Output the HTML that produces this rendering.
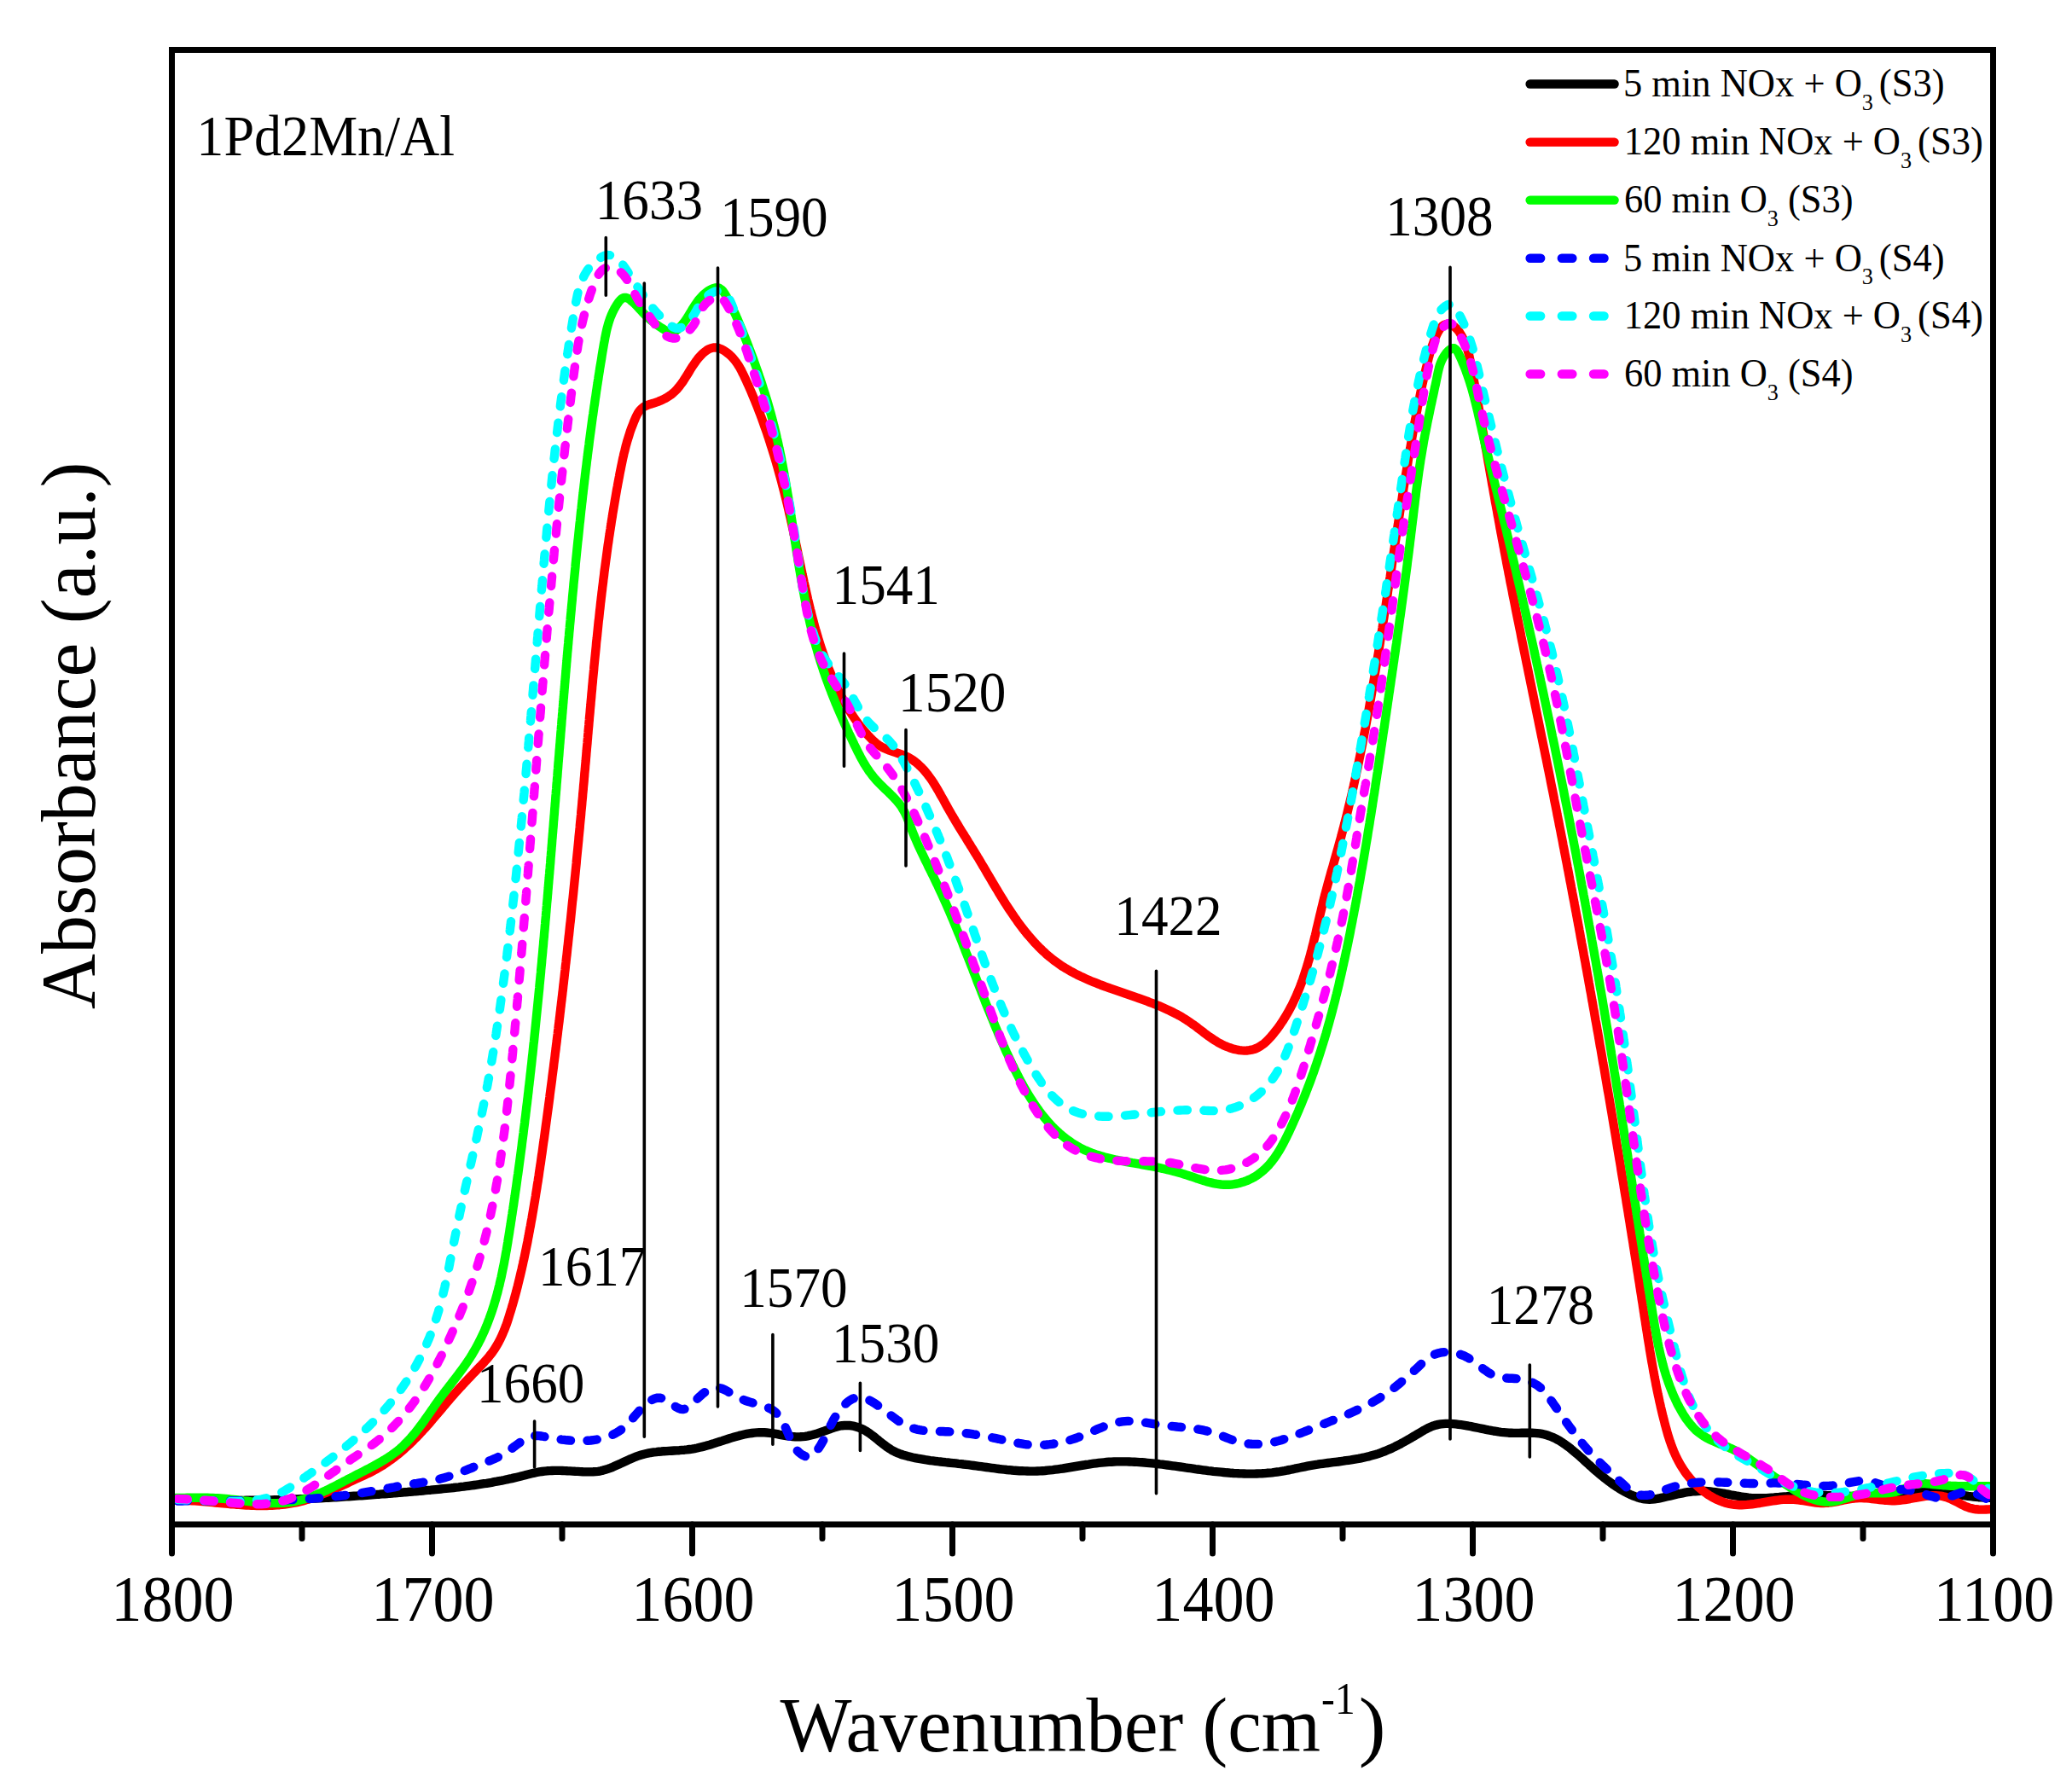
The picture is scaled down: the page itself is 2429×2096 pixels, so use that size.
<!DOCTYPE html>
<html><head><meta charset="utf-8"><title>FTIR 1Pd2Mn/Al</title>
<style>html,body{margin:0;padding:0;background:#fff}svg{display:block}text{font-family:"Liberation Serif",serif;fill:#000;white-space:pre}</style></head><body>
<svg width="2429" height="2096" viewBox="0 0 2429 2096">
<rect width="2429" height="2096" fill="#fff"/>
<defs><clipPath id="pc"><rect x="201.5" y="58.5" width="2135.0" height="1728.5"/></clipPath></defs>
<g clip-path="url(#pc)" fill="none" stroke-width="10.4" stroke-linecap="round" stroke-linejoin="round">
<path d="M177.5 1755.1L180.5 1755.3L183.5 1755.5L186.5 1755.8L189.5 1756.0L192.5 1756.2L195.5 1756.4L198.5 1756.5L201.5 1756.7L204.5 1756.9L207.6 1757.1L210.6 1757.2L213.6 1757.4L216.6 1757.5L219.6 1757.6L222.6 1757.8L225.6 1757.9L228.6 1758.0L231.6 1758.1L234.6 1758.2L237.6 1758.3L240.6 1758.4L243.6 1758.4L246.6 1758.5L249.6 1758.6L252.6 1758.6L255.6 1758.7L258.6 1758.7L261.6 1758.8L264.7 1758.8L267.7 1758.8L270.7 1758.9L273.7 1758.9L276.7 1758.9L279.7 1758.9L282.7 1758.9L285.7 1758.9L288.7 1758.8L291.7 1758.8L294.7 1758.8L297.7 1758.8L300.7 1758.7L303.7 1758.7L306.7 1758.6L309.7 1758.6L312.7 1758.5L315.7 1758.5L318.7 1758.4L321.8 1758.3L324.8 1758.2L327.8 1758.1L330.8 1758.1L333.8 1758.0L336.8 1757.9L339.8 1757.8L342.8 1757.7L345.8 1757.5L348.8 1757.4L351.8 1757.3L354.8 1757.2L357.8 1757.0L360.8 1756.9L363.8 1756.8L366.8 1756.6L369.8 1756.5L372.8 1756.3L375.8 1756.2L378.8 1756.0L381.8 1755.8L384.8 1755.7L387.8 1755.5L390.8 1755.3L393.8 1755.2L396.8 1755.0L399.9 1754.8L402.9 1754.6L405.9 1754.4L408.9 1754.2L411.9 1754.0L414.9 1753.8L417.9 1753.6L420.9 1753.4L423.9 1753.2L426.9 1753.0L429.9 1752.8L432.9 1752.6L435.9 1752.3L438.9 1752.1L441.9 1751.9L444.9 1751.7L447.9 1751.4L450.9 1751.2L453.9 1751.0L456.9 1750.7L459.9 1750.5L462.9 1750.2L465.9 1750.0L468.9 1749.7L471.9 1749.5L474.9 1749.2L477.8 1749.0L480.8 1748.7L483.8 1748.5L486.8 1748.2L489.8 1748.0L492.8 1747.7L495.8 1747.5L498.8 1747.2L501.8 1746.9L504.8 1746.7L507.8 1746.4L510.8 1746.1L513.8 1745.8L516.8 1745.5L519.8 1745.2L522.8 1744.9L525.8 1744.6L528.7 1744.3L531.7 1744.0L534.7 1743.6L537.7 1743.3L540.7 1742.9L543.7 1742.6L546.7 1742.2L549.6 1741.8L552.6 1741.4L555.6 1741.0L558.6 1740.6L561.5 1740.2L564.5 1739.7L567.5 1739.2L570.4 1738.8L573.4 1738.3L576.4 1737.8L579.3 1737.2L582.3 1736.7L585.2 1736.1L588.2 1735.6L591.2 1735.0L594.1 1734.3L597.1 1733.7L600.0 1733.1L602.9 1732.4L605.9 1731.7L608.8 1731.0L611.8 1730.2L614.7 1729.5L617.6 1728.7L620.6 1728.0L623.5 1727.3L626.4 1726.6L629.4 1726.0L632.3 1725.4L635.3 1725.0L638.2 1724.6L641.2 1724.3L644.2 1724.1L647.2 1724.0L650.2 1723.9L653.2 1723.9L656.2 1723.9L659.2 1724.0L662.2 1724.1L665.2 1724.3L668.2 1724.4L671.3 1724.6L674.3 1724.8L677.3 1724.9L680.3 1725.1L683.3 1725.3L686.3 1725.4L689.3 1725.4L692.3 1725.4L695.3 1725.3L698.3 1725.1L701.2 1724.8L704.1 1724.3L707.0 1723.6L709.8 1722.8L712.7 1721.9L715.5 1720.9L718.3 1719.8L721.0 1718.6L723.8 1717.3L726.6 1716.1L729.4 1714.8L732.1 1713.5L734.9 1712.2L737.7 1710.9L740.5 1709.7L743.3 1708.5L746.1 1707.4L749.0 1706.4L751.8 1705.5L754.7 1704.7L757.6 1704.0L760.5 1703.4L763.5 1702.9L766.4 1702.4L769.4 1702.1L772.3 1701.7L775.3 1701.5L778.3 1701.2L781.3 1701.1L784.3 1700.9L787.3 1700.7L790.3 1700.5L793.3 1700.4L796.3 1700.2L799.3 1699.9L802.3 1699.7L805.3 1699.4L808.3 1699.0L811.3 1698.6L814.2 1698.1L817.2 1697.5L820.1 1696.8L823.1 1696.1L826.0 1695.4L828.9 1694.5L831.9 1693.7L834.8 1692.8L837.7 1691.9L840.6 1690.9L843.5 1690.0L846.4 1689.1L849.3 1688.1L852.2 1687.2L855.1 1686.3L858.0 1685.4L860.9 1684.5L863.8 1683.7L866.7 1682.9L869.6 1682.2L872.5 1681.5L875.4 1680.9L878.4 1680.4L881.3 1680.0L884.2 1679.6L887.2 1679.4L890.2 1679.2L893.1 1679.2L896.1 1679.3L899.1 1679.5L902.1 1679.8L905.1 1680.2L908.1 1680.7L911.2 1681.2L914.2 1681.8L917.2 1682.3L920.2 1682.8L923.2 1683.3L926.2 1683.7L929.2 1684.1L932.2 1684.3L935.1 1684.4L938.1 1684.3L941.0 1684.1L943.9 1683.8L946.8 1683.3L949.6 1682.7L952.5 1682.0L955.4 1681.2L958.2 1680.4L961.1 1679.4L963.9 1678.4L966.8 1677.4L969.7 1676.3L972.6 1675.3L975.4 1674.2L978.3 1673.3L981.3 1672.4L984.2 1671.7L987.1 1671.2L990.0 1671.0L992.9 1670.9L995.9 1671.0L998.7 1671.4L1001.6 1671.9L1004.4 1672.7L1007.1 1673.6L1009.8 1674.7L1012.5 1676.0L1015.1 1677.5L1017.6 1679.1L1020.1 1680.8L1022.5 1682.6L1025.0 1684.5L1027.4 1686.5L1029.8 1688.4L1032.2 1690.4L1034.7 1692.3L1037.1 1694.2L1039.6 1696.1L1042.1 1697.8L1044.7 1699.4L1047.3 1700.9L1050.0 1702.2L1052.7 1703.4L1055.5 1704.5L1058.3 1705.5L1061.2 1706.3L1064.1 1707.1L1067.0 1707.8L1069.9 1708.5L1072.8 1709.1L1075.7 1709.7L1078.7 1710.2L1081.6 1710.7L1084.6 1711.2L1087.5 1711.6L1090.5 1712.1L1093.5 1712.4L1096.5 1712.8L1099.5 1713.2L1102.4 1713.5L1105.4 1713.8L1108.4 1714.2L1111.4 1714.5L1114.4 1714.8L1117.4 1715.1L1120.5 1715.4L1123.5 1715.8L1126.5 1716.1L1129.5 1716.5L1132.5 1716.8L1135.5 1717.2L1138.4 1717.6L1141.4 1718.0L1144.4 1718.4L1147.4 1718.8L1150.4 1719.2L1153.4 1719.6L1156.4 1720.0L1159.4 1720.4L1162.4 1720.8L1165.4 1721.2L1168.3 1721.6L1171.3 1722.0L1174.3 1722.3L1177.3 1722.6L1180.3 1723.0L1183.3 1723.2L1186.2 1723.5L1189.2 1723.8L1192.2 1724.0L1195.2 1724.2L1198.2 1724.3L1201.2 1724.4L1204.2 1724.5L1207.1 1724.6L1210.1 1724.6L1213.1 1724.6L1216.1 1724.5L1219.1 1724.4L1222.1 1724.2L1225.1 1724.0L1228.1 1723.7L1231.1 1723.4L1234.1 1723.1L1237.1 1722.7L1240.1 1722.3L1243.1 1721.9L1246.1 1721.5L1249.1 1721.0L1252.1 1720.5L1255.1 1720.0L1258.1 1719.5L1261.1 1719.0L1264.1 1718.5L1267.1 1718.0L1270.1 1717.5L1273.1 1717.0L1276.1 1716.6L1279.1 1716.1L1282.1 1715.7L1285.1 1715.3L1288.1 1714.9L1291.1 1714.6L1294.1 1714.3L1297.0 1714.0L1300.0 1713.8L1303.0 1713.7L1306.0 1713.5L1309.0 1713.4L1312.0 1713.4L1315.0 1713.4L1318.0 1713.4L1321.0 1713.4L1323.9 1713.5L1326.9 1713.6L1329.9 1713.7L1332.9 1713.9L1335.9 1714.1L1338.9 1714.3L1341.8 1714.5L1344.8 1714.8L1347.8 1715.1L1350.8 1715.4L1353.8 1715.7L1356.7 1716.0L1359.7 1716.4L1362.7 1716.7L1365.7 1717.1L1368.7 1717.5L1371.6 1717.9L1374.6 1718.3L1377.6 1718.7L1380.6 1719.1L1383.6 1719.5L1386.5 1719.9L1389.5 1720.4L1392.5 1720.8L1395.5 1721.2L1398.5 1721.6L1401.5 1722.1L1404.4 1722.5L1407.4 1722.9L1410.4 1723.3L1413.4 1723.7L1416.4 1724.1L1419.4 1724.4L1422.4 1724.8L1425.4 1725.1L1428.4 1725.4L1431.4 1725.7L1434.4 1726.0L1437.4 1726.3L1440.4 1726.5L1443.4 1726.8L1446.4 1727.0L1449.4 1727.1L1452.4 1727.3L1455.4 1727.4L1458.4 1727.5L1461.4 1727.6L1464.4 1727.6L1467.4 1727.6L1470.4 1727.6L1473.4 1727.5L1476.4 1727.4L1479.4 1727.3L1482.4 1727.1L1485.3 1726.8L1488.3 1726.6L1491.3 1726.3L1494.3 1725.9L1497.2 1725.5L1500.2 1725.1L1503.2 1724.6L1506.1 1724.1L1509.0 1723.5L1512.0 1723.0L1514.9 1722.4L1517.9 1721.7L1520.8 1721.1L1523.8 1720.5L1526.7 1719.9L1529.7 1719.3L1532.7 1718.7L1535.6 1718.1L1538.6 1717.6L1541.6 1717.1L1544.6 1716.7L1547.6 1716.2L1550.6 1715.8L1553.6 1715.4L1556.6 1715.0L1559.6 1714.6L1562.7 1714.2L1565.7 1713.8L1568.7 1713.5L1571.7 1713.1L1574.7 1712.7L1577.7 1712.2L1580.7 1711.8L1583.7 1711.4L1586.6 1710.9L1589.6 1710.4L1592.6 1709.9L1595.5 1709.3L1598.4 1708.7L1601.4 1708.0L1604.2 1707.4L1607.1 1706.6L1610.0 1705.8L1612.8 1705.0L1615.7 1704.1L1618.5 1703.1L1621.2 1702.0L1624.0 1701.0L1626.7 1699.8L1629.5 1698.6L1632.2 1697.4L1634.9 1696.1L1637.6 1694.7L1640.3 1693.4L1642.9 1691.9L1645.6 1690.5L1648.3 1689.0L1650.9 1687.5L1653.6 1686.0L1656.2 1684.4L1658.9 1682.9L1661.5 1681.3L1664.2 1679.7L1666.8 1678.1L1669.5 1676.5L1672.2 1675.1L1674.9 1673.7L1677.6 1672.5L1680.4 1671.4L1683.2 1670.6L1686.1 1669.9L1689.0 1669.4L1691.9 1669.1L1694.8 1668.9L1697.8 1668.9L1700.7 1669.0L1703.7 1669.1L1706.7 1669.4L1709.7 1669.8L1712.7 1670.2L1715.6 1670.6L1718.6 1671.1L1721.5 1671.7L1724.5 1672.2L1727.4 1672.8L1730.3 1673.4L1733.3 1674.0L1736.2 1674.6L1739.1 1675.2L1742.1 1675.8L1745.0 1676.4L1747.9 1676.9L1750.9 1677.5L1753.8 1677.9L1756.7 1678.4L1759.7 1678.8L1762.7 1679.1L1765.7 1679.4L1768.7 1679.7L1771.7 1679.8L1774.7 1679.9L1777.7 1679.9L1780.7 1679.9L1783.8 1679.8L1786.8 1679.8L1789.9 1679.7L1792.9 1679.7L1795.9 1679.8L1798.8 1679.9L1801.8 1680.1L1804.7 1680.4L1807.6 1680.9L1810.4 1681.5L1813.2 1682.3L1816.0 1683.2L1818.7 1684.3L1821.4 1685.4L1824.0 1686.7L1826.6 1688.1L1829.2 1689.6L1831.7 1691.2L1834.2 1692.9L1836.7 1694.7L1839.2 1696.5L1841.6 1698.4L1844.0 1700.4L1846.4 1702.4L1848.8 1704.4L1851.1 1706.5L1853.5 1708.6L1855.8 1710.7L1858.1 1712.8L1860.4 1714.9L1862.7 1717.0L1865.0 1719.0L1867.3 1721.1L1869.5 1723.1L1871.8 1725.1L1874.1 1727.0L1876.4 1728.9L1878.7 1730.8L1881.0 1732.7L1883.3 1734.5L1885.7 1736.3L1888.1 1738.0L1890.5 1739.8L1892.9 1741.4L1895.4 1743.1L1897.9 1744.7L1900.4 1746.2L1903.0 1747.7L1905.6 1749.2L1908.3 1750.6L1911.0 1751.9L1913.7 1753.1L1916.5 1754.2L1919.3 1755.2L1922.1 1756.1L1925.0 1756.8L1927.9 1757.3L1930.8 1757.6L1933.7 1757.7L1936.7 1757.6L1939.7 1757.3L1942.7 1756.9L1945.6 1756.3L1948.6 1755.7L1951.6 1755.0L1954.6 1754.3L1957.6 1753.6L1960.6 1752.9L1963.5 1752.2L1966.5 1751.5L1969.5 1750.9L1972.5 1750.3L1975.4 1749.7L1978.4 1749.2L1981.4 1748.8L1984.3 1748.4L1987.3 1748.2L1990.3 1748.0L1993.2 1747.9L1996.2 1747.9L1999.2 1748.0L2002.1 1748.2L2005.1 1748.5L2008.1 1748.8L2011.0 1749.2L2014.0 1749.6L2017.0 1750.1L2020.0 1750.6L2022.9 1751.2L2025.9 1751.7L2028.9 1752.3L2031.9 1752.8L2034.9 1753.4L2037.8 1753.9L2040.8 1754.4L2043.8 1754.8L2046.8 1755.2L2049.8 1755.6L2052.8 1755.9L2055.8 1756.1L2058.8 1756.2L2061.8 1756.3L2064.8 1756.2L2067.8 1756.2L2070.7 1756.1L2073.7 1755.9L2076.7 1755.7L2079.7 1755.5L2082.7 1755.2L2085.7 1755.0L2088.7 1754.7L2091.8 1754.4L2094.8 1754.2L2097.8 1753.9L2100.8 1753.7L2103.8 1753.5L2106.8 1753.3L2109.8 1753.2L2112.8 1753.0L2115.8 1753.0L2118.8 1752.9L2121.8 1752.9L2124.8 1752.9L2127.8 1752.9L2130.8 1752.9L2133.8 1752.9L2136.8 1753.0L2139.8 1753.0L2142.8 1753.1L2145.8 1753.2L2148.8 1753.3L2151.9 1753.4L2154.9 1753.5L2157.9 1753.6L2160.9 1753.7L2163.9 1753.7L2166.9 1753.8L2169.9 1753.9L2172.9 1754.0L2175.9 1754.0L2178.9 1754.1L2181.9 1754.1L2184.9 1754.1L2188.0 1754.1L2191.0 1754.0L2194.0 1753.9L2197.0 1753.9L2200.0 1753.8L2203.0 1753.6L2206.0 1753.5L2209.0 1753.3L2212.0 1753.1L2215.0 1752.9L2218.0 1752.7L2221.0 1752.4L2224.0 1752.2L2227.0 1751.9L2230.0 1751.5L2233.0 1751.2L2236.0 1750.9L2239.0 1750.6L2242.0 1750.3L2244.9 1750.0L2247.9 1749.7L2250.9 1749.5L2253.9 1749.3L2256.8 1749.1L2259.8 1749.0L2262.8 1748.9L2265.8 1749.0L2268.7 1749.1L2271.7 1749.2L2274.7 1749.4L2277.6 1749.7L2280.6 1750.0L2283.6 1750.4L2286.6 1750.7L2289.5 1751.2L2292.5 1751.6L2295.5 1752.0L2298.5 1752.5L2301.4 1752.9L2304.4 1753.3L2307.4 1753.8L2310.4 1754.2L2313.4 1754.5L2316.4 1754.9L2319.4 1755.2L2322.4 1755.4L2325.4 1755.6L2328.4 1755.8L2331.4 1755.9L2334.4 1755.9L2337.4 1755.8L2340.4 1755.7L2343.4 1755.5L2346.5 1755.2L2349.5 1755.0L2352.5 1754.8L2355.5 1754.7L2358.5 1754.6L2361.5 1754.7" stroke="#000000"/>
<path d="M177.7 1759.7L180.6 1759.3L183.6 1759.1L186.5 1758.8L189.4 1758.7L192.4 1758.5L195.3 1758.4L198.3 1758.4L201.3 1758.3L204.2 1758.3L207.2 1758.4L210.2 1758.4L213.2 1758.5L216.2 1758.7L219.2 1758.8L222.2 1759.0L225.2 1759.2L228.2 1759.4L231.3 1759.6L234.3 1759.8L237.3 1760.1L240.3 1760.3L243.4 1760.6L246.4 1760.9L249.4 1761.2L252.5 1761.5L255.5 1761.8L258.5 1762.0L261.6 1762.3L264.6 1762.6L267.6 1762.9L270.7 1763.2L273.7 1763.4L276.7 1763.7L279.7 1763.9L282.8 1764.1L285.8 1764.3L288.8 1764.5L291.8 1764.6L294.8 1764.8L297.9 1764.9L300.9 1765.0L303.9 1765.0L306.9 1765.0L309.9 1765.0L312.8 1765.0L315.8 1764.9L318.8 1764.8L321.8 1764.6L324.7 1764.4L327.7 1764.2L330.6 1763.9L333.5 1763.6L336.5 1763.2L339.4 1762.7L342.3 1762.2L345.2 1761.7L348.1 1761.1L351.0 1760.4L353.9 1759.7L356.7 1758.9L359.6 1758.1L362.4 1757.2L365.3 1756.3L368.1 1755.3L370.9 1754.3L373.7 1753.2L376.5 1752.1L379.3 1751.0L382.1 1749.9L384.9 1748.7L387.7 1747.5L390.4 1746.3L393.2 1745.0L395.9 1743.8L398.7 1742.5L401.4 1741.2L404.2 1740.0L406.9 1738.7L409.7 1737.4L412.4 1736.1L415.1 1734.8L417.8 1733.6L420.6 1732.3L423.3 1731.1L426.0 1729.8L428.7 1728.5L431.4 1727.3L434.0 1726.0L436.7 1724.6L439.3 1723.2L441.9 1721.8L444.5 1720.3L447.0 1718.8L449.6 1717.2L452.1 1715.5L454.5 1713.9L457.0 1712.1L459.4 1710.4L461.8 1708.6L464.2 1706.7L466.6 1704.8L468.9 1702.9L471.2 1701.0L473.5 1699.0L475.7 1697.0L478.0 1694.9L480.2 1692.9L482.4 1690.8L484.5 1688.7L486.6 1686.5L488.8 1684.4L490.9 1682.2L492.9 1680.0L495.0 1677.8L497.0 1675.6L499.0 1673.4L501.0 1671.1L503.0 1668.9L504.9 1666.6L506.9 1664.3L508.8 1662.0L510.8 1659.8L512.7 1657.5L514.7 1655.2L516.6 1652.9L518.5 1650.6L520.4 1648.3L522.4 1646.0L524.3 1643.7L526.2 1641.5L528.2 1639.2L530.1 1636.9L532.1 1634.7L534.1 1632.4L536.1 1630.2L538.1 1628.0L540.1 1625.8L542.2 1623.6L544.2 1621.4L546.3 1619.2L548.3 1617.0L550.4 1614.8L552.5 1612.6L554.5 1610.5L556.6 1608.3L558.7 1606.1L560.8 1603.9L562.9 1601.8L565.0 1599.6L567.0 1597.4L569.0 1595.1L571.0 1592.9L573.0 1590.6L574.8 1588.3L576.7 1585.9L578.4 1583.5L580.1 1581.0L581.6 1578.5L583.1 1576.0L584.6 1573.4L586.0 1570.7L587.3 1568.0L588.5 1565.3L589.7 1562.6L590.9 1559.8L592.0 1557.0L593.1 1554.2L594.1 1551.4L595.1 1548.5L596.0 1545.6L596.9 1542.7L597.8 1539.8L598.7 1536.9L599.6 1534.0L600.4 1531.1L601.3 1528.2L602.1 1525.3L602.9 1522.4L603.7 1519.5L604.5 1516.6L605.3 1513.7L606.0 1510.8L606.8 1507.8L607.5 1504.9L608.2 1502.0L608.9 1499.1L609.6 1496.2L610.3 1493.2L611.0 1490.3L611.7 1487.4L612.3 1484.5L613.0 1481.6L613.6 1478.6L614.3 1475.7L614.9 1472.8L615.5 1469.8L616.1 1466.9L616.7 1464.0L617.3 1461.0L617.9 1458.1L618.5 1455.2L619.0 1452.2L619.6 1449.3L620.1 1446.3L620.7 1443.4L621.2 1440.4L621.8 1437.5L622.3 1434.6L622.8 1431.6L623.4 1428.7L623.9 1425.7L624.4 1422.7L624.9 1419.8L625.4 1416.8L625.9 1413.9L626.4 1410.9L626.9 1408.0L627.4 1405.0L627.9 1402.0L628.3 1399.1L628.8 1396.1L629.3 1393.2L629.7 1390.2L630.2 1387.2L630.7 1384.3L631.1 1381.3L631.6 1378.3L632.0 1375.3L632.4 1372.4L632.9 1369.4L633.3 1366.4L633.8 1363.5L634.2 1360.5L634.6 1357.5L635.0 1354.5L635.5 1351.6L635.9 1348.6L636.3 1345.6L636.7 1342.6L637.1 1339.7L637.6 1336.7L638.0 1333.7L638.4 1330.7L638.8 1327.8L639.2 1324.8L639.6 1321.8L640.0 1318.8L640.4 1315.9L640.8 1312.9L641.2 1309.9L641.6 1306.9L642.0 1303.9L642.4 1301.0L642.8 1298.0L643.2 1295.0L643.6 1292.0L644.0 1289.1L644.4 1286.1L644.7 1283.1L645.1 1280.1L645.5 1277.1L645.9 1274.2L646.3 1271.2L646.7 1268.2L647.1 1265.2L647.4 1262.2L647.8 1259.3L648.2 1256.3L648.6 1253.3L649.0 1250.3L649.3 1247.4L649.7 1244.4L650.1 1241.4L650.5 1238.4L650.8 1235.4L651.2 1232.5L651.6 1229.5L651.9 1226.5L652.3 1223.5L652.7 1220.5L653.0 1217.6L653.4 1214.6L653.8 1211.6L654.1 1208.6L654.5 1205.6L654.8 1202.7L655.2 1199.7L655.6 1196.7L655.9 1193.7L656.3 1190.7L656.6 1187.8L657.0 1184.8L657.3 1181.8L657.7 1178.8L658.0 1175.8L658.4 1172.9L658.7 1169.9L659.1 1166.9L659.4 1163.9L659.8 1160.9L660.1 1157.9L660.4 1155.0L660.8 1152.0L661.1 1149.0L661.5 1146.0L661.8 1143.0L662.1 1140.1L662.5 1137.1L662.8 1134.1L663.1 1131.1L663.5 1128.1L663.8 1125.1L664.1 1122.2L664.5 1119.2L664.8 1116.2L665.1 1113.2L665.4 1110.2L665.8 1107.2L666.1 1104.3L666.4 1101.3L666.7 1098.3L667.1 1095.3L667.4 1092.3L667.7 1089.3L668.0 1086.4L668.3 1083.4L668.7 1080.4L669.0 1077.4L669.3 1074.4L669.6 1071.4L669.9 1068.5L670.2 1065.5L670.5 1062.5L670.8 1059.5L671.1 1056.5L671.5 1053.5L671.8 1050.5L672.1 1047.6L672.4 1044.6L672.7 1041.6L673.0 1038.6L673.3 1035.6L673.6 1032.6L673.9 1029.6L674.2 1026.7L674.5 1023.7L674.8 1020.7L675.1 1017.7L675.4 1014.7L675.7 1011.7L675.9 1008.7L676.2 1005.7L676.5 1002.8L676.8 999.8L677.1 996.8L677.4 993.8L677.7 990.8L678.0 987.8L678.3 984.8L678.5 981.8L678.8 978.9L679.1 975.9L679.4 972.9L679.7 969.9L679.9 966.9L680.2 963.9L680.5 960.9L680.8 957.9L681.1 954.9L681.3 951.9L681.6 949.0L681.9 946.0L682.2 943.0L682.4 940.0L682.7 937.0L683.0 934.0L683.2 931.0L683.5 928.0L683.8 925.0L684.0 922.0L684.3 919.1L684.6 916.1L684.8 913.1L685.1 910.1L685.3 907.1L685.6 904.1L685.9 901.1L686.1 898.1L686.4 895.1L686.7 892.1L686.9 889.1L687.2 886.1L687.4 883.1L687.7 880.1L687.9 877.2L688.2 874.2L688.5 871.2L688.7 868.2L689.0 865.2L689.2 862.2L689.5 859.2L689.7 856.2L690.0 853.2L690.3 850.2L690.5 847.2L690.8 844.2L691.0 841.2L691.3 838.2L691.6 835.3L691.8 832.3L692.1 829.3L692.4 826.3L692.6 823.3L692.9 820.3L693.2 817.3L693.4 814.3L693.7 811.3L694.0 808.3L694.2 805.3L694.5 802.3L694.8 799.4L695.0 796.4L695.3 793.4L695.6 790.4L695.9 787.4L696.2 784.4L696.4 781.4L696.7 778.4L697.0 775.4L697.3 772.4L697.6 769.5L697.9 766.5L698.2 763.5L698.5 760.5L698.8 757.5L699.0 754.5L699.3 751.5L699.7 748.5L700.0 745.6L700.3 742.6L700.6 739.6L700.9 736.6L701.2 733.6L701.5 730.6L701.8 727.6L702.2 724.7L702.5 721.7L702.8 718.7L703.1 715.7L703.5 712.7L703.8 709.7L704.1 706.8L704.5 703.8L704.8 700.8L705.2 697.8L705.5 694.8L705.9 691.9L706.2 688.9L706.6 685.9L707.0 682.9L707.3 679.9L707.7 677.0L708.1 674.0L708.4 671.0L708.8 668.0L709.2 665.1L709.6 662.1L710.0 659.1L710.4 656.1L710.8 653.2L711.2 650.2L711.6 647.2L712.0 644.3L712.4 641.3L712.8 638.3L713.3 635.4L713.7 632.4L714.1 629.4L714.6 626.4L715.0 623.5L715.5 620.5L715.9 617.6L716.4 614.6L716.8 611.6L717.3 608.7L717.8 605.7L718.2 602.7L718.7 599.8L719.2 596.8L719.7 593.9L720.2 590.9L720.7 587.9L721.2 585.0L721.7 582.0L722.2 579.1L722.7 576.1L723.2 573.2L723.8 570.2L724.3 567.3L724.9 564.3L725.4 561.4L726.0 558.4L726.5 555.5L727.1 552.5L727.7 549.6L728.3 546.6L728.9 543.7L729.5 540.8L730.1 537.8L730.8 534.9L731.4 532.0L732.2 529.0L732.9 526.1L733.6 523.2L734.4 520.3L735.2 517.4L736.1 514.5L737.0 511.6L737.9 508.7L738.8 505.8L739.8 503.0L740.9 500.1L742.0 497.3L743.1 494.4L744.3 491.6L745.5 488.8L746.9 486.0L748.4 483.4L750.1 481.1L752.1 479.0L754.3 477.2L756.9 475.8L759.7 474.7L762.6 473.7L765.6 472.8L768.5 471.8L771.4 470.8L774.2 469.7L776.9 468.5L779.6 467.1L782.1 465.7L784.6 464.1L787.0 462.4L789.3 460.5L791.5 458.5L793.6 456.3L795.6 453.9L797.5 451.5L799.3 449.1L801.1 446.6L802.7 444.0L804.3 441.5L805.9 438.9L807.5 436.4L809.0 433.8L810.6 431.3L812.2 428.8L813.9 426.3L815.6 423.9L817.4 421.5L819.3 419.1L821.4 416.9L823.5 414.7L825.9 412.6L828.3 410.8L830.8 409.3L833.5 408.2L836.3 407.5L839.1 407.4L842.0 407.9L844.9 409.0L847.8 410.4L850.5 412.1L853.0 414.0L855.4 415.9L857.6 418.0L859.6 420.2L861.5 422.5L863.3 424.9L865.0 427.4L866.6 429.9L868.1 432.5L869.5 435.2L870.8 437.9L872.2 440.6L873.4 443.3L874.7 446.0L875.9 448.8L877.2 451.5L878.4 454.3L879.6 457.0L880.8 459.8L882.0 462.6L883.1 465.3L884.3 468.1L885.4 470.9L886.5 473.7L887.6 476.4L888.7 479.2L889.8 482.0L890.9 484.8L891.9 487.6L893.0 490.4L894.0 493.2L895.0 496.1L896.0 498.9L897.0 501.7L898.0 504.5L899.0 507.4L899.9 510.2L900.9 513.0L901.8 515.9L902.7 518.7L903.6 521.6L904.5 524.4L905.4 527.3L906.3 530.1L907.2 533.0L908.1 535.9L908.9 538.7L909.8 541.6L910.6 544.5L911.4 547.4L912.2 550.2L913.0 553.1L913.8 556.0L914.6 558.9L915.4 561.8L916.2 564.7L916.9 567.6L917.7 570.5L918.4 573.4L919.2 576.3L919.9 579.2L920.6 582.1L921.4 585.0L922.1 588.0L922.8 590.9L923.5 593.8L924.2 596.7L924.9 599.7L925.5 602.6L926.2 605.5L926.9 608.4L927.5 611.4L928.2 614.3L928.8 617.3L929.5 620.2L930.1 623.1L930.7 626.1L931.4 629.0L932.0 632.0L932.6 634.9L933.2 637.9L933.9 640.8L934.5 643.8L935.1 646.7L935.7 649.7L936.3 652.6L936.9 655.6L937.5 658.5L938.2 661.5L938.8 664.4L939.4 667.4L940.0 670.3L940.6 673.3L941.3 676.2L941.9 679.1L942.5 682.1L943.2 685.0L943.8 688.0L944.5 690.9L945.1 693.8L945.8 696.8L946.5 699.7L947.1 702.6L947.8 705.5L948.5 708.5L949.2 711.4L949.9 714.3L950.7 717.2L951.4 720.1L952.1 723.0L952.9 725.9L953.7 728.8L954.4 731.7L955.2 734.6L956.0 737.5L956.9 740.4L957.7 743.2L958.5 746.1L959.4 749.0L960.3 751.8L961.2 754.7L962.1 757.5L963.0 760.3L964.0 763.2L964.9 766.0L965.9 768.8L966.9 771.6L968.0 774.4L969.0 777.2L970.1 780.0L971.1 782.8L972.2 785.6L973.4 788.4L974.5 791.1L975.7 793.9L976.9 796.6L978.1 799.4L979.4 802.1L980.6 804.8L981.9 807.5L983.2 810.2L984.6 812.9L986.0 815.6L987.4 818.3L988.8 820.9L990.2 823.6L991.7 826.2L993.3 828.8L994.8 831.4L996.4 833.9L998.0 836.5L999.7 839.0L1001.3 841.5L1003.1 844.0L1004.8 846.4L1006.6 848.8L1008.4 851.2L1010.3 853.6L1012.2 855.9L1014.2 858.2L1016.2 860.5L1018.2 862.7L1020.3 864.9L1022.4 867.0L1024.6 869.1L1026.9 871.0L1029.2 872.8L1031.7 874.5L1034.2 876.0L1036.9 877.3L1039.7 878.5L1042.5 879.6L1045.4 880.6L1048.3 881.6L1051.2 882.5L1054.1 883.5L1056.9 884.4L1059.7 885.5L1062.5 886.7L1065.1 888.0L1067.6 889.5L1070.1 891.0L1072.4 892.7L1074.7 894.5L1076.9 896.4L1079.0 898.4L1081.1 900.5L1083.1 902.6L1085.0 904.9L1086.9 907.2L1088.7 909.6L1090.5 912.0L1092.3 914.5L1094.0 917.1L1095.6 919.7L1097.2 922.3L1098.8 925.0L1100.4 927.7L1101.9 930.4L1103.4 933.1L1105.0 935.8L1106.5 938.5L1107.9 941.2L1109.4 943.9L1110.9 946.6L1112.4 949.3L1113.9 951.9L1115.4 954.5L1116.9 957.1L1118.5 959.7L1120.0 962.3L1121.5 964.8L1123.0 967.3L1124.6 969.9L1126.1 972.4L1127.6 974.9L1129.2 977.3L1130.7 979.8L1132.3 982.3L1133.8 984.8L1135.3 987.3L1136.9 989.7L1138.4 992.2L1140.0 994.7L1141.5 997.2L1143.0 999.7L1144.6 1002.3L1146.1 1004.8L1147.7 1007.3L1149.2 1009.9L1150.7 1012.5L1152.2 1015.0L1153.8 1017.6L1155.3 1020.2L1156.8 1022.8L1158.4 1025.5L1159.9 1028.1L1161.5 1030.7L1163.0 1033.3L1164.6 1036.0L1166.1 1038.6L1167.7 1041.2L1169.3 1043.8L1170.8 1046.5L1172.4 1049.1L1174.0 1051.7L1175.7 1054.3L1177.3 1056.9L1178.9 1059.5L1180.6 1062.1L1182.2 1064.6L1183.9 1067.2L1185.6 1069.7L1187.3 1072.2L1189.0 1074.7L1190.8 1077.2L1192.5 1079.7L1194.3 1082.2L1196.1 1084.6L1197.9 1087.0L1199.8 1089.4L1201.6 1091.8L1203.5 1094.1L1205.4 1096.4L1207.4 1098.7L1209.3 1100.9L1211.3 1103.2L1213.3 1105.4L1215.3 1107.5L1217.4 1109.7L1219.5 1111.7L1221.6 1113.8L1223.8 1115.8L1225.9 1117.8L1228.1 1119.8L1230.4 1121.7L1232.7 1123.5L1235.0 1125.3L1237.3 1127.1L1239.7 1128.8L1242.1 1130.5L1244.5 1132.2L1247.0 1133.7L1249.5 1135.3L1252.1 1136.8L1254.6 1138.3L1257.2 1139.7L1259.9 1141.1L1262.5 1142.5L1265.2 1143.8L1267.9 1145.1L1270.6 1146.3L1273.4 1147.6L1276.1 1148.8L1278.9 1150.0L1281.7 1151.1L1284.5 1152.2L1287.4 1153.4L1290.2 1154.5L1293.0 1155.5L1295.9 1156.6L1298.8 1157.6L1301.6 1158.7L1304.5 1159.7L1307.4 1160.7L1310.3 1161.7L1313.2 1162.7L1316.1 1163.7L1318.9 1164.7L1321.8 1165.7L1324.7 1166.7L1327.6 1167.7L1330.5 1168.7L1333.3 1169.6L1336.2 1170.7L1339.0 1171.7L1341.8 1172.7L1344.7 1173.7L1347.5 1174.8L1350.3 1175.8L1353.0 1176.9L1355.8 1178.0L1358.6 1179.1L1361.3 1180.3L1364.0 1181.5L1366.7 1182.7L1369.4 1183.9L1372.1 1185.2L1374.7 1186.5L1377.3 1187.8L1379.9 1189.2L1382.5 1190.6L1385.1 1192.1L1387.6 1193.6L1390.1 1195.2L1392.6 1196.8L1395.1 1198.5L1397.5 1200.2L1400.0 1201.9L1402.4 1203.7L1404.8 1205.6L1407.2 1207.4L1409.6 1209.2L1412.0 1211.1L1414.4 1212.9L1416.9 1214.7L1419.4 1216.4L1421.9 1218.1L1424.5 1219.8L1427.1 1221.4L1429.7 1222.9L1432.5 1224.4L1435.2 1225.7L1438.1 1226.9L1441.0 1228.0L1443.9 1229.0L1446.9 1229.9L1449.8 1230.5L1452.8 1231.1L1455.8 1231.4L1458.7 1231.6L1461.6 1231.5L1464.5 1231.2L1467.3 1230.7L1470.0 1230.0L1472.7 1229.0L1475.2 1227.8L1477.7 1226.3L1480.1 1224.6L1482.5 1222.8L1484.7 1220.7L1486.9 1218.6L1489.0 1216.3L1491.0 1214.0L1493.0 1211.6L1495.0 1209.1L1496.9 1206.7L1498.7 1204.2L1500.5 1201.7L1502.2 1199.2L1503.9 1196.7L1505.5 1194.1L1507.1 1191.5L1508.6 1188.9L1510.1 1186.3L1511.6 1183.7L1513.0 1181.0L1514.4 1178.4L1515.7 1175.7L1517.0 1173.0L1518.3 1170.3L1519.5 1167.6L1520.7 1164.9L1521.8 1162.1L1523.0 1159.3L1524.1 1156.6L1525.1 1153.8L1526.2 1151.0L1527.2 1148.2L1528.1 1145.4L1529.1 1142.5L1530.0 1139.7L1530.9 1136.9L1531.8 1134.0L1532.7 1131.1L1533.5 1128.3L1534.4 1125.4L1535.2 1122.5L1536.0 1119.6L1536.7 1116.7L1537.5 1113.8L1538.2 1110.9L1539.0 1108.0L1539.7 1105.1L1540.4 1102.1L1541.1 1099.2L1541.9 1096.3L1542.6 1093.4L1543.2 1090.4L1543.9 1087.5L1544.6 1084.6L1545.3 1081.6L1546.0 1078.7L1546.7 1075.8L1547.4 1072.8L1548.1 1069.9L1548.8 1067.0L1549.5 1064.0L1550.2 1061.1L1550.9 1058.2L1551.6 1055.3L1552.4 1052.4L1553.1 1049.5L1553.9 1046.6L1554.7 1043.7L1555.4 1040.8L1556.2 1037.9L1557.0 1035.0L1557.8 1032.1L1558.6 1029.2L1559.4 1026.3L1560.2 1023.4L1561.0 1020.5L1561.9 1017.7L1562.7 1014.8L1563.5 1011.9L1564.3 1009.0L1565.1 1006.2L1565.9 1003.3L1566.8 1000.4L1567.6 997.5L1568.4 994.6L1569.2 991.8L1570.0 988.9L1570.8 986.0L1571.6 983.1L1572.4 980.2L1573.1 977.3L1573.9 974.4L1574.7 971.5L1575.4 968.6L1576.2 965.7L1576.9 962.8L1577.7 959.9L1578.4 957.0L1579.1 954.1L1579.8 951.2L1580.5 948.3L1581.2 945.3L1581.9 942.4L1582.6 939.5L1583.3 936.6L1584.0 933.7L1584.7 930.7L1585.4 927.8L1586.0 924.9L1586.7 921.9L1587.3 919.0L1588.0 916.1L1588.6 913.1L1589.3 910.2L1589.9 907.3L1590.5 904.3L1591.2 901.4L1591.8 898.4L1592.4 895.5L1593.0 892.6L1593.6 889.6L1594.2 886.7L1594.8 883.7L1595.4 880.8L1596.0 877.8L1596.6 874.9L1597.2 871.9L1597.7 869.0L1598.3 866.0L1598.9 863.1L1599.4 860.1L1600.0 857.2L1600.6 854.2L1601.1 851.2L1601.7 848.3L1602.2 845.3L1602.8 842.4L1603.3 839.4L1603.8 836.5L1604.4 833.5L1604.9 830.5L1605.4 827.6L1605.9 824.6L1606.5 821.7L1607.0 818.7L1607.5 815.8L1608.0 812.8L1608.5 809.8L1609.0 806.9L1609.5 803.9L1610.0 801.0L1610.5 798.0L1611.0 795.0L1611.5 792.1L1612.0 789.1L1612.5 786.2L1613.0 783.2L1613.5 780.2L1614.0 777.3L1614.5 774.3L1614.9 771.4L1615.4 768.4L1615.9 765.4L1616.4 762.5L1616.8 759.5L1617.3 756.6L1617.8 753.6L1618.2 750.6L1618.7 747.7L1619.2 744.7L1619.6 741.8L1620.1 738.8L1620.6 735.8L1621.0 732.9L1621.5 729.9L1621.9 726.9L1622.4 724.0L1622.8 721.0L1623.3 718.0L1623.8 715.1L1624.2 712.1L1624.7 709.2L1625.1 706.2L1625.6 703.2L1626.0 700.3L1626.5 697.3L1626.9 694.3L1627.3 691.4L1627.8 688.4L1628.2 685.4L1628.7 682.5L1629.1 679.5L1629.6 676.5L1630.0 673.6L1630.5 670.6L1630.9 667.6L1631.4 664.7L1631.8 661.7L1632.2 658.7L1632.7 655.8L1633.1 652.8L1633.6 649.8L1634.0 646.9L1634.5 643.9L1634.9 640.9L1635.4 638.0L1635.8 635.0L1636.3 632.0L1636.7 629.1L1637.2 626.1L1637.6 623.1L1638.1 620.2L1638.5 617.2L1639.0 614.2L1639.4 611.3L1639.9 608.3L1640.3 605.3L1640.8 602.4L1641.2 599.4L1641.7 596.4L1642.2 593.5L1642.6 590.5L1643.1 587.5L1643.6 584.6L1644.0 581.6L1644.5 578.6L1645.0 575.6L1645.4 572.7L1645.9 569.7L1646.4 566.7L1646.9 563.8L1647.3 560.8L1647.8 557.8L1648.3 554.9L1648.8 551.9L1649.3 548.9L1649.8 545.9L1650.3 543.0L1650.7 540.0L1651.2 537.0L1651.7 534.1L1652.2 531.1L1652.7 528.1L1653.3 525.1L1653.8 522.2L1654.3 519.2L1654.8 516.2L1655.3 513.3L1655.8 510.3L1656.3 507.3L1656.9 504.4L1657.4 501.4L1657.9 498.4L1658.5 495.5L1659.0 492.5L1659.6 489.5L1660.1 486.6L1660.7 483.6L1661.3 480.7L1661.8 477.7L1662.4 474.8L1663.0 471.9L1663.6 468.9L1664.2 466.0L1664.8 463.1L1665.4 460.1L1666.0 457.2L1666.6 454.3L1667.2 451.4L1667.9 448.5L1668.5 445.6L1669.2 442.7L1669.8 439.8L1670.5 437.0L1671.2 434.1L1671.9 431.2L1672.6 428.4L1673.3 425.5L1674.0 422.7L1674.7 419.9L1675.5 417.0L1676.2 414.2L1677.1 411.3L1678.0 408.4L1678.9 405.5L1680.0 402.6L1681.1 399.5L1682.4 396.5L1683.8 393.3L1685.3 390.2L1687.0 387.2L1688.8 384.6L1690.8 382.4L1693.0 380.9L1695.3 380.0L1697.8 379.9L1700.2 380.4L1702.5 381.4L1704.7 382.8L1706.8 384.6L1708.8 386.7L1710.7 389.2L1712.4 391.8L1714.0 394.6L1715.5 397.6L1716.9 400.7L1718.2 403.7L1719.3 406.8L1720.3 409.8L1721.2 412.8L1722.0 415.8L1722.7 418.7L1723.3 421.7L1723.9 424.6L1724.5 427.5L1725.0 430.4L1725.6 433.3L1726.1 436.2L1726.6 439.1L1727.1 442.0L1727.7 444.9L1728.2 447.8L1728.7 450.7L1729.2 453.7L1729.8 456.6L1730.3 459.5L1730.8 462.4L1731.3 465.4L1731.8 468.3L1732.4 471.2L1732.9 474.1L1733.4 477.1L1733.9 480.0L1734.4 482.9L1734.9 485.9L1735.5 488.8L1736.0 491.8L1736.5 494.7L1737.0 497.6L1737.5 500.6L1738.0 503.5L1738.5 506.5L1739.1 509.4L1739.6 512.4L1740.1 515.3L1740.6 518.3L1741.1 521.2L1741.6 524.2L1742.2 527.1L1742.7 530.1L1743.2 533.0L1743.7 536.0L1744.2 538.9L1744.7 541.9L1745.3 544.9L1745.8 547.8L1746.3 550.8L1746.8 553.7L1747.3 556.7L1747.9 559.6L1748.4 562.6L1748.9 565.6L1749.4 568.5L1750.0 571.5L1750.5 574.5L1751.0 577.4L1751.6 580.4L1752.1 583.3L1752.6 586.3L1753.1 589.3L1753.7 592.2L1754.2 595.2L1754.8 598.1L1755.3 601.1L1755.8 604.1L1756.4 607.0L1756.9 610.0L1757.5 613.0L1758.0 615.9L1758.5 618.9L1759.1 621.8L1759.6 624.8L1760.2 627.7L1760.7 630.7L1761.3 633.7L1761.9 636.6L1762.4 639.6L1763.0 642.5L1763.5 645.5L1764.1 648.4L1764.7 651.4L1765.2 654.3L1765.8 657.3L1766.3 660.3L1766.9 663.2L1767.5 666.2L1768.1 669.1L1768.6 672.1L1769.2 675.0L1769.8 678.0L1770.3 680.9L1770.9 683.9L1771.5 686.8L1772.1 689.8L1772.7 692.7L1773.2 695.7L1773.8 698.6L1774.4 701.6L1775.0 704.5L1775.6 707.4L1776.2 710.4L1776.7 713.3L1777.3 716.3L1777.9 719.2L1778.5 722.2L1779.1 725.1L1779.7 728.1L1780.3 731.0L1780.9 734.0L1781.5 736.9L1782.1 739.8L1782.7 742.8L1783.2 745.7L1783.8 748.7L1784.4 751.6L1785.0 754.6L1785.6 757.5L1786.2 760.5L1786.8 763.4L1787.4 766.3L1788.0 769.3L1788.6 772.2L1789.2 775.2L1789.8 778.1L1790.4 781.0L1791.0 784.0L1791.6 786.9L1792.2 789.9L1792.8 792.8L1793.4 795.8L1794.0 798.7L1794.6 801.6L1795.2 804.6L1795.8 807.5L1796.4 810.5L1797.0 813.4L1797.6 816.3L1798.2 819.3L1798.8 822.2L1799.4 825.2L1800.0 828.1L1800.6 831.0L1801.2 834.0L1801.8 836.9L1802.4 839.9L1803.0 842.8L1803.6 845.7L1804.2 848.7L1804.8 851.6L1805.4 854.6L1806.0 857.5L1806.6 860.4L1807.2 863.4L1807.8 866.3L1808.4 869.3L1809.0 872.2L1809.6 875.1L1810.2 878.1L1810.8 881.0L1811.4 884.0L1812.0 886.9L1812.6 889.8L1813.2 892.8L1813.8 895.7L1814.4 898.7L1815.0 901.6L1815.6 904.6L1816.2 907.5L1816.8 910.4L1817.4 913.4L1817.9 916.3L1818.5 919.3L1819.1 922.2L1819.7 925.1L1820.3 928.1L1820.9 931.0L1821.5 934.0L1822.0 936.9L1822.6 939.9L1823.2 942.8L1823.8 945.8L1824.4 948.7L1825.0 951.6L1825.5 954.6L1826.1 957.5L1826.7 960.5L1827.3 963.4L1827.8 966.4L1828.4 969.3L1829.0 972.3L1829.6 975.2L1830.1 978.1L1830.7 981.1L1831.3 984.0L1831.9 987.0L1832.4 989.9L1833.0 992.9L1833.6 995.8L1834.1 998.8L1834.7 1001.7L1835.3 1004.7L1835.8 1007.6L1836.4 1010.6L1837.0 1013.5L1837.5 1016.4L1838.1 1019.4L1838.7 1022.3L1839.2 1025.3L1839.8 1028.2L1840.3 1031.2L1840.9 1034.1L1841.5 1037.1L1842.0 1040.0L1842.6 1043.0L1843.1 1045.9L1843.7 1048.9L1844.2 1051.8L1844.8 1054.8L1845.4 1057.7L1845.9 1060.7L1846.5 1063.6L1847.0 1066.6L1847.6 1069.5L1848.1 1072.5L1848.7 1075.4L1849.2 1078.4L1849.8 1081.3L1850.3 1084.3L1850.9 1087.2L1851.4 1090.2L1852.0 1093.1L1852.5 1096.1L1853.0 1099.0L1853.6 1102.0L1854.1 1104.9L1854.7 1107.9L1855.2 1110.8L1855.8 1113.8L1856.3 1116.7L1856.8 1119.7L1857.4 1122.7L1857.9 1125.6L1858.5 1128.6L1859.0 1131.5L1859.5 1134.5L1860.1 1137.4L1860.6 1140.4L1861.1 1143.3L1861.7 1146.3L1862.2 1149.2L1862.7 1152.2L1863.3 1155.1L1863.8 1158.1L1864.3 1161.0L1864.9 1164.0L1865.4 1167.0L1865.9 1169.9L1866.4 1172.9L1867.0 1175.8L1867.5 1178.8L1868.0 1181.7L1868.6 1184.7L1869.1 1187.6L1869.6 1190.6L1870.1 1193.6L1870.6 1196.5L1871.2 1199.5L1871.7 1202.4L1872.2 1205.4L1872.7 1208.3L1873.3 1211.3L1873.8 1214.2L1874.3 1217.2L1874.8 1220.2L1875.3 1223.1L1875.8 1226.1L1876.4 1229.0L1876.9 1232.0L1877.4 1234.9L1877.9 1237.9L1878.4 1240.9L1878.9 1243.8L1879.4 1246.8L1880.0 1249.7L1880.5 1252.7L1881.0 1255.7L1881.5 1258.6L1882.0 1261.6L1882.5 1264.5L1883.0 1267.5L1883.5 1270.4L1884.0 1273.4L1884.5 1276.4L1885.0 1279.3L1885.6 1282.3L1886.1 1285.2L1886.6 1288.2L1887.1 1291.2L1887.6 1294.1L1888.1 1297.1L1888.6 1300.0L1889.1 1303.0L1889.6 1306.0L1890.1 1308.9L1890.6 1311.9L1891.1 1314.9L1891.6 1317.8L1892.1 1320.8L1892.6 1323.7L1893.1 1326.7L1893.6 1329.7L1894.1 1332.6L1894.6 1335.6L1895.0 1338.5L1895.5 1341.5L1896.0 1344.5L1896.5 1347.4L1897.0 1350.4L1897.5 1353.4L1898.0 1356.3L1898.5 1359.3L1899.0 1362.2L1899.5 1365.2L1900.0 1368.2L1900.4 1371.1L1900.9 1374.1L1901.4 1377.1L1901.9 1380.0L1902.4 1383.0L1902.9 1386.0L1903.4 1388.9L1903.8 1391.9L1904.3 1394.8L1904.8 1397.8L1905.3 1400.8L1905.8 1403.7L1906.3 1406.7L1906.7 1409.7L1907.2 1412.6L1907.7 1415.6L1908.2 1418.6L1908.7 1421.5L1909.1 1424.5L1909.6 1427.5L1910.1 1430.4L1910.6 1433.4L1911.0 1436.4L1911.5 1439.3L1912.0 1442.3L1912.5 1445.3L1912.9 1448.2L1913.4 1451.2L1913.9 1454.2L1914.4 1457.1L1914.8 1460.1L1915.3 1463.1L1915.8 1466.0L1916.2 1469.0L1916.7 1472.0L1917.2 1474.9L1917.7 1477.9L1918.1 1480.9L1918.6 1483.8L1919.1 1486.8L1919.5 1489.8L1920.0 1492.7L1920.5 1495.7L1920.9 1498.7L1921.4 1501.6L1921.9 1504.6L1922.3 1507.6L1922.8 1510.5L1923.2 1513.5L1923.7 1516.5L1924.2 1519.4L1924.6 1522.4L1925.1 1525.4L1925.6 1528.4L1926.0 1531.3L1926.5 1534.3L1926.9 1537.3L1927.4 1540.2L1927.8 1543.2L1928.3 1546.2L1928.8 1549.1L1929.2 1552.1L1929.7 1555.1L1930.1 1558.0L1930.6 1561.0L1931.1 1564.0L1931.5 1566.9L1932.0 1569.9L1932.5 1572.9L1933.0 1575.8L1933.5 1578.8L1933.9 1581.8L1934.4 1584.7L1934.9 1587.7L1935.4 1590.6L1935.9 1593.6L1936.4 1596.6L1937.0 1599.5L1937.5 1602.5L1938.0 1605.4L1938.5 1608.4L1939.1 1611.3L1939.6 1614.3L1940.2 1617.2L1940.8 1620.1L1941.3 1623.1L1941.9 1626.0L1942.5 1629.0L1943.1 1631.9L1943.7 1634.8L1944.4 1637.7L1945.0 1640.7L1945.6 1643.6L1946.3 1646.5L1946.9 1649.4L1947.6 1652.3L1948.3 1655.3L1949.0 1658.2L1949.7 1661.1L1950.5 1664.0L1951.2 1666.9L1951.9 1669.8L1952.7 1672.6L1953.5 1675.5L1954.3 1678.4L1955.1 1681.3L1956.0 1684.1L1956.9 1687.0L1957.8 1689.8L1958.8 1692.6L1959.8 1695.4L1960.9 1698.2L1962.0 1701.0L1963.2 1703.8L1964.4 1706.5L1965.7 1709.2L1967.1 1711.9L1968.5 1714.5L1970.0 1717.2L1971.6 1719.8L1973.2 1722.3L1974.9 1724.9L1976.7 1727.4L1978.6 1729.8L1980.5 1732.2L1982.6 1734.6L1984.6 1736.8L1986.7 1739.1L1988.9 1741.2L1991.2 1743.3L1993.5 1745.3L1995.8 1747.3L1998.2 1749.1L2000.7 1750.9L2003.2 1752.6L2005.7 1754.2L2008.3 1755.6L2010.9 1757.0L2013.6 1758.3L2016.3 1759.4L2019.1 1760.5L2021.8 1761.4L2024.6 1762.2L2027.5 1762.9L2030.3 1763.4L2033.2 1763.8L2036.1 1764.0L2039.1 1764.2L2042.0 1764.2L2045.0 1764.1L2047.9 1763.9L2050.9 1763.6L2054.0 1763.3L2057.0 1762.9L2060.0 1762.4L2063.0 1762.0L2066.1 1761.4L2069.1 1760.9L2072.2 1760.4L2075.2 1759.9L2078.3 1759.4L2081.3 1759.0L2084.4 1758.6L2087.4 1758.2L2090.4 1757.9L2093.5 1757.7L2096.5 1757.6L2099.4 1757.7L2102.4 1757.8L2105.4 1758.0L2108.3 1758.4L2111.3 1758.8L2114.2 1759.2L2117.1 1759.7L2120.1 1760.2L2123.0 1760.7L2125.9 1761.1L2128.8 1761.5L2131.7 1761.8L2134.7 1762.0L2137.6 1762.0L2140.6 1761.9L2143.6 1761.7L2146.5 1761.4L2149.5 1760.9L2152.5 1760.3L2155.5 1759.8L2158.6 1759.1L2161.6 1758.5L2164.6 1757.9L2167.6 1757.4L2170.6 1756.9L2173.6 1756.5L2176.6 1756.2L2179.5 1756.1L2182.5 1756.1L2185.5 1756.2L2188.4 1756.4L2191.4 1756.7L2194.3 1757.0L2197.3 1757.3L2200.2 1757.7L2203.2 1758.0L2206.1 1758.4L2209.1 1758.7L2212.0 1758.9L2215.0 1759.1L2218.0 1759.2L2221.0 1759.2L2224.0 1759.0L2227.0 1758.8L2230.1 1758.4L2233.1 1758.0L2236.1 1757.5L2239.2 1757.0L2242.2 1756.4L2245.3 1755.9L2248.3 1755.3L2251.3 1754.8L2254.3 1754.3L2257.3 1753.9L2260.3 1753.6L2263.3 1753.3L2266.3 1753.2L2269.2 1753.2L2272.1 1753.4L2275.0 1753.7L2277.9 1754.2L2280.7 1754.9L2283.5 1755.8L2286.3 1756.9L2289.0 1758.2L2291.8 1759.6L2294.5 1761.0L2297.2 1762.4L2299.9 1763.8L2302.7 1765.2L2305.4 1766.4L2308.2 1767.4L2311.0 1768.2L2313.8 1768.8L2316.7 1769.3L2319.6 1769.5L2322.5 1769.6L2325.5 1769.6L2328.4 1769.5L2331.4 1769.4L2334.4 1769.1L2337.4 1768.9L2340.4 1768.6L2343.4 1768.3L2346.5 1768.1L2349.5 1767.9L2352.5 1767.8L2355.5 1767.8L2358.5 1768.0L2361.5 1768.2" stroke="#ff0000"/>
<path d="M177.5 1755.9L180.5 1756.0L183.5 1756.0L186.5 1756.1L189.5 1756.1L192.6 1756.1L195.6 1756.1L198.6 1756.1L201.6 1756.1L204.6 1756.0L207.6 1756.0L210.5 1756.0L213.5 1755.9L216.5 1755.9L219.5 1755.8L222.5 1755.8L225.5 1755.8L228.5 1755.7L231.5 1755.7L234.5 1755.7L237.4 1755.8L240.4 1755.8L243.4 1755.8L246.4 1755.9L249.4 1756.0L252.4 1756.2L255.4 1756.3L258.4 1756.5L261.4 1756.7L264.4 1757.0L267.5 1757.3L270.5 1757.6L273.5 1757.9L276.5 1758.2L279.5 1758.6L282.6 1758.9L285.6 1759.3L288.6 1759.6L291.6 1760.0L294.6 1760.3L297.7 1760.6L300.7 1760.9L303.7 1761.2L306.7 1761.5L309.7 1761.7L312.7 1761.9L315.7 1762.0L318.7 1762.1L321.7 1762.1L324.7 1762.1L327.6 1762.0L330.6 1761.9L333.6 1761.7L336.5 1761.4L339.5 1761.0L342.4 1760.6L345.3 1760.1L348.2 1759.5L351.1 1758.8L354.0 1758.0L356.9 1757.2L359.8 1756.3L362.7 1755.3L365.5 1754.3L368.3 1753.2L371.1 1752.1L373.9 1750.9L376.7 1749.7L379.5 1748.4L382.2 1747.2L384.9 1745.9L387.6 1744.5L390.3 1743.2L393.0 1741.9L395.6 1740.5L398.2 1739.2L400.8 1737.8L403.4 1736.4L406.0 1735.1L408.6 1733.7L411.3 1732.4L413.9 1731.0L416.5 1729.6L419.2 1728.2L421.9 1726.9L424.6 1725.5L427.3 1724.1L430.0 1722.7L432.8 1721.3L435.5 1719.8L438.2 1718.4L440.9 1716.9L443.6 1715.4L446.3 1713.9L448.9 1712.3L451.6 1710.7L454.1 1709.1L456.7 1707.4L459.2 1705.7L461.6 1703.9L464.0 1702.1L466.4 1700.3L468.7 1698.4L470.9 1696.4L473.0 1694.4L475.1 1692.3L477.2 1690.2L479.2 1688.1L481.2 1685.9L483.1 1683.7L485.0 1681.5L486.9 1679.2L488.7 1676.9L490.6 1674.5L492.3 1672.2L494.1 1669.8L495.9 1667.4L497.6 1665.0L499.3 1662.5L501.1 1660.1L502.8 1657.6L504.5 1655.2L506.2 1652.7L508.0 1650.2L509.7 1647.7L511.4 1645.3L513.2 1642.8L515.0 1640.3L516.8 1637.9L518.6 1635.5L520.5 1633.0L522.3 1630.6L524.2 1628.2L526.1 1625.7L528.0 1623.3L529.8 1620.9L531.7 1618.4L533.6 1616.0L535.4 1613.6L537.3 1611.1L539.1 1608.7L540.9 1606.2L542.7 1603.8L544.5 1601.3L546.2 1598.8L547.9 1596.3L549.6 1593.8L551.3 1591.3L552.9 1588.8L554.4 1586.2L555.9 1583.6L557.4 1581.0L558.9 1578.4L560.3 1575.8L561.6 1573.2L563.0 1570.5L564.3 1567.9L565.5 1565.2L566.8 1562.5L568.0 1559.8L569.1 1557.1L570.3 1554.4L571.4 1551.6L572.4 1548.9L573.5 1546.1L574.5 1543.3L575.5 1540.5L576.5 1537.7L577.4 1534.9L578.3 1532.1L579.2 1529.3L580.0 1526.4L580.9 1523.6L581.7 1520.7L582.5 1517.9L583.3 1515.0L584.0 1512.1L584.7 1509.2L585.5 1506.3L586.1 1503.4L586.8 1500.5L587.5 1497.6L588.1 1494.7L588.7 1491.8L589.3 1488.8L589.9 1485.9L590.5 1482.9L591.1 1480.0L591.6 1477.0L592.2 1474.1L592.7 1471.1L593.2 1468.2L593.8 1465.2L594.3 1462.2L594.8 1459.2L595.3 1456.3L595.7 1453.3L596.2 1450.3L596.7 1447.3L597.2 1444.4L597.6 1441.4L598.1 1438.4L598.6 1435.4L599.0 1432.4L599.5 1429.5L599.9 1426.5L600.4 1423.5L600.8 1420.5L601.3 1417.5L601.7 1414.6L602.2 1411.6L602.6 1408.6L603.0 1405.6L603.5 1402.6L603.9 1399.6L604.3 1396.7L604.8 1393.7L605.2 1390.7L605.6 1387.7L606.0 1384.7L606.4 1381.8L606.8 1378.8L607.3 1375.8L607.7 1372.8L608.1 1369.8L608.5 1366.8L608.9 1363.9L609.3 1360.9L609.7 1357.9L610.1 1354.9L610.5 1351.9L610.9 1348.9L611.3 1346.0L611.7 1343.0L612.0 1340.0L612.4 1337.0L612.8 1334.0L613.2 1331.0L613.6 1328.1L613.9 1325.1L614.3 1322.1L614.7 1319.1L615.1 1316.1L615.4 1313.1L615.8 1310.2L616.2 1307.2L616.5 1304.2L616.9 1301.2L617.2 1298.2L617.6 1295.2L618.0 1292.3L618.3 1289.3L618.7 1286.3L619.0 1283.3L619.4 1280.3L619.7 1277.3L620.0 1274.3L620.4 1271.4L620.7 1268.4L621.1 1265.4L621.4 1262.4L621.7 1259.4L622.1 1256.4L622.4 1253.4L622.7 1250.5L623.1 1247.5L623.4 1244.5L623.7 1241.5L624.0 1238.5L624.4 1235.5L624.7 1232.5L625.0 1229.6L625.3 1226.6L625.6 1223.6L626.0 1220.6L626.3 1217.6L626.6 1214.6L626.9 1211.6L627.2 1208.7L627.5 1205.7L627.8 1202.7L628.1 1199.7L628.4 1196.7L628.7 1193.7L629.0 1190.7L629.3 1187.7L629.6 1184.8L629.9 1181.8L630.2 1178.8L630.5 1175.8L630.8 1172.8L631.1 1169.8L631.4 1166.8L631.7 1163.8L632.0 1160.9L632.3 1157.9L632.5 1154.9L632.8 1151.9L633.1 1148.9L633.4 1145.9L633.7 1142.9L634.0 1139.9L634.2 1137.0L634.5 1134.0L634.8 1131.0L635.1 1128.0L635.3 1125.0L635.6 1122.0L635.9 1119.0L636.2 1116.0L636.4 1113.0L636.7 1110.1L637.0 1107.1L637.2 1104.1L637.5 1101.1L637.8 1098.1L638.0 1095.1L638.3 1092.1L638.6 1089.1L638.8 1086.1L639.1 1083.2L639.3 1080.2L639.6 1077.2L639.9 1074.2L640.1 1071.2L640.4 1068.2L640.6 1065.2L640.9 1062.2L641.1 1059.2L641.4 1056.2L641.7 1053.3L641.9 1050.3L642.2 1047.3L642.4 1044.3L642.7 1041.3L642.9 1038.3L643.2 1035.3L643.4 1032.3L643.7 1029.3L643.9 1026.4L644.2 1023.4L644.4 1020.4L644.7 1017.4L644.9 1014.4L645.2 1011.4L645.4 1008.4L645.6 1005.4L645.9 1002.4L646.1 999.4L646.4 996.4L646.6 993.5L646.9 990.5L647.1 987.5L647.3 984.5L647.6 981.5L647.8 978.5L648.1 975.5L648.3 972.5L648.6 969.5L648.8 966.5L649.0 963.6L649.3 960.6L649.5 957.6L649.8 954.6L650.0 951.6L650.2 948.6L650.5 945.6L650.7 942.6L651.0 939.6L651.2 936.6L651.4 933.6L651.7 930.7L651.9 927.7L652.2 924.7L652.4 921.7L652.6 918.7L652.9 915.7L653.1 912.7L653.4 909.7L653.6 906.7L653.8 903.7L654.1 900.7L654.3 897.7L654.5 894.8L654.8 891.8L655.0 888.8L655.3 885.8L655.5 882.8L655.7 879.8L656.0 876.8L656.2 873.8L656.5 870.8L656.7 867.8L657.0 864.8L657.2 861.9L657.4 858.9L657.7 855.9L657.9 852.9L658.2 849.9L658.4 846.9L658.6 843.9L658.9 840.9L659.1 837.9L659.4 834.9L659.6 831.9L659.9 828.9L660.1 826.0L660.4 823.0L660.6 820.0L660.9 817.0L661.1 814.0L661.4 811.0L661.6 808.0L661.9 805.0L662.1 802.0L662.4 799.0L662.6 796.0L662.9 793.0L663.1 790.1L663.4 787.1L663.6 784.1L663.9 781.1L664.1 778.1L664.4 775.1L664.6 772.1L664.9 769.1L665.1 766.1L665.4 763.1L665.7 760.1L665.9 757.1L666.2 754.2L666.4 751.2L666.7 748.2L667.0 745.2L667.2 742.2L667.5 739.2L667.8 736.2L668.0 733.2L668.3 730.2L668.6 727.2L668.8 724.2L669.1 721.2L669.4 718.3L669.7 715.3L669.9 712.3L670.2 709.3L670.5 706.3L670.8 703.3L671.0 700.3L671.3 697.3L671.6 694.3L671.9 691.3L672.2 688.3L672.4 685.3L672.7 682.4L673.0 679.4L673.3 676.4L673.6 673.4L673.9 670.4L674.2 667.4L674.5 664.4L674.7 661.4L675.0 658.4L675.3 655.4L675.6 652.4L675.9 649.5L676.2 646.5L676.5 643.5L676.8 640.5L677.1 637.5L677.4 634.5L677.8 631.5L678.1 628.5L678.4 625.5L678.7 622.5L679.0 619.6L679.3 616.6L679.6 613.6L680.0 610.6L680.3 607.6L680.6 604.6L680.9 601.6L681.2 598.6L681.6 595.6L681.9 592.7L682.2 589.7L682.6 586.7L682.9 583.7L683.2 580.7L683.6 577.7L683.9 574.7L684.3 571.8L684.6 568.8L685.0 565.8L685.3 562.8L685.7 559.8L686.0 556.8L686.4 553.8L686.7 550.9L687.1 547.9L687.5 544.9L687.8 541.9L688.2 538.9L688.6 536.0L688.9 533.0L689.3 530.0L689.7 527.0L690.1 524.0L690.5 521.1L690.8 518.1L691.2 515.1L691.6 512.1L692.0 509.1L692.4 506.2L692.8 503.2L693.2 500.2L693.6 497.2L694.0 494.3L694.4 491.3L694.8 488.3L695.3 485.3L695.7 482.4L696.1 479.4L696.5 476.4L697.0 473.5L697.4 470.5L697.8 467.5L698.3 464.6L698.7 461.6L699.1 458.6L699.6 455.7L700.0 452.7L700.5 449.7L700.9 446.8L701.4 443.8L701.8 440.8L702.3 437.9L702.8 434.9L703.2 431.9L703.7 429.0L704.2 426.0L704.7 423.1L705.2 420.1L705.6 417.2L706.1 414.2L706.6 411.2L707.1 408.3L707.6 405.3L708.1 402.4L708.7 399.4L709.2 396.5L709.8 393.5L710.4 390.6L711.0 387.7L711.7 384.8L712.5 381.9L713.3 379.0L714.2 376.1L715.2 373.2L716.3 370.4L717.5 367.6L718.8 364.8L720.2 362.0L721.8 359.3L723.5 356.6L725.3 353.9L727.3 351.6L729.4 349.8L731.7 348.9L734.2 349.0L736.7 350.1L739.2 351.9L741.7 354.0L744.1 356.2L746.3 358.5L748.4 360.7L750.5 363.0L752.6 365.2L754.6 367.4L756.7 369.5L758.8 371.5L760.9 373.5L763.2 375.4L765.5 377.3L767.9 379.2L770.4 381.0L772.9 382.7L775.6 384.5L778.3 386.2L781.0 387.7L783.8 388.8L786.6 389.3L789.2 389.0L791.8 388.0L794.2 386.3L796.5 384.2L798.7 381.8L800.7 379.4L802.5 377.0L804.3 374.5L805.9 372.0L807.5 369.4L809.1 366.9L810.6 364.3L812.1 361.8L813.7 359.3L815.3 356.8L817.0 354.3L818.8 351.9L820.8 349.5L822.9 347.3L825.2 345.0L827.7 342.9L830.3 341.0L833.0 339.4L835.7 338.2L838.3 337.5L840.9 337.3L843.3 337.9L845.5 339.3L847.5 341.3L849.3 343.8L851.0 346.5L852.6 349.4L854.1 352.2L855.6 355.0L857.0 357.8L858.4 360.6L859.7 363.4L861.0 366.2L862.3 368.9L863.5 371.7L864.7 374.4L865.9 377.2L867.0 379.9L868.2 382.7L869.3 385.4L870.4 388.2L871.5 390.9L872.6 393.7L873.7 396.5L874.8 399.2L875.9 402.0L877.0 404.8L878.0 407.6L879.1 410.4L880.2 413.2L881.2 416.0L882.3 418.8L883.3 421.6L884.3 424.4L885.3 427.2L886.3 430.1L887.3 432.9L888.3 435.7L889.3 438.6L890.2 441.4L891.2 444.2L892.2 447.1L893.1 449.9L894.0 452.8L894.9 455.7L895.8 458.5L896.7 461.4L897.6 464.3L898.5 467.1L899.4 470.0L900.2 472.9L901.1 475.8L901.9 478.7L902.7 481.6L903.5 484.5L904.3 487.4L905.1 490.3L905.8 493.2L906.6 496.1L907.3 499.0L908.1 501.9L908.8 504.8L909.5 507.7L910.2 510.7L910.8 513.6L911.5 516.5L912.2 519.4L912.8 522.4L913.4 525.3L914.1 528.3L914.7 531.2L915.3 534.1L915.9 537.1L916.4 540.0L917.0 543.0L917.6 545.9L918.1 548.9L918.7 551.8L919.2 554.8L919.7 557.7L920.3 560.7L920.8 563.7L921.3 566.6L921.8 569.6L922.3 572.5L922.8 575.5L923.3 578.5L923.8 581.4L924.3 584.4L924.7 587.4L925.2 590.3L925.7 593.3L926.2 596.3L926.6 599.3L927.1 602.2L927.5 605.2L928.0 608.2L928.5 611.1L928.9 614.1L929.4 617.1L929.8 620.1L930.3 623.0L930.7 626.0L931.2 629.0L931.6 631.9L932.1 634.9L932.6 637.9L933.0 640.9L933.5 643.8L933.9 646.8L934.4 649.8L934.9 652.7L935.4 655.7L935.8 658.7L936.3 661.6L936.8 664.6L937.3 667.5L937.8 670.5L938.3 673.5L938.8 676.4L939.3 679.4L939.8 682.3L940.4 685.3L940.9 688.2L941.5 691.2L942.0 694.1L942.6 697.1L943.1 700.0L943.7 703.0L944.3 705.9L944.9 708.8L945.5 711.8L946.1 714.7L946.7 717.6L947.4 720.6L948.0 723.5L948.7 726.4L949.3 729.3L950.0 732.2L950.7 735.1L951.4 738.1L952.1 741.0L952.9 743.9L953.6 746.8L954.4 749.7L955.1 752.6L955.9 755.4L956.7 758.3L957.6 761.2L958.4 764.1L959.2 767.0L960.1 769.8L961.0 772.7L961.9 775.6L962.8 778.4L963.7 781.3L964.7 784.1L965.6 787.0L966.6 789.8L967.6 792.7L968.6 795.5L969.6 798.3L970.7 801.2L971.7 804.0L972.8 806.8L973.9 809.6L974.9 812.4L976.0 815.2L977.2 818.0L978.3 820.8L979.4 823.6L980.6 826.4L981.7 829.2L982.9 831.9L984.1 834.7L985.3 837.5L986.5 840.2L987.7 843.0L988.9 845.7L990.1 848.5L991.4 851.2L992.6 853.9L993.9 856.7L995.1 859.4L996.4 862.1L997.7 864.8L999.0 867.5L1000.3 870.2L1001.5 872.9L1002.9 875.6L1004.2 878.3L1005.5 881.0L1006.9 883.6L1008.2 886.3L1009.6 888.9L1011.1 891.5L1012.5 894.1L1014.1 896.6L1015.6 899.1L1017.3 901.6L1018.9 904.1L1020.7 906.5L1022.5 908.9L1024.4 911.2L1026.3 913.5L1028.3 915.7L1030.4 917.9L1032.6 920.1L1034.8 922.3L1037.0 924.4L1039.2 926.5L1041.4 928.6L1043.6 930.8L1045.8 932.9L1047.9 935.1L1050.0 937.3L1052.0 939.6L1053.9 941.9L1055.6 944.2L1057.3 946.7L1058.8 949.2L1060.3 951.7L1061.6 954.4L1062.8 957.1L1063.9 959.8L1065.0 962.6L1066.1 965.4L1067.1 968.2L1068.2 971.0L1069.3 973.8L1070.4 976.6L1071.5 979.4L1072.7 982.2L1073.9 984.9L1075.1 987.7L1076.3 990.5L1077.6 993.2L1078.9 996.0L1080.2 998.8L1081.5 1001.5L1082.8 1004.2L1084.1 1007.0L1085.4 1009.7L1086.8 1012.4L1088.1 1015.2L1089.4 1017.9L1090.8 1020.6L1092.1 1023.4L1093.5 1026.1L1094.8 1028.8L1096.1 1031.6L1097.4 1034.3L1098.8 1037.0L1100.0 1039.7L1101.3 1042.5L1102.6 1045.2L1103.9 1047.9L1105.1 1050.7L1106.3 1053.4L1107.6 1056.2L1108.8 1058.9L1110.0 1061.6L1111.2 1064.4L1112.4 1067.1L1113.6 1069.9L1114.7 1072.6L1115.9 1075.4L1117.1 1078.1L1118.2 1080.9L1119.3 1083.6L1120.5 1086.4L1121.6 1089.1L1122.7 1091.9L1123.9 1094.7L1125.0 1097.4L1126.1 1100.2L1127.2 1102.9L1128.3 1105.7L1129.4 1108.5L1130.5 1111.2L1131.5 1114.0L1132.6 1116.8L1133.7 1119.5L1134.8 1122.3L1135.9 1125.1L1136.9 1127.8L1138.0 1130.6L1139.1 1133.4L1140.2 1136.1L1141.2 1138.9L1142.3 1141.7L1143.4 1144.4L1144.5 1147.2L1145.5 1150.0L1146.6 1152.8L1147.7 1155.5L1148.8 1158.3L1149.9 1161.1L1150.9 1163.9L1152.0 1166.6L1153.1 1169.4L1154.2 1172.2L1155.3 1175.0L1156.4 1177.8L1157.5 1180.5L1158.6 1183.3L1159.8 1186.1L1160.9 1188.9L1162.0 1191.7L1163.2 1194.4L1164.3 1197.2L1165.5 1200.0L1166.6 1202.8L1167.8 1205.6L1169.0 1208.3L1170.1 1211.1L1171.3 1213.9L1172.5 1216.7L1173.7 1219.5L1175.0 1222.2L1176.2 1225.0L1177.4 1227.8L1178.7 1230.6L1179.9 1233.4L1181.2 1236.1L1182.5 1238.9L1183.8 1241.7L1185.1 1244.5L1186.4 1247.3L1187.8 1250.0L1189.1 1252.8L1190.5 1255.5L1191.9 1258.3L1193.3 1261.0L1194.7 1263.8L1196.1 1266.5L1197.6 1269.2L1199.0 1271.9L1200.5 1274.6L1202.1 1277.2L1203.6 1279.9L1205.1 1282.5L1206.7 1285.1L1208.3 1287.6L1210.0 1290.2L1211.6 1292.7L1213.3 1295.2L1215.0 1297.7L1216.8 1300.1L1218.5 1302.5L1220.3 1304.9L1222.1 1307.3L1224.0 1309.6L1225.9 1311.9L1227.8 1314.1L1229.7 1316.3L1231.7 1318.5L1233.7 1320.6L1235.8 1322.7L1237.9 1324.7L1240.0 1326.7L1242.1 1328.6L1244.3 1330.5L1246.5 1332.4L1248.8 1334.2L1251.1 1335.9L1253.5 1337.6L1255.8 1339.3L1258.3 1340.9L1260.7 1342.4L1263.2 1343.8L1265.8 1345.3L1268.4 1346.6L1271.0 1347.9L1273.7 1349.1L1276.5 1350.3L1279.2 1351.4L1282.1 1352.4L1284.9 1353.4L1287.8 1354.3L1290.7 1355.2L1293.7 1356.1L1296.6 1356.9L1299.6 1357.6L1302.6 1358.3L1305.7 1359.0L1308.7 1359.7L1311.8 1360.3L1314.8 1360.9L1317.9 1361.5L1321.0 1362.1L1324.1 1362.6L1327.1 1363.2L1330.2 1363.7L1333.2 1364.2L1336.3 1364.7L1339.3 1365.3L1342.3 1365.8L1345.3 1366.3L1348.2 1366.9L1351.2 1367.4L1354.1 1368.0L1357.0 1368.6L1359.9 1369.2L1362.7 1369.8L1365.6 1370.5L1368.4 1371.1L1371.2 1371.8L1374.0 1372.5L1376.8 1373.3L1379.6 1374.0L1382.4 1374.8L1385.3 1375.6L1388.1 1376.5L1390.9 1377.4L1393.7 1378.3L1396.6 1379.2L1399.4 1380.2L1402.3 1381.2L1405.2 1382.1L1408.1 1383.1L1411.0 1384.0L1413.9 1384.9L1416.8 1385.7L1419.7 1386.4L1422.7 1387.1L1425.6 1387.7L1428.6 1388.1L1431.6 1388.5L1434.6 1388.7L1437.6 1388.8L1440.6 1388.8L1443.6 1388.6L1446.7 1388.2L1449.7 1387.6L1452.7 1387.0L1455.7 1386.1L1458.6 1385.2L1461.5 1384.1L1464.3 1382.9L1467.0 1381.6L1469.7 1380.2L1472.3 1378.6L1474.7 1377.0L1477.1 1375.2L1479.4 1373.4L1481.6 1371.5L1483.7 1369.5L1485.8 1367.4L1487.8 1365.3L1489.7 1363.0L1491.5 1360.7L1493.3 1358.4L1495.0 1356.0L1496.7 1353.5L1498.3 1351.0L1499.9 1348.4L1501.4 1345.8L1502.9 1343.2L1504.3 1340.5L1505.7 1337.8L1507.1 1335.1L1508.5 1332.4L1509.8 1329.6L1511.1 1326.9L1512.4 1324.1L1513.7 1321.3L1514.9 1318.6L1516.2 1315.8L1517.4 1313.0L1518.6 1310.3L1519.9 1307.5L1521.1 1304.7L1522.3 1302.0L1523.4 1299.2L1524.6 1296.4L1525.8 1293.6L1526.9 1290.8L1528.0 1288.1L1529.2 1285.3L1530.3 1282.5L1531.4 1279.7L1532.5 1276.9L1533.5 1274.1L1534.6 1271.3L1535.7 1268.5L1536.7 1265.7L1537.7 1262.9L1538.7 1260.1L1539.8 1257.3L1540.8 1254.4L1541.7 1251.6L1542.7 1248.8L1543.7 1246.0L1544.6 1243.1L1545.6 1240.3L1546.5 1237.4L1547.4 1234.6L1548.3 1231.7L1549.2 1228.9L1550.1 1226.0L1551.0 1223.2L1551.9 1220.3L1552.8 1217.4L1553.6 1214.6L1554.5 1211.7L1555.3 1208.8L1556.1 1205.9L1556.9 1203.0L1557.7 1200.2L1558.5 1197.3L1559.3 1194.4L1560.1 1191.5L1560.9 1188.6L1561.7 1185.7L1562.4 1182.8L1563.2 1179.9L1563.9 1177.0L1564.7 1174.1L1565.4 1171.2L1566.1 1168.2L1566.9 1165.3L1567.6 1162.4L1568.3 1159.5L1569.0 1156.6L1569.7 1153.7L1570.3 1150.7L1571.0 1147.8L1571.7 1144.9L1572.4 1141.9L1573.0 1139.0L1573.7 1136.1L1574.3 1133.1L1575.0 1130.2L1575.6 1127.3L1576.3 1124.3L1576.9 1121.4L1577.5 1118.5L1578.1 1115.5L1578.8 1112.6L1579.4 1109.6L1580.0 1106.7L1580.6 1103.7L1581.2 1100.8L1581.8 1097.9L1582.4 1094.9L1583.0 1092.0L1583.5 1089.0L1584.1 1086.1L1584.7 1083.1L1585.3 1080.2L1585.8 1077.2L1586.4 1074.3L1587.0 1071.3L1587.5 1068.4L1588.1 1065.4L1588.7 1062.5L1589.2 1059.5L1589.8 1056.6L1590.3 1053.6L1590.9 1050.7L1591.4 1047.7L1591.9 1044.7L1592.5 1041.8L1593.0 1038.8L1593.5 1035.9L1594.1 1032.9L1594.6 1030.0L1595.1 1027.0L1595.6 1024.1L1596.1 1021.1L1596.7 1018.1L1597.2 1015.2L1597.7 1012.2L1598.2 1009.3L1598.7 1006.3L1599.2 1003.3L1599.7 1000.4L1600.2 997.4L1600.7 994.5L1601.2 991.5L1601.7 988.5L1602.2 985.6L1602.7 982.6L1603.2 979.7L1603.6 976.7L1604.1 973.7L1604.6 970.8L1605.1 967.8L1605.6 964.8L1606.0 961.9L1606.5 958.9L1607.0 956.0L1607.5 953.0L1607.9 950.0L1608.4 947.1L1608.9 944.1L1609.3 941.1L1609.8 938.2L1610.2 935.2L1610.7 932.2L1611.2 929.3L1611.6 926.3L1612.1 923.3L1612.5 920.4L1613.0 917.4L1613.4 914.4L1613.9 911.5L1614.3 908.5L1614.8 905.5L1615.2 902.6L1615.7 899.6L1616.1 896.6L1616.6 893.7L1617.0 890.7L1617.5 887.7L1617.9 884.8L1618.4 881.8L1618.8 878.8L1619.2 875.9L1619.7 872.9L1620.1 869.9L1620.6 866.9L1621.0 864.0L1621.4 861.0L1621.9 858.0L1622.3 855.1L1622.8 852.1L1623.2 849.1L1623.6 846.2L1624.1 843.2L1624.5 840.2L1625.0 837.2L1625.4 834.3L1625.8 831.3L1626.3 828.3L1626.7 825.4L1627.1 822.4L1627.6 819.4L1628.0 816.4L1628.4 813.5L1628.9 810.5L1629.3 807.5L1629.7 804.6L1630.2 801.6L1630.6 798.6L1631.0 795.6L1631.5 792.7L1631.9 789.7L1632.3 786.7L1632.8 783.8L1633.2 780.8L1633.6 777.8L1634.1 774.8L1634.5 771.9L1634.9 768.9L1635.4 765.9L1635.8 763.0L1636.2 760.0L1636.6 757.0L1637.1 754.0L1637.5 751.1L1637.9 748.1L1638.3 745.1L1638.7 742.1L1639.2 739.2L1639.6 736.2L1640.0 733.2L1640.4 730.2L1640.8 727.3L1641.2 724.3L1641.7 721.3L1642.1 718.4L1642.5 715.4L1642.9 712.4L1643.3 709.4L1643.7 706.5L1644.1 703.5L1644.5 700.5L1644.9 697.5L1645.3 694.6L1645.7 691.6L1646.1 688.6L1646.5 685.6L1646.9 682.6L1647.3 679.7L1647.7 676.7L1648.1 673.7L1648.5 670.7L1648.9 667.8L1649.3 664.8L1649.7 661.8L1650.0 658.8L1650.4 655.9L1650.8 652.9L1651.2 649.9L1651.6 646.9L1651.9 643.9L1652.3 641.0L1652.7 638.0L1653.0 635.0L1653.4 632.0L1653.8 629.0L1654.1 626.1L1654.5 623.1L1654.9 620.1L1655.2 617.1L1655.6 614.1L1655.9 611.2L1656.3 608.2L1656.7 605.2L1657.0 602.2L1657.4 599.2L1657.7 596.3L1658.1 593.3L1658.5 590.3L1658.8 587.3L1659.2 584.4L1659.6 581.4L1659.9 578.4L1660.3 575.4L1660.7 572.4L1661.1 569.5L1661.5 566.5L1661.9 563.5L1662.3 560.5L1662.7 557.6L1663.1 554.6L1663.5 551.6L1664.0 548.7L1664.4 545.7L1664.9 542.7L1665.3 539.7L1665.8 536.8L1666.3 533.8L1666.8 530.8L1667.3 527.9L1667.8 524.9L1668.3 522.0L1668.8 519.0L1669.3 516.0L1669.9 513.1L1670.4 510.1L1671.0 507.2L1671.6 504.2L1672.2 501.3L1672.8 498.3L1673.3 495.4L1673.9 492.4L1674.6 489.5L1675.2 486.5L1675.8 483.6L1676.4 480.6L1677.0 477.7L1677.6 474.8L1678.3 471.8L1678.9 468.9L1679.5 466.0L1680.2 463.0L1680.8 460.1L1681.4 457.2L1682.0 454.3L1682.7 451.4L1683.3 448.4L1683.9 445.5L1684.5 442.6L1685.1 439.7L1685.7 436.8L1686.4 433.9L1687.1 431.0L1687.9 428.1L1689.0 425.2L1690.2 422.3L1691.7 419.4L1693.5 416.5L1695.6 413.7L1698.0 411.2L1700.4 409.3L1702.7 408.2L1704.8 408.3L1706.6 409.5L1708.2 411.4L1709.7 414.0L1711.0 416.8L1712.4 419.7L1713.6 422.5L1714.8 425.4L1716.0 428.3L1717.2 431.2L1718.3 434.1L1719.3 437.0L1720.3 439.9L1721.3 442.7L1722.3 445.6L1723.2 448.5L1724.1 451.4L1725.0 454.3L1725.8 457.2L1726.6 460.1L1727.4 463.0L1728.2 465.9L1728.9 468.9L1729.7 471.8L1730.4 474.7L1731.1 477.6L1731.8 480.5L1732.5 483.4L1733.1 486.3L1733.8 489.2L1734.5 492.1L1735.1 495.1L1735.8 498.0L1736.5 500.9L1737.1 503.8L1737.8 506.7L1738.5 509.6L1739.1 512.5L1739.8 515.5L1740.5 518.4L1741.2 521.3L1741.9 524.2L1742.6 527.1L1743.3 530.0L1744.0 532.9L1744.7 535.8L1745.4 538.8L1746.1 541.7L1746.8 544.6L1747.5 547.5L1748.3 550.4L1749.0 553.3L1749.7 556.2L1750.4 559.1L1751.1 562.1L1751.9 565.0L1752.6 567.9L1753.3 570.8L1754.0 573.7L1754.8 576.6L1755.5 579.5L1756.2 582.5L1756.9 585.4L1757.6 588.3L1758.4 591.2L1759.1 594.1L1759.8 597.0L1760.5 599.9L1761.2 602.9L1761.9 605.8L1762.6 608.7L1763.3 611.6L1764.1 614.5L1764.8 617.5L1765.5 620.4L1766.2 623.3L1766.9 626.2L1767.6 629.1L1768.3 632.0L1769.0 635.0L1769.7 637.9L1770.4 640.8L1771.1 643.7L1771.8 646.7L1772.5 649.6L1773.1 652.5L1773.8 655.4L1774.5 658.3L1775.2 661.3L1775.9 664.2L1776.6 667.1L1777.3 670.0L1778.0 673.0L1778.6 675.9L1779.3 678.8L1780.0 681.7L1780.7 684.7L1781.4 687.6L1782.0 690.5L1782.7 693.4L1783.4 696.4L1784.1 699.3L1784.7 702.2L1785.4 705.1L1786.1 708.1L1786.8 711.0L1787.4 713.9L1788.1 716.8L1788.8 719.8L1789.4 722.7L1790.1 725.6L1790.8 728.6L1791.4 731.5L1792.1 734.4L1792.7 737.4L1793.4 740.3L1794.0 743.2L1794.7 746.1L1795.4 749.1L1796.0 752.0L1796.7 754.9L1797.3 757.9L1798.0 760.8L1798.6 763.7L1799.3 766.7L1799.9 769.6L1800.6 772.5L1801.2 775.5L1801.8 778.4L1802.5 781.3L1803.1 784.3L1803.8 787.2L1804.4 790.1L1805.1 793.1L1805.7 796.0L1806.3 798.9L1807.0 801.9L1807.6 804.8L1808.2 807.7L1808.9 810.7L1809.5 813.6L1810.1 816.6L1810.7 819.5L1811.4 822.4L1812.0 825.4L1812.6 828.3L1813.3 831.2L1813.9 834.2L1814.5 837.1L1815.1 840.1L1815.7 843.0L1816.4 845.9L1817.0 848.9L1817.6 851.8L1818.2 854.8L1818.8 857.7L1819.4 860.6L1820.0 863.6L1820.7 866.5L1821.3 869.5L1821.9 872.4L1822.5 875.3L1823.1 878.3L1823.7 881.2L1824.3 884.2L1824.9 887.1L1825.5 890.0L1826.1 893.0L1826.7 895.9L1827.3 898.9L1827.9 901.8L1828.5 904.8L1829.1 907.7L1829.7 910.7L1830.3 913.6L1830.9 916.5L1831.5 919.5L1832.1 922.4L1832.7 925.4L1833.3 928.3L1833.8 931.3L1834.4 934.2L1835.0 937.2L1835.6 940.1L1836.2 943.0L1836.8 946.0L1837.4 948.9L1837.9 951.9L1838.5 954.8L1839.1 957.8L1839.7 960.7L1840.3 963.7L1840.8 966.6L1841.4 969.6L1842.0 972.5L1842.5 975.5L1843.1 978.4L1843.7 981.4L1844.3 984.3L1844.8 987.3L1845.4 990.2L1846.0 993.2L1846.5 996.1L1847.1 999.1L1847.7 1002.0L1848.2 1005.0L1848.8 1007.9L1849.3 1010.9L1849.9 1013.8L1850.5 1016.8L1851.0 1019.7L1851.6 1022.7L1852.1 1025.6L1852.7 1028.6L1853.2 1031.5L1853.8 1034.5L1854.3 1037.4L1854.9 1040.4L1855.5 1043.3L1856.0 1046.3L1856.5 1049.2L1857.1 1052.2L1857.6 1055.1L1858.2 1058.1L1858.7 1061.0L1859.3 1064.0L1859.8 1066.9L1860.4 1069.9L1860.9 1072.9L1861.4 1075.8L1862.0 1078.8L1862.5 1081.7L1863.0 1084.7L1863.6 1087.6L1864.1 1090.6L1864.7 1093.5L1865.2 1096.5L1865.7 1099.4L1866.2 1102.4L1866.8 1105.4L1867.3 1108.3L1867.8 1111.3L1868.4 1114.2L1868.9 1117.2L1869.4 1120.1L1869.9 1123.1L1870.5 1126.0L1871.0 1129.0L1871.5 1132.0L1872.0 1134.9L1872.5 1137.9L1873.1 1140.8L1873.6 1143.8L1874.1 1146.7L1874.6 1149.7L1875.1 1152.7L1875.6 1155.6L1876.1 1158.6L1876.7 1161.5L1877.2 1164.5L1877.7 1167.5L1878.2 1170.4L1878.7 1173.4L1879.2 1176.3L1879.7 1179.3L1880.2 1182.2L1880.7 1185.2L1881.2 1188.2L1881.7 1191.1L1882.2 1194.1L1882.7 1197.0L1883.2 1200.0L1883.7 1203.0L1884.2 1205.9L1884.7 1208.9L1885.2 1211.8L1885.7 1214.8L1886.2 1217.8L1886.7 1220.7L1887.2 1223.7L1887.7 1226.6L1888.2 1229.6L1888.7 1232.6L1889.1 1235.5L1889.6 1238.5L1890.1 1241.4L1890.6 1244.4L1891.1 1247.4L1891.6 1250.3L1892.1 1253.3L1892.5 1256.3L1893.0 1259.2L1893.5 1262.2L1894.0 1265.1L1894.5 1268.1L1894.9 1271.1L1895.4 1274.0L1895.9 1277.0L1896.4 1279.9L1896.8 1282.9L1897.3 1285.9L1897.8 1288.8L1898.3 1291.8L1898.7 1294.8L1899.2 1297.7L1899.7 1300.7L1900.2 1303.6L1900.6 1306.6L1901.1 1309.6L1901.6 1312.5L1902.0 1315.5L1902.5 1318.5L1903.0 1321.4L1903.4 1324.4L1903.9 1327.4L1904.4 1330.3L1904.8 1333.3L1905.3 1336.2L1905.8 1339.2L1906.2 1342.2L1906.7 1345.1L1907.1 1348.1L1907.6 1351.1L1908.1 1354.0L1908.5 1357.0L1909.0 1360.0L1909.5 1362.9L1909.9 1365.9L1910.4 1368.9L1910.9 1371.8L1911.3 1374.8L1911.8 1377.8L1912.2 1380.7L1912.7 1383.7L1913.2 1386.7L1913.6 1389.6L1914.1 1392.6L1914.5 1395.6L1915.0 1398.5L1915.5 1401.5L1915.9 1404.5L1916.4 1407.4L1916.9 1410.4L1917.3 1413.4L1917.8 1416.3L1918.2 1419.3L1918.7 1422.3L1919.2 1425.2L1919.6 1428.2L1920.1 1431.2L1920.6 1434.1L1921.0 1437.1L1921.5 1440.1L1922.0 1443.1L1922.4 1446.0L1922.9 1449.0L1923.4 1452.0L1923.8 1454.9L1924.3 1457.9L1924.8 1460.9L1925.2 1463.8L1925.7 1466.8L1926.2 1469.8L1926.6 1472.8L1927.1 1475.7L1927.6 1478.7L1928.0 1481.7L1928.5 1484.6L1929.0 1487.6L1929.5 1490.6L1929.9 1493.6L1930.4 1496.5L1930.9 1499.5L1931.4 1502.5L1931.8 1505.4L1932.3 1508.4L1932.8 1511.4L1933.3 1514.4L1933.8 1517.3L1934.2 1520.3L1934.7 1523.3L1935.2 1526.3L1935.7 1529.2L1936.2 1532.2L1936.7 1535.2L1937.1 1538.2L1937.6 1541.1L1938.1 1544.1L1938.6 1547.1L1939.1 1550.1L1939.6 1553.0L1940.1 1556.0L1940.7 1559.0L1941.2 1561.9L1941.7 1564.9L1942.3 1567.8L1942.9 1570.8L1943.4 1573.7L1944.0 1576.7L1944.6 1579.6L1945.3 1582.6L1945.9 1585.5L1946.6 1588.4L1947.3 1591.3L1948.0 1594.2L1948.8 1597.1L1949.5 1600.0L1950.3 1602.9L1951.1 1605.8L1952.0 1608.6L1952.8 1611.5L1953.7 1614.3L1954.7 1617.1L1955.7 1620.0L1956.7 1622.8L1957.7 1625.6L1958.8 1628.3L1959.9 1631.1L1961.0 1633.9L1962.2 1636.6L1963.5 1639.4L1964.7 1642.1L1966.0 1644.8L1967.4 1647.5L1968.8 1650.1L1970.3 1652.8L1971.8 1655.4L1973.3 1658.0L1975.0 1660.6L1976.6 1663.1L1978.4 1665.5L1980.2 1667.9L1982.1 1670.2L1984.1 1672.5L1986.1 1674.6L1988.2 1676.7L1990.4 1678.6L1992.8 1680.4L1995.2 1682.2L1997.7 1683.8L2000.2 1685.3L2002.9 1686.7L2005.6 1688.0L2008.4 1689.3L2011.2 1690.5L2014.0 1691.7L2016.8 1692.8L2019.7 1694.0L2022.5 1695.2L2025.4 1696.3L2028.2 1697.6L2031.0 1698.8L2033.7 1700.2L2036.4 1701.6L2039.0 1703.0L2041.6 1704.6L2044.1 1706.1L2046.6 1707.8L2049.1 1709.4L2051.6 1711.1L2054.0 1712.8L2056.5 1714.5L2058.9 1716.3L2061.3 1718.0L2063.8 1719.7L2066.2 1721.4L2068.6 1723.1L2071.1 1724.8L2073.5 1726.6L2076.0 1728.3L2078.4 1730.0L2080.9 1731.7L2083.4 1733.4L2085.9 1735.1L2088.4 1736.8L2090.9 1738.5L2093.4 1740.1L2095.9 1741.8L2098.5 1743.4L2101.1 1745.1L2103.7 1746.7L2106.3 1748.3L2109.0 1749.8L2111.6 1751.3L2114.3 1752.7L2117.0 1754.0L2119.7 1755.2L2122.5 1756.4L2125.2 1757.4L2128.0 1758.3L2130.8 1759.1L2133.6 1759.7L2136.4 1760.2L2139.3 1760.5L2142.2 1760.6L2145.0 1760.6L2147.9 1760.3L2150.9 1759.8L2153.8 1759.2L2156.7 1758.5L2159.7 1757.6L2162.7 1756.7L2165.7 1755.8L2168.6 1754.8L2171.6 1753.9L2174.6 1753.0L2177.6 1752.2L2180.6 1751.6L2183.6 1751.0L2186.6 1750.6L2189.6 1750.4L2192.5 1750.3L2195.5 1750.2L2198.5 1750.2L2201.4 1750.3L2204.4 1750.3L2207.3 1750.3L2210.3 1750.2L2213.2 1750.1L2216.1 1749.8L2219.0 1749.4L2221.9 1748.9L2224.8 1748.1L2227.7 1747.1L2230.5 1745.9L2233.4 1744.7L2236.3 1743.3L2239.1 1742.0L2242.0 1740.9L2244.9 1740.0L2247.9 1739.4L2250.8 1739.1L2253.8 1739.0L2256.8 1739.1L2259.8 1739.4L2262.8 1739.7L2265.8 1740.0L2268.8 1740.3L2271.8 1740.6L2274.7 1740.9L2277.7 1741.2L2280.6 1741.4L2283.6 1741.6L2286.6 1741.8L2289.5 1741.9L2292.5 1742.0L2295.5 1742.1L2298.5 1742.2L2301.5 1742.2L2304.5 1742.3L2307.5 1742.3L2310.5 1742.3L2313.5 1742.3L2316.5 1742.3L2319.5 1742.3L2322.5 1742.3L2325.5 1742.3L2328.5 1742.3L2331.5 1742.3L2334.5 1742.3L2337.5 1742.3L2340.5 1742.4L2343.5 1742.4L2346.5 1742.5L2349.5 1742.6L2352.5 1742.7L2355.5 1742.8L2358.5 1743.0L2361.5 1743.2" stroke="#00ff00"/>
<path d="M177.5 1760.3L180.5 1760.2L183.5 1760.1L186.5 1760.0L189.5 1759.9L192.5 1759.8L195.5 1759.8L198.5 1759.7L201.5 1759.6L204.5 1759.6L207.5 1759.5L210.5 1759.5L213.5 1759.5L216.5 1759.4L219.5 1759.4L222.6 1759.4L225.6 1759.4L228.6 1759.4L231.6 1759.3L234.6 1759.3L237.6 1759.3L240.6 1759.3L243.6 1759.3L246.6 1759.3L249.6 1759.3L252.6 1759.3L255.7 1759.3L258.7 1759.3L261.7 1759.3L264.7 1759.3L267.7 1759.3L270.7 1759.3L273.7 1759.3L276.7 1759.3L279.7 1759.3L282.8 1759.2L285.8 1759.2L288.8 1759.2L291.8 1759.2L294.8 1759.2L297.8 1759.1L300.8 1759.1L303.8 1759.1L306.8 1759.0L309.8 1759.0L312.9 1758.9L315.9 1758.9L318.9 1758.8L321.9 1758.7L324.9 1758.6L327.9 1758.6L330.9 1758.5L333.9 1758.4L336.9 1758.3L339.9 1758.1L342.9 1758.0L345.9 1757.9L348.9 1757.7L351.9 1757.6L354.9 1757.4L357.9 1757.2L360.9 1757.1L363.9 1756.9L366.9 1756.7L369.9 1756.4L372.9 1756.2L375.9 1756.0L378.9 1755.7L381.9 1755.4L384.9 1755.2L387.9 1754.9L390.8 1754.6L393.8 1754.2L396.8 1753.9L399.8 1753.5L402.8 1753.2L405.8 1752.8L408.7 1752.4L411.7 1752.0L414.7 1751.6L417.7 1751.1L420.6 1750.7L423.6 1750.2L426.6 1749.7L429.5 1749.2L432.5 1748.7L435.5 1748.2L438.4 1747.6L441.4 1747.1L444.4 1746.5L447.3 1746.0L450.3 1745.4L453.3 1744.9L456.2 1744.4L459.2 1743.8L462.2 1743.3L465.1 1742.7L468.1 1742.2L471.0 1741.7L474.0 1741.2L477.0 1740.6L479.9 1740.2L482.9 1739.7L485.9 1739.2L488.8 1738.8L491.8 1738.3L494.7 1737.9L497.7 1737.4L500.7 1736.9L503.6 1736.4L506.5 1735.8L509.5 1735.2L512.4 1734.6L515.3 1733.9L518.2 1733.1L521.0 1732.3L523.9 1731.4L526.8 1730.5L529.6 1729.6L532.5 1728.6L535.3 1727.6L538.1 1726.5L540.9 1725.5L543.8 1724.4L546.6 1723.3L549.4 1722.2L552.2 1721.1L555.0 1719.9L557.8 1718.8L560.6 1717.7L563.4 1716.6L566.2 1715.5L569.0 1714.4L571.8 1713.3L574.6 1712.2L577.4 1711.0L580.1 1709.9L582.8 1708.6L585.5 1707.3L588.1 1705.9L590.7 1704.4L593.2 1702.8L595.7 1701.1L598.2 1699.4L600.6 1697.6L603.0 1695.7L605.5 1693.9L607.9 1692.1L610.4 1690.3L613.0 1688.6L615.7 1687.0L618.4 1685.6L621.1 1684.5L623.8 1683.6L626.6 1683.1L629.3 1683.0L632.1 1683.1L634.8 1683.5L637.6 1684.0L640.5 1684.5L643.4 1685.1L646.3 1685.7L649.3 1686.2L652.3 1686.7L655.3 1687.1L658.4 1687.6L661.5 1687.9L664.6 1688.3L667.7 1688.5L670.8 1688.8L674.0 1688.9L677.1 1689.0L680.2 1689.1L683.4 1689.0L686.5 1688.9L689.6 1688.7L692.6 1688.5L695.7 1688.1L698.7 1687.7L701.7 1687.1L704.6 1686.5L707.5 1685.7L710.4 1684.9L713.2 1683.9L715.9 1682.9L718.6 1681.7L721.2 1680.4L723.7 1678.9L726.2 1677.3L728.6 1675.6L730.9 1673.8L733.1 1671.8L735.2 1669.8L737.3 1667.6L739.4 1665.4L741.4 1663.1L743.4 1660.7L745.4 1658.4L747.4 1656.1L749.4 1653.8L751.5 1651.6L753.6 1649.4L755.8 1647.4L758.0 1645.4L760.3 1643.6L762.8 1641.9L765.3 1640.5L768.0 1639.3L770.7 1638.7L773.4 1638.6L776.2 1639.2L779.0 1640.3L781.8 1641.9L784.6 1643.8L787.3 1645.8L790.1 1647.7L792.8 1649.5L795.5 1650.9L798.1 1651.8L800.6 1652.1L803.2 1651.6L805.6 1650.5L808.0 1648.8L810.4 1646.8L812.8 1644.5L815.2 1642.0L817.6 1639.6L820.0 1637.3L822.5 1635.1L824.9 1633.1L827.4 1631.2L829.9 1629.6L832.4 1628.3L835.0 1627.4L837.5 1626.7L840.1 1626.5L842.7 1626.8L845.3 1627.5L848.0 1628.5L850.7 1629.8L853.4 1631.3L856.1 1632.9L858.9 1634.6L861.7 1636.3L864.6 1637.8L867.5 1639.3L870.4 1640.5L873.4 1641.7L876.4 1642.7L879.3 1643.6L882.3 1644.5L885.3 1645.3L888.2 1646.1L891.1 1646.9L893.9 1647.8L896.7 1648.7L899.3 1649.8L901.9 1650.9L904.4 1652.2L906.7 1653.7L909.0 1655.4L911.0 1657.4L913.0 1659.5L914.8 1661.9L916.4 1664.5L917.9 1667.3L919.4 1670.2L920.7 1673.1L922.0 1676.1L923.3 1679.1L924.5 1682.1L925.7 1685.0L927.0 1687.9L928.3 1690.7L929.7 1693.4L931.2 1695.9L932.8 1698.3L934.6 1700.5L936.6 1702.5L938.8 1704.3L941.2 1705.8L943.9 1707.1L946.7 1707.7L949.3 1707.6L951.9 1706.5L954.2 1704.7L956.4 1702.3L958.4 1699.6L960.3 1696.8L962.1 1694.0L963.7 1691.2L965.2 1688.5L966.6 1685.8L968.0 1683.1L969.3 1680.5L970.5 1677.9L971.7 1675.4L972.9 1672.8L974.1 1670.3L975.4 1667.8L976.7 1665.2L978.2 1662.6L979.8 1660.0L981.5 1657.3L983.4 1654.6L985.4 1652.0L987.6 1649.4L989.8 1647.0L992.2 1644.8L994.6 1642.8L997.1 1641.1L999.7 1639.7L1002.3 1638.7L1005.0 1638.1L1007.7 1638.0L1010.5 1638.3L1013.2 1638.9L1015.9 1639.9L1018.7 1641.2L1021.4 1642.6L1024.0 1644.2L1026.6 1645.9L1029.2 1647.6L1031.7 1649.4L1034.2 1651.3L1036.6 1653.1L1039.1 1655.0L1041.5 1656.9L1043.9 1658.8L1046.3 1660.6L1048.7 1662.4L1051.1 1664.2L1053.6 1665.9L1056.0 1667.5L1058.6 1669.0L1061.1 1670.4L1063.7 1671.7L1066.4 1672.9L1069.1 1674.0L1071.9 1674.8L1074.7 1675.6L1077.7 1676.2L1080.6 1676.7L1083.6 1677.0L1086.7 1677.3L1089.8 1677.5L1092.9 1677.7L1096.0 1677.8L1099.1 1677.9L1102.3 1678.0L1105.4 1678.0L1108.5 1678.2L1111.5 1678.3L1114.6 1678.5L1117.6 1678.7L1120.6 1678.9L1123.6 1679.2L1126.6 1679.5L1129.6 1679.8L1132.6 1680.2L1135.5 1680.5L1138.4 1680.9L1141.4 1681.4L1144.3 1681.8L1147.2 1682.3L1150.1 1682.8L1153.1 1683.3L1156.0 1683.8L1158.9 1684.4L1161.8 1685.0L1164.8 1685.6L1167.7 1686.2L1170.6 1686.8L1173.6 1687.5L1176.6 1688.1L1179.5 1688.8L1182.5 1689.5L1185.5 1690.1L1188.5 1690.7L1191.5 1691.3L1194.5 1691.9L1197.5 1692.4L1200.5 1692.9L1203.5 1693.3L1206.5 1693.6L1209.5 1693.8L1212.5 1694.0L1215.5 1694.0L1218.5 1694.0L1221.5 1693.9L1224.5 1693.8L1227.5 1693.5L1230.4 1693.2L1233.4 1692.8L1236.3 1692.4L1239.3 1691.9L1242.2 1691.3L1245.1 1690.6L1248.0 1689.9L1250.9 1689.2L1253.8 1688.3L1256.7 1687.4L1259.5 1686.5L1262.4 1685.5L1265.2 1684.4L1268.0 1683.3L1270.8 1682.2L1273.6 1681.0L1276.4 1679.8L1279.2 1678.6L1282.0 1677.4L1284.7 1676.1L1287.5 1674.9L1290.3 1673.8L1293.0 1672.7L1295.8 1671.6L1298.6 1670.6L1301.4 1669.6L1304.3 1668.8L1307.1 1668.0L1310.0 1667.4L1312.9 1666.8L1315.8 1666.4L1318.7 1666.1L1321.7 1665.9L1324.7 1665.9L1327.7 1666.0L1330.7 1666.2L1333.8 1666.4L1336.8 1666.8L1339.9 1667.2L1343.0 1667.6L1346.0 1668.1L1349.1 1668.6L1352.2 1669.1L1355.2 1669.6L1358.3 1670.1L1361.3 1670.5L1364.3 1670.9L1367.3 1671.3L1370.3 1671.6L1373.3 1671.9L1376.3 1672.2L1379.2 1672.5L1382.2 1672.8L1385.1 1673.0L1388.0 1673.3L1391.0 1673.6L1393.9 1674.0L1396.8 1674.3L1399.7 1674.7L1402.6 1675.1L1405.5 1675.6L1408.4 1676.1L1411.3 1676.7L1414.2 1677.4L1417.2 1678.1L1420.1 1678.9L1423.0 1679.8L1426.0 1680.8L1428.9 1681.8L1431.9 1683.0L1434.8 1684.1L1437.8 1685.3L1440.8 1686.5L1443.7 1687.6L1446.7 1688.6L1449.7 1689.6L1452.6 1690.5L1455.6 1691.2L1458.5 1691.8L1461.4 1692.2L1464.3 1692.6L1467.3 1692.8L1470.2 1692.9L1473.1 1692.9L1476.0 1692.8L1478.9 1692.6L1481.8 1692.4L1484.7 1692.0L1487.5 1691.5L1490.4 1691.0L1493.3 1690.4L1496.1 1689.7L1499.0 1689.0L1501.9 1688.2L1504.7 1687.3L1507.6 1686.4L1510.4 1685.4L1513.3 1684.4L1516.1 1683.4L1519.0 1682.3L1521.8 1681.2L1524.6 1680.1L1527.5 1679.0L1530.3 1677.9L1533.2 1676.7L1536.0 1675.6L1538.8 1674.4L1541.7 1673.3L1544.5 1672.1L1547.3 1671.0L1550.2 1669.9L1553.0 1668.8L1555.8 1667.7L1558.6 1666.5L1561.4 1665.4L1564.3 1664.3L1567.1 1663.2L1569.9 1662.0L1572.6 1660.9L1575.4 1659.8L1578.2 1658.6L1580.9 1657.4L1583.7 1656.2L1586.4 1655.0L1589.1 1653.8L1591.8 1652.5L1594.5 1651.2L1597.2 1650.0L1599.9 1648.6L1602.5 1647.3L1605.1 1645.9L1607.7 1644.5L1610.3 1643.0L1612.9 1641.5L1615.4 1640.0L1617.9 1638.4L1620.4 1636.8L1622.9 1635.2L1625.3 1633.5L1627.8 1631.8L1630.2 1630.0L1632.6 1628.2L1635.0 1626.4L1637.3 1624.5L1639.7 1622.6L1642.0 1620.7L1644.3 1618.7L1646.6 1616.8L1648.9 1614.8L1651.2 1612.7L1653.5 1610.7L1655.7 1608.6L1658.0 1606.6L1660.3 1604.5L1662.5 1602.4L1664.8 1600.2L1667.1 1598.1L1669.3 1596.1L1671.7 1594.1L1674.1 1592.2L1676.5 1590.5L1679.1 1589.0L1681.7 1587.8L1684.4 1586.8L1687.3 1586.0L1690.1 1585.4L1693.0 1585.1L1696.0 1585.0L1699.0 1585.0L1701.9 1585.3L1704.9 1585.8L1707.9 1586.4L1710.8 1587.3L1713.7 1588.3L1716.5 1589.4L1719.2 1590.8L1721.9 1592.3L1724.4 1593.9L1727.0 1595.6L1729.4 1597.4L1731.9 1599.3L1734.3 1601.2L1736.7 1603.0L1739.1 1604.9L1741.5 1606.6L1743.9 1608.3L1746.4 1609.9L1749.0 1611.3L1751.6 1612.5L1754.3 1613.6L1757.1 1614.4L1760.0 1615.0L1763.0 1615.3L1766.1 1615.5L1769.2 1615.7L1772.4 1615.8L1775.5 1616.0L1778.6 1616.2L1781.8 1616.6L1784.8 1617.2L1787.8 1617.8L1790.8 1618.7L1793.6 1619.7L1796.4 1620.8L1799.1 1622.1L1801.6 1623.6L1804.0 1625.3L1806.3 1627.1L1808.5 1629.1L1810.5 1631.3L1812.4 1633.6L1814.3 1636.0L1816.1 1638.5L1817.8 1641.0L1819.6 1643.4L1821.3 1645.9L1823.0 1648.4L1824.8 1650.9L1826.5 1653.4L1828.2 1655.9L1830.0 1658.3L1831.7 1660.8L1833.4 1663.3L1835.1 1665.7L1836.9 1668.2L1838.6 1670.6L1840.4 1673.0L1842.2 1675.4L1843.9 1677.8L1845.7 1680.2L1847.5 1682.6L1849.4 1685.0L1851.2 1687.3L1853.1 1689.7L1854.9 1692.0L1856.8 1694.3L1858.8 1696.6L1860.7 1698.8L1862.7 1701.1L1864.7 1703.3L1866.8 1705.5L1868.8 1707.7L1870.9 1709.9L1873.0 1712.0L1875.2 1714.1L1877.3 1716.3L1879.5 1718.4L1881.7 1720.4L1883.9 1722.5L1886.1 1724.6L1888.3 1726.7L1890.6 1728.7L1892.8 1730.8L1895.0 1732.8L1897.3 1734.8L1899.5 1736.9L1901.7 1738.9L1904.0 1740.9L1906.2 1743.0L1908.4 1745.0L1910.7 1746.9L1913.0 1748.7L1915.5 1750.2L1918.2 1751.4L1921.1 1752.3L1924.1 1752.8L1927.3 1752.9L1930.4 1752.8L1933.5 1752.4L1936.6 1751.8L1939.5 1751.1L1942.4 1750.2L1945.2 1749.2L1948.0 1748.1L1950.8 1747.0L1953.5 1745.9L1956.3 1744.9L1959.1 1743.9L1962.0 1743.0L1964.9 1742.1L1967.8 1741.4L1970.7 1740.7L1973.7 1740.1L1976.7 1739.6L1979.6 1739.1L1982.6 1738.7L1985.6 1738.3L1988.6 1738.0L1991.7 1737.8L1994.7 1737.6L1997.7 1737.5L2000.7 1737.4L2003.7 1737.3L2006.7 1737.3L2009.7 1737.3L2012.7 1737.4L2015.7 1737.5L2018.7 1737.6L2021.7 1737.7L2024.7 1737.8L2027.7 1738.0L2030.7 1738.1L2033.7 1738.3L2036.8 1738.4L2039.8 1738.6L2042.8 1738.7L2045.8 1738.8L2048.8 1738.9L2051.8 1739.0L2054.8 1739.0L2057.8 1739.0L2060.8 1738.9L2063.8 1738.8L2066.8 1738.7L2069.8 1738.6L2072.8 1738.5L2075.8 1738.5L2078.8 1738.4L2081.8 1738.4L2084.8 1738.5L2087.8 1738.6L2090.8 1738.7L2093.8 1738.9L2096.8 1739.1L2099.8 1739.4L2102.8 1739.6L2105.8 1739.9L2108.8 1740.2L2111.7 1740.5L2114.7 1740.8L2117.7 1741.0L2120.7 1741.3L2123.7 1741.5L2126.7 1741.7L2129.7 1741.9L2132.7 1742.0L2135.7 1742.0L2138.7 1742.0L2141.7 1741.9L2144.7 1741.8L2147.7 1741.6L2150.7 1741.2L2153.8 1740.8L2156.8 1740.3L2159.8 1739.7L2162.8 1739.1L2165.8 1738.5L2168.8 1737.9L2171.8 1737.3L2174.8 1736.8L2177.8 1736.4L2180.7 1736.1L2183.7 1736.0L2186.6 1736.0L2189.6 1736.3L2192.5 1736.8L2195.4 1737.5L2198.3 1738.3L2201.2 1739.2L2204.1 1740.2L2207.0 1741.2L2209.9 1742.1L2212.8 1743.1L2215.7 1743.9L2218.6 1744.5L2221.6 1745.1L2224.5 1745.5L2227.5 1745.9L2230.5 1746.2L2233.4 1746.5L2236.4 1746.9L2239.4 1747.2L2242.4 1747.7L2245.4 1748.3L2248.4 1748.9L2251.3 1749.8L2254.3 1750.7L2257.3 1751.7L2260.2 1752.8L2263.1 1753.7L2266.1 1754.6L2269.0 1755.4L2271.9 1755.9L2274.8 1756.2L2277.7 1756.2L2280.6 1755.9L2283.4 1755.3L2286.3 1754.4L2289.2 1753.3L2292.0 1752.2L2294.9 1751.1L2297.8 1750.1L2300.7 1749.4L2303.7 1748.9L2306.6 1748.8L2309.6 1749.1L2312.5 1749.6L2315.5 1750.5L2318.3 1751.6L2321.2 1752.9L2324.0 1754.3L2326.7 1755.8L2329.3 1757.3L2332.0 1758.7L2334.7 1759.9L2337.5 1760.8L2340.4 1761.2L2343.3 1761.3L2346.4 1761.2L2349.4 1761.0L2352.5 1760.7L2355.6 1760.6L2358.6 1760.6L2361.5 1760.9" stroke="#0000ff" stroke-dasharray="11.4 19.5"/>
<path d="M177.5 1758.1L180.5 1758.0L183.5 1758.0L186.5 1757.9L189.5 1757.9L192.5 1757.8L195.5 1757.8L198.5 1757.8L201.5 1757.9L204.5 1757.9L207.5 1757.9L210.5 1758.0L213.5 1758.1L216.5 1758.2L219.5 1758.2L222.5 1758.3L225.4 1758.4L228.4 1758.5L231.4 1758.7L234.4 1758.8L237.4 1758.9L240.4 1759.0L243.4 1759.1L246.4 1759.2L249.5 1759.3L252.5 1759.4L255.5 1759.6L258.5 1759.7L261.5 1759.7L264.6 1759.8L267.6 1759.9L270.6 1760.0L273.7 1760.0L276.7 1760.0L279.7 1760.0L282.7 1759.9L285.7 1759.8L288.7 1759.6L291.7 1759.4L294.7 1759.2L297.6 1758.9L300.6 1758.5L303.5 1758.0L306.4 1757.5L309.3 1756.9L312.1 1756.2L315.0 1755.5L317.7 1754.6L320.5 1753.7L323.3 1752.6L326.0 1751.4L328.6 1750.2L331.3 1748.8L333.9 1747.4L336.5 1745.8L339.0 1744.3L341.6 1742.6L344.1 1741.0L346.6 1739.3L349.1 1737.5L351.6 1735.8L354.1 1734.1L356.6 1732.4L359.1 1730.6L361.6 1728.9L364.1 1727.1L366.6 1725.4L369.1 1723.6L371.5 1721.8L374.0 1720.0L376.4 1718.3L378.9 1716.5L381.3 1714.7L383.7 1712.8L386.2 1711.0L388.6 1709.2L391.0 1707.4L393.3 1705.5L395.7 1703.6L398.1 1701.8L400.4 1699.9L402.8 1698.0L405.1 1696.1L407.4 1694.2L409.7 1692.3L412.0 1690.3L414.3 1688.4L416.6 1686.4L418.8 1684.4L421.0 1682.4L423.3 1680.4L425.5 1678.4L427.7 1676.4L429.8 1674.3L432.0 1672.3L434.1 1670.2L436.2 1668.1L438.3 1666.0L440.4 1663.9L442.5 1661.7L444.5 1659.6L446.6 1657.4L448.6 1655.2L450.6 1653.0L452.5 1650.7L454.5 1648.5L456.4 1646.2L458.3 1643.9L460.2 1641.6L462.1 1639.3L463.9 1636.9L465.7 1634.5L467.5 1632.1L469.3 1629.7L471.0 1627.3L472.8 1624.8L474.4 1622.3L476.1 1619.8L477.8 1617.3L479.4 1614.8L481.0 1612.2L482.5 1609.6L484.1 1607.0L485.6 1604.4L487.1 1601.8L488.6 1599.1L490.0 1596.5L491.4 1593.8L492.8 1591.1L494.2 1588.4L495.5 1585.7L496.8 1582.9L498.1 1580.2L499.3 1577.4L500.5 1574.7L501.7 1571.9L502.9 1569.1L504.0 1566.3L505.1 1563.5L506.2 1560.7L507.2 1557.9L508.3 1555.0L509.2 1552.2L510.2 1549.4L511.1 1546.5L512.0 1543.7L512.9 1540.8L513.8 1538.0L514.6 1535.1L515.4 1532.2L516.2 1529.3L517.0 1526.5L517.7 1523.6L518.5 1520.7L519.2 1517.8L519.9 1514.9L520.6 1512.0L521.3 1509.1L521.9 1506.2L522.6 1503.2L523.2 1500.3L523.8 1497.4L524.4 1494.5L525.1 1491.6L525.7 1488.6L526.3 1485.7L526.9 1482.8L527.4 1479.8L528.0 1476.9L528.6 1473.9L529.2 1471.0L529.8 1468.1L530.4 1465.1L530.9 1462.2L531.5 1459.2L532.1 1456.3L532.7 1453.3L533.3 1450.4L533.9 1447.4L534.5 1444.5L535.1 1441.5L535.7 1438.6L536.3 1435.6L536.9 1432.7L537.5 1429.7L538.1 1426.8L538.7 1423.9L539.3 1420.9L540.0 1418.0L540.6 1415.0L541.2 1412.1L541.9 1409.2L542.5 1406.2L543.2 1403.3L543.8 1400.4L544.5 1397.4L545.1 1394.5L545.8 1391.5L546.4 1388.6L547.1 1385.7L547.8 1382.7L548.4 1379.8L549.1 1376.9L549.7 1373.9L550.4 1371.0L551.1 1368.1L551.7 1365.2L552.4 1362.2L553.1 1359.3L553.7 1356.4L554.4 1353.4L555.0 1350.5L555.7 1347.6L556.4 1344.6L557.0 1341.7L557.7 1338.8L558.3 1335.8L559.0 1332.9L559.6 1330.0L560.2 1327.0L560.9 1324.1L561.5 1321.2L562.1 1318.2L562.8 1315.3L563.4 1312.3L564.0 1309.4L564.6 1306.5L565.2 1303.5L565.8 1300.6L566.4 1297.7L567.0 1294.7L567.6 1291.8L568.2 1288.8L568.8 1285.9L569.4 1282.9L569.9 1280.0L570.5 1277.0L571.0 1274.1L571.6 1271.2L572.1 1268.2L572.7 1265.3L573.2 1262.3L573.7 1259.4L574.3 1256.4L574.8 1253.5L575.3 1250.5L575.8 1247.5L576.3 1244.6L576.8 1241.6L577.3 1238.7L577.8 1235.7L578.3 1232.8L578.8 1229.8L579.2 1226.8L579.7 1223.9L580.2 1220.9L580.7 1218.0L581.1 1215.0L581.6 1212.0L582.0 1209.1L582.5 1206.1L582.9 1203.2L583.4 1200.2L583.8 1197.2L584.2 1194.3L584.7 1191.3L585.1 1188.3L585.5 1185.4L586.0 1182.4L586.4 1179.4L586.8 1176.4L587.2 1173.5L587.6 1170.5L588.0 1167.5L588.4 1164.6L588.8 1161.6L589.2 1158.6L589.6 1155.6L590.0 1152.7L590.4 1149.7L590.8 1146.7L591.2 1143.8L591.6 1140.8L592.0 1137.8L592.4 1134.8L592.8 1131.9L593.1 1128.9L593.5 1125.9L593.9 1122.9L594.3 1119.9L594.6 1117.0L595.0 1114.0L595.4 1111.0L595.7 1108.0L596.1 1105.0L596.4 1102.1L596.8 1099.1L597.2 1096.1L597.5 1093.1L597.9 1090.1L598.2 1087.2L598.6 1084.2L598.9 1081.2L599.3 1078.2L599.6 1075.2L599.9 1072.2L600.3 1069.3L600.6 1066.3L601.0 1063.3L601.3 1060.3L601.6 1057.3L602.0 1054.3L602.3 1051.4L602.6 1048.4L602.9 1045.4L603.3 1042.4L603.6 1039.4L603.9 1036.4L604.2 1033.4L604.5 1030.4L604.9 1027.5L605.2 1024.5L605.5 1021.5L605.8 1018.5L606.1 1015.5L606.4 1012.5L606.7 1009.5L607.0 1006.5L607.3 1003.5L607.6 1000.6L607.9 997.6L608.2 994.6L608.5 991.6L608.8 988.6L609.1 985.6L609.4 982.6L609.7 979.6L610.0 976.6L610.3 973.6L610.6 970.6L610.9 967.7L611.2 964.7L611.5 961.7L611.8 958.7L612.0 955.7L612.3 952.7L612.6 949.7L612.9 946.7L613.2 943.7L613.4 940.7L613.7 937.7L614.0 934.7L614.3 931.7L614.6 928.7L614.8 925.8L615.1 922.8L615.4 919.8L615.6 916.8L615.9 913.8L616.2 910.8L616.5 907.8L616.7 904.8L617.0 901.8L617.3 898.8L617.5 895.8L617.8 892.8L618.1 889.8L618.3 886.8L618.6 883.8L618.8 880.8L619.1 877.9L619.4 874.9L619.6 871.9L619.9 868.9L620.1 865.9L620.4 862.9L620.7 859.9L620.9 856.9L621.2 853.9L621.4 850.9L621.7 847.9L622.0 844.9L622.2 841.9L622.5 838.9L622.7 835.9L623.0 832.9L623.2 830.0L623.5 827.0L623.7 824.0L624.0 821.0L624.2 818.0L624.5 815.0L624.7 812.0L625.0 809.0L625.2 806.0L625.5 803.0L625.8 800.0L626.0 797.0L626.3 794.0L626.5 791.1L626.8 788.1L627.0 785.1L627.3 782.1L627.5 779.1L627.8 776.1L628.0 773.1L628.3 770.1L628.5 767.1L628.8 764.1L629.0 761.1L629.3 758.2L629.5 755.2L629.8 752.2L630.0 749.2L630.3 746.2L630.5 743.2L630.8 740.2L631.0 737.2L631.3 734.2L631.5 731.3L631.8 728.3L632.0 725.3L632.3 722.3L632.5 719.3L632.8 716.3L633.0 713.3L633.3 710.3L633.6 707.4L633.8 704.4L634.1 701.4L634.3 698.4L634.6 695.4L634.8 692.4L635.1 689.5L635.4 686.5L635.6 683.5L635.9 680.5L636.1 677.5L636.4 674.5L636.7 671.6L636.9 668.6L637.2 665.6L637.4 662.6L637.7 659.6L638.0 656.7L638.2 653.7L638.5 650.7L638.8 647.7L639.0 644.7L639.3 641.8L639.6 638.8L639.8 635.8L640.1 632.8L640.4 629.8L640.7 626.9L640.9 623.9L641.2 620.9L641.5 617.9L641.8 614.9L642.1 612.0L642.3 609.0L642.6 606.0L642.9 603.0L643.2 600.0L643.5 597.1L643.8 594.1L644.1 591.1L644.4 588.1L644.7 585.1L645.0 582.2L645.3 579.2L645.6 576.2L645.9 573.2L646.2 570.2L646.5 567.3L646.8 564.3L647.1 561.3L647.4 558.3L647.7 555.4L648.0 552.4L648.3 549.4L648.7 546.4L649.0 543.4L649.3 540.4L649.6 537.5L650.0 534.5L650.3 531.5L650.6 528.5L651.0 525.5L651.3 522.6L651.6 519.6L652.0 516.6L652.3 513.6L652.7 510.6L653.0 507.6L653.4 504.7L653.7 501.7L654.1 498.7L654.4 495.7L654.8 492.7L655.2 489.7L655.5 486.7L655.9 483.8L656.3 480.8L656.7 477.8L657.0 474.8L657.4 471.8L657.8 468.8L658.2 465.8L658.6 462.8L659.0 459.9L659.4 456.9L659.8 453.9L660.2 450.9L660.6 447.9L661.0 444.9L661.4 441.9L661.8 438.9L662.2 435.9L662.7 432.9L663.1 429.9L663.5 426.9L663.9 423.9L664.4 420.9L664.8 417.9L665.3 414.9L665.7 411.9L666.2 408.9L666.6 405.9L667.1 402.9L667.5 399.9L668.0 396.9L668.5 393.9L668.9 390.9L669.4 387.9L669.9 384.9L670.4 381.9L670.9 378.9L671.4 375.9L671.9 372.9L672.4 369.9L672.9 366.9L673.4 363.9L673.9 360.9L674.4 357.9L675.0 354.9L675.6 351.9L676.2 348.9L676.8 346.0L677.5 343.1L678.3 340.2L679.1 337.4L680.0 334.6L681.0 331.9L682.0 329.2L683.2 326.5L684.4 324.0L685.7 321.4L687.2 319.0L688.7 316.6L690.4 314.3L692.2 312.1L694.2 310.0L696.3 308.0L698.5 306.0L700.9 304.2L703.4 302.4L706.1 300.8L709.0 299.6L711.9 299.0L714.8 299.1L717.7 299.9L720.4 301.2L723.0 303.0L725.4 305.0L727.5 307.1L729.5 309.5L731.3 312.0L733.1 314.5L734.8 317.1L736.5 319.7L738.2 322.3L739.9 324.9L741.6 327.4L743.2 330.0L744.9 332.6L746.6 335.1L748.2 337.6L749.9 340.1L751.6 342.7L753.3 345.1L755.0 347.6L756.7 350.0L758.5 352.4L760.3 354.8L762.1 357.2L763.9 359.5L765.8 361.8L767.8 364.1L769.7 366.3L771.8 368.5L773.8 370.6L776.0 372.8L778.1 374.8L780.4 376.8L782.7 378.8L785.1 380.7L787.5 382.5L790.1 383.9L792.7 384.8L795.4 384.8L798.1 384.1L800.8 382.9L803.3 381.2L805.7 379.2L807.9 377.0L809.8 374.6L811.5 372.1L813.2 369.5L814.7 366.9L816.2 364.2L817.7 361.5L819.2 358.8L820.9 356.2L822.6 353.7L824.5 351.2L826.7 348.9L829.1 346.8L831.8 344.9L834.7 343.2L837.6 341.9L840.4 341.2L843.1 341.0L845.6 341.4L847.8 342.4L849.8 343.9L851.6 345.8L853.3 348.0L854.8 350.6L856.3 353.3L857.6 356.3L858.8 359.3L860.0 362.4L861.2 365.4L862.3 368.4L863.4 371.4L864.5 374.3L865.6 377.2L866.6 380.0L867.7 382.8L868.7 385.6L869.7 388.4L870.7 391.1L871.7 393.9L872.7 396.7L873.7 399.5L874.7 402.3L875.6 405.1L876.6 407.9L877.6 410.7L878.6 413.5L879.5 416.3L880.5 419.1L881.4 421.9L882.4 424.7L883.3 427.6L884.3 430.4L885.2 433.2L886.1 436.1L887.1 438.9L888.0 441.7L888.9 444.6L889.8 447.5L890.7 450.3L891.6 453.2L892.5 456.0L893.3 458.9L894.2 461.8L895.1 464.6L895.9 467.5L896.8 470.4L897.7 473.3L898.5 476.2L899.3 479.1L900.2 482.0L901.0 484.8L901.8 487.7L902.6 490.6L903.4 493.5L904.2 496.4L905.0 499.3L905.8 502.3L906.6 505.2L907.3 508.1L908.1 511.0L908.8 513.9L909.6 516.8L910.3 519.7L911.1 522.7L911.8 525.6L912.5 528.5L913.2 531.4L913.9 534.4L914.6 537.3L915.3 540.2L915.9 543.2L916.6 546.1L917.3 549.0L917.9 552.0L918.5 554.9L919.2 557.8L919.8 560.8L920.4 563.7L921.0 566.6L921.6 569.6L922.2 572.5L922.8 575.5L923.4 578.4L923.9 581.3L924.5 584.3L925.0 587.2L925.6 590.2L926.1 593.1L926.6 596.1L927.2 599.0L927.7 602.0L928.2 604.9L928.7 607.9L929.2 610.8L929.7 613.8L930.1 616.7L930.6 619.7L931.1 622.7L931.6 625.6L932.0 628.6L932.5 631.6L932.9 634.5L933.4 637.5L933.8 640.5L934.3 643.4L934.7 646.4L935.1 649.4L935.5 652.4L936.0 655.3L936.4 658.3L936.8 661.3L937.3 664.3L937.7 667.2L938.1 670.2L938.6 673.2L939.0 676.2L939.5 679.1L940.0 682.1L940.4 685.1L940.9 688.1L941.4 691.0L942.0 694.0L942.5 696.9L943.0 699.9L943.6 702.8L944.2 705.8L944.8 708.7L945.4 711.7L946.1 714.6L946.7 717.5L947.4 720.4L948.1 723.3L948.9 726.3L949.7 729.2L950.5 732.0L951.3 734.9L952.1 737.8L953.0 740.7L954.0 743.5L954.9 746.4L956.0 749.2L957.0 752.0L958.1 754.7L959.3 757.5L960.5 760.2L961.8 762.9L963.2 765.6L964.6 768.2L966.1 770.8L967.6 773.3L969.3 775.8L971.0 778.3L972.8 780.7L974.7 783.0L976.6 785.3L978.6 787.6L980.6 789.9L982.6 792.2L984.6 794.5L986.5 796.9L988.4 799.3L990.2 801.7L991.9 804.2L993.5 806.7L995.1 809.3L996.6 811.9L998.0 814.5L999.5 817.1L1000.9 819.8L1002.3 822.4L1003.8 825.1L1005.2 827.7L1006.7 830.3L1008.2 832.9L1009.7 835.5L1011.4 838.0L1013.1 840.4L1014.9 842.8L1016.8 845.1L1018.8 847.4L1020.9 849.5L1023.1 851.6L1025.4 853.7L1027.8 855.7L1030.2 857.6L1032.6 859.6L1034.9 861.6L1037.3 863.6L1039.5 865.7L1041.7 867.8L1043.7 870.0L1045.7 872.3L1047.5 874.6L1049.3 877.0L1051.0 879.4L1052.7 881.9L1054.3 884.4L1055.8 886.9L1057.3 889.5L1058.8 892.0L1060.2 894.6L1061.6 897.3L1063.0 899.9L1064.4 902.5L1065.8 905.2L1067.1 907.8L1068.5 910.5L1069.8 913.2L1071.2 915.8L1072.5 918.5L1073.8 921.2L1075.1 923.9L1076.4 926.6L1077.7 929.3L1079.0 932.0L1080.3 934.7L1081.5 937.4L1082.8 940.2L1084.0 942.9L1085.3 945.6L1086.5 948.3L1087.7 951.1L1088.9 953.8L1090.1 956.6L1091.3 959.3L1092.5 962.1L1093.7 964.9L1094.9 967.6L1096.1 970.4L1097.3 973.2L1098.4 976.0L1099.6 978.7L1100.7 981.5L1101.9 984.3L1103.0 987.1L1104.1 989.9L1105.2 992.7L1106.4 995.5L1107.5 998.3L1108.6 1001.1L1109.7 1003.9L1110.8 1006.7L1111.8 1009.5L1112.9 1012.4L1114.0 1015.2L1115.1 1018.0L1116.1 1020.8L1117.2 1023.6L1118.3 1026.5L1119.3 1029.3L1120.4 1032.1L1121.4 1034.9L1122.4 1037.8L1123.5 1040.6L1124.5 1043.4L1125.5 1046.3L1126.5 1049.1L1127.6 1051.9L1128.6 1054.8L1129.6 1057.6L1130.6 1060.4L1131.6 1063.2L1132.6 1066.1L1133.6 1068.9L1134.6 1071.7L1135.6 1074.6L1136.5 1077.4L1137.5 1080.2L1138.5 1083.1L1139.5 1085.9L1140.5 1088.7L1141.5 1091.5L1142.4 1094.4L1143.4 1097.2L1144.4 1100.0L1145.4 1102.8L1146.4 1105.7L1147.3 1108.5L1148.3 1111.3L1149.3 1114.1L1150.3 1116.9L1151.3 1119.7L1152.3 1122.6L1153.3 1125.4L1154.3 1128.2L1155.3 1131.0L1156.3 1133.8L1157.4 1136.6L1158.4 1139.4L1159.4 1142.2L1160.5 1145.0L1161.5 1147.8L1162.6 1150.6L1163.6 1153.4L1164.7 1156.2L1165.8 1158.9L1166.9 1161.7L1168.0 1164.5L1169.1 1167.3L1170.2 1170.1L1171.3 1172.8L1172.4 1175.6L1173.6 1178.4L1174.7 1181.1L1175.9 1183.9L1177.1 1186.6L1178.2 1189.4L1179.4 1192.1L1180.7 1194.9L1181.9 1197.6L1183.1 1200.4L1184.4 1203.1L1185.6 1205.8L1186.9 1208.6L1188.2 1211.3L1189.5 1214.0L1190.9 1216.7L1192.2 1219.4L1193.6 1222.1L1194.9 1224.8L1196.3 1227.5L1197.7 1230.2L1199.2 1232.9L1200.6 1235.6L1202.1 1238.3L1203.6 1241.0L1205.1 1243.6L1206.6 1246.3L1208.1 1249.0L1209.7 1251.6L1211.3 1254.3L1212.9 1256.9L1214.5 1259.5L1216.2 1262.1L1217.9 1264.7L1219.6 1267.2L1221.3 1269.7L1223.1 1272.1L1225.0 1274.5L1226.8 1276.9L1228.7 1279.2L1230.7 1281.4L1232.6 1283.6L1234.7 1285.7L1236.8 1287.7L1238.9 1289.7L1241.1 1291.6L1243.3 1293.4L1245.6 1295.1L1247.9 1296.7L1250.3 1298.2L1252.8 1299.6L1255.3 1300.9L1257.9 1302.1L1260.5 1303.1L1263.2 1304.1L1265.9 1305.0L1268.7 1305.7L1271.6 1306.4L1274.5 1306.9L1277.4 1307.4L1280.4 1307.8L1283.4 1308.1L1286.5 1308.4L1289.5 1308.6L1292.6 1308.7L1295.8 1308.7L1298.9 1308.7L1302.0 1308.7L1305.2 1308.6L1308.4 1308.4L1311.5 1308.2L1314.7 1308.0L1317.9 1307.7L1321.0 1307.4L1324.2 1307.1L1327.3 1306.8L1330.5 1306.5L1333.6 1306.1L1336.6 1305.8L1339.7 1305.4L1342.7 1305.1L1345.7 1304.7L1348.7 1304.4L1351.6 1304.0L1354.5 1303.7L1357.5 1303.4L1360.3 1303.1L1363.2 1302.9L1366.1 1302.6L1369.0 1302.4L1371.8 1302.1L1374.7 1301.9L1377.5 1301.8L1380.4 1301.6L1383.3 1301.5L1386.2 1301.4L1389.1 1301.3L1392.0 1301.3L1394.9 1301.3L1397.9 1301.3L1400.9 1301.4L1403.9 1301.5L1407.0 1301.6L1410.0 1301.7L1413.1 1301.9L1416.2 1302.0L1419.3 1302.1L1422.4 1302.1L1425.5 1302.0L1428.5 1301.9L1431.6 1301.6L1434.6 1301.3L1437.6 1300.8L1440.6 1300.2L1443.6 1299.4L1446.5 1298.6L1449.4 1297.6L1452.2 1296.5L1455.0 1295.4L1457.8 1294.1L1460.5 1292.7L1463.1 1291.2L1465.7 1289.6L1468.3 1288.0L1470.7 1286.3L1473.2 1284.4L1475.5 1282.5L1477.8 1280.6L1480.0 1278.5L1482.1 1276.4L1484.2 1274.3L1486.2 1272.1L1488.1 1269.8L1489.9 1267.5L1491.6 1265.1L1493.3 1262.7L1494.9 1260.2L1496.5 1257.7L1498.0 1255.2L1499.4 1252.6L1500.8 1250.0L1502.2 1247.3L1503.5 1244.6L1504.7 1241.9L1505.9 1239.1L1507.1 1236.4L1508.2 1233.6L1509.4 1230.8L1510.4 1228.0L1511.5 1225.1L1512.5 1222.3L1513.5 1219.4L1514.5 1216.6L1515.5 1213.7L1516.5 1210.8L1517.5 1207.9L1518.4 1205.1L1519.4 1202.2L1520.3 1199.3L1521.3 1196.5L1522.2 1193.6L1523.2 1190.7L1524.1 1187.8L1525.0 1185.0L1525.9 1182.1L1526.8 1179.2L1527.8 1176.4L1528.6 1173.5L1529.5 1170.6L1530.4 1167.8L1531.3 1164.9L1532.2 1162.0L1533.1 1159.1L1533.9 1156.3L1534.8 1153.4L1535.6 1150.5L1536.5 1147.6L1537.3 1144.8L1538.1 1141.9L1539.0 1139.0L1539.8 1136.1L1540.6 1133.2L1541.4 1130.3L1542.2 1127.5L1543.0 1124.6L1543.8 1121.7L1544.6 1118.8L1545.4 1115.9L1546.1 1113.0L1546.9 1110.1L1547.7 1107.2L1548.4 1104.3L1549.2 1101.4L1549.9 1098.5L1550.6 1095.6L1551.4 1092.7L1552.1 1089.8L1552.8 1086.9L1553.5 1084.0L1554.3 1081.1L1555.0 1078.2L1555.7 1075.3L1556.3 1072.3L1557.0 1069.4L1557.7 1066.5L1558.4 1063.6L1559.1 1060.7L1559.7 1057.7L1560.4 1054.8L1561.1 1051.9L1561.7 1049.0L1562.4 1046.0L1563.0 1043.1L1563.7 1040.2L1564.3 1037.3L1565.0 1034.3L1565.6 1031.4L1566.2 1028.5L1566.8 1025.5L1567.5 1022.6L1568.1 1019.6L1568.7 1016.7L1569.3 1013.8L1569.9 1010.8L1570.5 1007.9L1571.1 1004.9L1571.7 1002.0L1572.3 999.1L1572.9 996.1L1573.5 993.2L1574.0 990.2L1574.6 987.3L1575.2 984.3L1575.8 981.4L1576.3 978.4L1576.9 975.5L1577.5 972.5L1578.0 969.6L1578.6 966.6L1579.2 963.7L1579.7 960.7L1580.3 957.8L1580.8 954.8L1581.4 951.9L1581.9 948.9L1582.5 946.0L1583.0 943.0L1583.6 940.1L1584.1 937.1L1584.7 934.2L1585.2 931.2L1585.7 928.3L1586.3 925.3L1586.8 922.3L1587.3 919.4L1587.9 916.4L1588.4 913.5L1588.9 910.5L1589.5 907.6L1590.0 904.6L1590.5 901.6L1591.0 898.7L1591.6 895.7L1592.1 892.8L1592.6 889.8L1593.1 886.9L1593.6 883.9L1594.1 880.9L1594.7 878.0L1595.2 875.0L1595.7 872.1L1596.2 869.1L1596.7 866.1L1597.2 863.2L1597.7 860.2L1598.2 857.3L1598.7 854.3L1599.2 851.3L1599.7 848.4L1600.2 845.4L1600.7 842.5L1601.2 839.5L1601.7 836.5L1602.2 833.6L1602.7 830.6L1603.2 827.7L1603.7 824.7L1604.2 821.7L1604.7 818.8L1605.2 815.8L1605.6 812.8L1606.1 809.9L1606.6 806.9L1607.1 803.9L1607.6 801.0L1608.1 798.0L1608.5 795.1L1609.0 792.1L1609.5 789.1L1610.0 786.2L1610.4 783.2L1610.9 780.2L1611.4 777.3L1611.9 774.3L1612.3 771.3L1612.8 768.4L1613.3 765.4L1613.8 762.5L1614.2 759.5L1614.7 756.5L1615.2 753.6L1615.6 750.6L1616.1 747.6L1616.5 744.7L1617.0 741.7L1617.5 738.7L1617.9 735.8L1618.4 732.8L1618.9 729.8L1619.3 726.9L1619.8 723.9L1620.2 720.9L1620.7 718.0L1621.1 715.0L1621.6 712.0L1622.0 709.1L1622.5 706.1L1623.0 703.1L1623.4 700.2L1623.9 697.2L1624.3 694.2L1624.8 691.3L1625.2 688.3L1625.6 685.3L1626.1 682.4L1626.5 679.4L1627.0 676.4L1627.4 673.5L1627.9 670.5L1628.3 667.5L1628.8 664.6L1629.2 661.6L1629.6 658.6L1630.1 655.7L1630.5 652.7L1631.0 649.7L1631.4 646.8L1631.8 643.8L1632.3 640.8L1632.7 637.9L1633.2 634.9L1633.6 631.9L1634.0 629.0L1634.5 626.0L1634.9 623.0L1635.3 620.1L1635.8 617.1L1636.2 614.1L1636.6 611.2L1637.1 608.2L1637.5 605.2L1637.9 602.3L1638.4 599.3L1638.8 596.3L1639.2 593.4L1639.7 590.4L1640.1 587.4L1640.5 584.5L1640.9 581.5L1641.4 578.5L1641.8 575.6L1642.2 572.6L1642.7 569.6L1643.1 566.7L1643.5 563.7L1643.9 560.7L1644.4 557.8L1644.8 554.8L1645.2 551.8L1645.6 548.9L1646.1 545.9L1646.5 542.9L1646.9 540.0L1647.4 537.0L1647.8 534.1L1648.3 531.1L1648.7 528.1L1649.1 525.2L1649.6 522.2L1650.1 519.2L1650.5 516.3L1651.0 513.3L1651.4 510.4L1651.9 507.4L1652.4 504.4L1652.9 501.5L1653.4 498.5L1653.9 495.6L1654.4 492.6L1654.9 489.6L1655.4 486.7L1655.9 483.7L1656.4 480.8L1657.0 477.8L1657.5 474.9L1658.1 471.9L1658.6 469.0L1659.2 466.0L1659.8 463.1L1660.3 460.1L1660.9 457.2L1661.5 454.2L1662.2 451.3L1662.8 448.3L1663.4 445.4L1664.1 442.5L1664.7 439.5L1665.4 436.6L1666.1 433.6L1666.8 430.7L1667.5 427.8L1668.2 424.8L1668.9 421.9L1669.6 419.0L1670.4 416.0L1671.2 413.1L1671.9 410.2L1672.7 407.2L1673.6 404.3L1674.4 401.4L1675.2 398.5L1676.1 395.5L1676.9 392.6L1677.8 389.7L1678.7 386.8L1679.6 383.9L1680.6 381.0L1681.5 378.1L1682.6 375.2L1683.7 372.4L1685.1 369.7L1686.5 367.1L1688.2 364.7L1690.2 362.4L1692.4 360.3L1694.8 358.5L1697.3 357.2L1699.8 356.8L1702.0 357.2L1704.0 358.6L1705.8 360.6L1707.5 363.1L1709.1 365.8L1710.6 368.6L1712.1 371.4L1713.5 374.2L1714.8 377.0L1716.1 379.8L1717.3 382.6L1718.5 385.4L1719.6 388.3L1720.7 391.1L1721.8 394.0L1722.7 396.8L1723.7 399.7L1724.6 402.6L1725.5 405.4L1726.4 408.3L1727.2 411.2L1728.0 414.1L1728.8 417.0L1729.5 419.9L1730.2 422.8L1730.9 425.7L1731.6 428.7L1732.3 431.6L1733.0 434.5L1733.7 437.4L1734.3 440.3L1735.0 443.2L1735.7 446.2L1736.3 449.1L1737.0 452.0L1737.7 454.9L1738.3 457.8L1739.0 460.8L1739.7 463.7L1740.4 466.6L1741.0 469.5L1741.7 472.4L1742.4 475.4L1743.1 478.3L1743.8 481.2L1744.5 484.1L1745.2 487.0L1745.9 489.9L1746.6 492.9L1747.3 495.8L1748.0 498.7L1748.7 501.6L1749.4 504.5L1750.1 507.4L1750.8 510.4L1751.5 513.3L1752.2 516.2L1753.0 519.1L1753.7 522.0L1754.4 524.9L1755.1 527.8L1755.9 530.7L1756.6 533.6L1757.3 536.6L1758.1 539.5L1758.8 542.4L1759.6 545.3L1760.3 548.2L1761.0 551.1L1761.8 554.0L1762.5 556.9L1763.3 559.8L1764.1 562.7L1764.8 565.6L1765.6 568.5L1766.3 571.4L1767.1 574.3L1767.9 577.2L1768.7 580.1L1769.4 583.0L1770.2 585.9L1771.0 588.8L1771.8 591.7L1772.6 594.6L1773.3 597.5L1774.1 600.4L1774.9 603.3L1775.7 606.2L1776.5 609.1L1777.3 612.0L1778.1 614.9L1778.9 617.8L1779.7 620.7L1780.5 623.6L1781.3 626.5L1782.2 629.4L1783.0 632.2L1783.8 635.1L1784.6 638.0L1785.4 640.9L1786.3 643.8L1787.1 646.7L1787.9 649.6L1788.7 652.5L1789.5 655.3L1790.4 658.2L1791.2 661.1L1792.0 664.0L1792.8 666.9L1793.7 669.8L1794.5 672.7L1795.3 675.5L1796.1 678.4L1796.9 681.3L1797.8 684.2L1798.6 687.1L1799.4 690.0L1800.2 692.9L1801.0 695.8L1801.8 698.7L1802.6 701.5L1803.4 704.4L1804.2 707.3L1805.0 710.2L1805.8 713.1L1806.6 716.0L1807.4 718.9L1808.2 721.8L1809.0 724.7L1809.8 727.6L1810.6 730.5L1811.3 733.4L1812.1 736.3L1812.9 739.2L1813.6 742.1L1814.4 745.0L1815.1 747.9L1815.9 750.8L1816.6 753.7L1817.3 756.6L1818.0 759.5L1818.8 762.4L1819.5 765.3L1820.2 768.3L1820.9 771.2L1821.6 774.1L1822.3 777.0L1823.0 779.9L1823.7 782.8L1824.3 785.8L1825.0 788.7L1825.7 791.6L1826.3 794.5L1827.0 797.5L1827.7 800.4L1828.3 803.3L1829.0 806.3L1829.6 809.2L1830.2 812.1L1830.9 815.1L1831.5 818.0L1832.1 820.9L1832.8 823.9L1833.4 826.8L1834.0 829.7L1834.6 832.7L1835.2 835.6L1835.8 838.5L1836.4 841.5L1837.0 844.4L1837.6 847.4L1838.2 850.3L1838.8 853.3L1839.4 856.2L1840.0 859.1L1840.6 862.1L1841.2 865.0L1841.8 868.0L1842.3 870.9L1842.9 873.9L1843.5 876.8L1844.1 879.8L1844.6 882.7L1845.2 885.7L1845.8 888.6L1846.3 891.6L1846.9 894.5L1847.5 897.5L1848.0 900.4L1848.6 903.4L1849.2 906.3L1849.7 909.3L1850.3 912.2L1850.9 915.2L1851.4 918.1L1852.0 921.1L1852.5 924.0L1853.1 927.0L1853.7 929.9L1854.2 932.9L1854.8 935.8L1855.3 938.8L1855.9 941.7L1856.4 944.7L1857.0 947.6L1857.6 950.6L1858.1 953.5L1858.7 956.5L1859.3 959.4L1859.8 962.4L1860.4 965.3L1860.9 968.3L1861.5 971.2L1862.1 974.2L1862.6 977.1L1863.2 980.1L1863.7 983.0L1864.3 986.0L1864.9 988.9L1865.4 991.9L1866.0 994.8L1866.5 997.8L1867.1 1000.7L1867.6 1003.7L1868.2 1006.6L1868.8 1009.6L1869.3 1012.5L1869.9 1015.5L1870.4 1018.4L1871.0 1021.4L1871.5 1024.3L1872.1 1027.3L1872.6 1030.2L1873.2 1033.2L1873.7 1036.1L1874.3 1039.1L1874.8 1042.0L1875.3 1045.0L1875.9 1047.9L1876.4 1050.9L1877.0 1053.8L1877.5 1056.8L1878.0 1059.7L1878.6 1062.7L1879.1 1065.6L1879.6 1068.6L1880.2 1071.5L1880.7 1074.5L1881.2 1077.4L1881.7 1080.4L1882.3 1083.4L1882.8 1086.3L1883.3 1089.3L1883.8 1092.2L1884.3 1095.2L1884.8 1098.1L1885.3 1101.1L1885.8 1104.0L1886.3 1107.0L1886.8 1110.0L1887.3 1112.9L1887.8 1115.9L1888.3 1118.8L1888.8 1121.8L1889.3 1124.8L1889.8 1127.7L1890.3 1130.7L1890.8 1133.6L1891.2 1136.6L1891.7 1139.6L1892.2 1142.5L1892.7 1145.5L1893.1 1148.5L1893.6 1151.4L1894.1 1154.4L1894.5 1157.3L1895.0 1160.3L1895.4 1163.3L1895.9 1166.2L1896.3 1169.2L1896.8 1172.2L1897.2 1175.1L1897.7 1178.1L1898.1 1181.1L1898.6 1184.1L1899.0 1187.0L1899.5 1190.0L1899.9 1193.0L1900.3 1195.9L1900.8 1198.9L1901.2 1201.9L1901.6 1204.8L1902.0 1207.8L1902.5 1210.8L1902.9 1213.8L1903.3 1216.7L1903.7 1219.7L1904.2 1222.7L1904.6 1225.6L1905.0 1228.6L1905.4 1231.6L1905.8 1234.6L1906.2 1237.5L1906.6 1240.5L1907.0 1243.5L1907.4 1246.5L1907.9 1249.4L1908.3 1252.4L1908.7 1255.4L1909.1 1258.4L1909.5 1261.3L1909.9 1264.3L1910.3 1267.3L1910.7 1270.3L1911.0 1273.3L1911.4 1276.2L1911.8 1279.2L1912.2 1282.2L1912.6 1285.2L1913.0 1288.1L1913.4 1291.1L1913.8 1294.1L1914.2 1297.1L1914.6 1300.1L1914.9 1303.0L1915.3 1306.0L1915.7 1309.0L1916.1 1312.0L1916.5 1314.9L1916.9 1317.9L1917.2 1320.9L1917.6 1323.9L1918.0 1326.9L1918.4 1329.8L1918.8 1332.8L1919.2 1335.8L1919.5 1338.8L1919.9 1341.8L1920.3 1344.7L1920.7 1347.7L1921.1 1350.7L1921.5 1353.7L1921.8 1356.7L1922.2 1359.6L1922.6 1362.6L1923.0 1365.6L1923.4 1368.6L1923.8 1371.6L1924.2 1374.5L1924.6 1377.5L1925.0 1380.5L1925.4 1383.5L1925.8 1386.4L1926.2 1389.4L1926.6 1392.4L1927.0 1395.4L1927.4 1398.3L1927.8 1401.3L1928.3 1404.3L1928.7 1407.2L1929.1 1410.2L1929.5 1413.2L1930.0 1416.2L1930.4 1419.1L1930.9 1422.1L1931.3 1425.1L1931.8 1428.0L1932.2 1431.0L1932.7 1433.9L1933.1 1436.9L1933.6 1439.9L1934.1 1442.8L1934.6 1445.8L1935.1 1448.7L1935.6 1451.7L1936.1 1454.7L1936.6 1457.6L1937.1 1460.6L1937.6 1463.5L1938.1 1466.5L1938.6 1469.4L1939.2 1472.4L1939.7 1475.3L1940.2 1478.3L1940.8 1481.2L1941.4 1484.1L1941.9 1487.1L1942.5 1490.0L1943.1 1493.0L1943.7 1495.9L1944.3 1498.8L1944.9 1501.8L1945.5 1504.7L1946.1 1507.6L1946.7 1510.6L1947.3 1513.5L1948.0 1516.4L1948.6 1519.4L1949.2 1522.3L1949.9 1525.2L1950.6 1528.1L1951.2 1531.1L1951.9 1534.0L1952.6 1536.9L1953.2 1539.8L1953.9 1542.8L1954.6 1545.7L1955.3 1548.6L1956.0 1551.5L1956.7 1554.5L1957.4 1557.4L1958.1 1560.3L1958.8 1563.2L1959.5 1566.1L1960.2 1569.1L1960.9 1572.0L1961.7 1574.9L1962.4 1577.8L1963.1 1580.8L1963.9 1583.7L1964.6 1586.6L1965.3 1589.6L1966.1 1592.5L1966.8 1595.4L1967.6 1598.3L1968.4 1601.3L1969.2 1604.2L1970.0 1607.1L1970.8 1610.0L1971.6 1612.9L1972.5 1615.7L1973.4 1618.6L1974.3 1621.5L1975.2 1624.3L1976.2 1627.2L1977.2 1630.0L1978.3 1632.8L1979.3 1635.6L1980.4 1638.3L1981.6 1641.1L1982.8 1643.8L1984.0 1646.5L1985.3 1649.2L1986.6 1651.9L1988.0 1654.5L1989.5 1657.1L1991.0 1659.7L1992.5 1662.3L1994.1 1664.8L1995.8 1667.3L1997.5 1669.7L1999.3 1672.2L2001.1 1674.6L2003.0 1676.9L2005.0 1679.3L2007.0 1681.5L2009.0 1683.8L2011.1 1685.9L2013.3 1688.1L2015.4 1690.2L2017.7 1692.2L2020.0 1694.2L2022.3 1696.1L2024.6 1698.0L2027.1 1699.8L2029.5 1701.5L2032.0 1703.2L2034.5 1704.8L2037.0 1706.3L2039.6 1707.8L2042.2 1709.3L2044.8 1710.7L2047.4 1712.2L2050.0 1713.6L2052.6 1715.1L2055.3 1716.6L2057.9 1718.1L2060.5 1719.6L2063.1 1721.2L2065.7 1722.7L2068.2 1724.3L2070.8 1725.9L2073.4 1727.4L2076.0 1729.0L2078.6 1730.5L2081.3 1732.1L2083.9 1733.5L2086.5 1735.0L2089.2 1736.4L2091.8 1737.8L2094.5 1739.1L2097.2 1740.4L2099.9 1741.6L2102.6 1742.7L2105.3 1743.8L2108.1 1744.8L2110.9 1745.7L2113.7 1746.5L2116.6 1747.3L2119.4 1747.9L2122.3 1748.4L2125.2 1748.9L2128.1 1749.3L2131.1 1749.6L2134.1 1749.8L2137.0 1750.0L2140.0 1750.1L2143.1 1750.1L2146.1 1750.0L2149.1 1749.9L2152.1 1749.8L2155.2 1749.6L2158.2 1749.3L2161.3 1749.0L2164.3 1748.6L2167.4 1748.2L2170.4 1747.8L2173.5 1747.3L2176.5 1746.8L2179.5 1746.2L2182.5 1745.7L2185.6 1745.1L2188.6 1744.4L2191.5 1743.8L2194.5 1743.1L2197.5 1742.5L2200.4 1741.8L2203.3 1741.1L2206.2 1740.4L2209.1 1739.7L2212.0 1739.0L2214.9 1738.3L2217.8 1737.6L2220.7 1736.9L2223.5 1736.2L2226.4 1735.5L2229.3 1734.8L2232.1 1734.2L2235.0 1733.5L2237.9 1732.9L2240.7 1732.3L2243.6 1731.7L2246.5 1731.1L2249.4 1730.6L2252.3 1730.1L2255.2 1729.6L2258.2 1729.2L2261.1 1728.7L2264.1 1728.4L2267.0 1728.0L2270.0 1727.7L2273.1 1727.5L2276.1 1727.3L2279.2 1727.1L2282.3 1727.0L2285.4 1726.9L2288.5 1726.9L2291.6 1727.0L2294.7 1727.3L2297.7 1727.7L2300.6 1728.4L2303.4 1729.3L2306.0 1730.5L2308.4 1731.9L2310.8 1733.5L2313.2 1735.3L2315.5 1737.0L2318.0 1738.7L2320.5 1740.3L2323.1 1741.8L2325.8 1743.2L2328.6 1744.3L2331.5 1745.3L2334.4 1746.0L2337.4 1746.5L2340.4 1746.8L2343.4 1746.8L2346.5 1746.7L2349.5 1746.6L2352.6 1746.4L2355.6 1746.3L2358.6 1746.3L2361.5 1746.5" stroke="#00ffff" stroke-dasharray="11.4 19.5"/>
<path d="M177.5 1757.1L180.5 1757.0L183.5 1757.0L186.5 1756.9L189.5 1756.9L192.5 1756.8L195.5 1756.8L198.5 1756.9L201.5 1756.9L204.5 1757.0L207.5 1757.0L210.5 1757.1L213.5 1757.2L216.5 1757.3L219.5 1757.5L222.5 1757.6L225.5 1757.8L228.5 1758.0L231.5 1758.1L234.5 1758.3L237.5 1758.5L240.5 1758.8L243.5 1759.0L246.5 1759.2L249.5 1759.5L252.5 1759.8L255.5 1760.0L258.5 1760.3L261.5 1760.6L264.5 1760.9L267.5 1761.2L270.5 1761.5L273.5 1761.8L276.5 1762.0L279.5 1762.3L282.5 1762.5L285.5 1762.7L288.5 1762.9L291.5 1763.1L294.5 1763.2L297.5 1763.2L300.4 1763.3L303.4 1763.2L306.4 1763.2L309.3 1763.0L312.3 1762.8L315.2 1762.5L318.1 1762.2L321.0 1761.8L323.9 1761.3L326.8 1760.7L329.7 1760.0L332.6 1759.2L335.4 1758.3L338.3 1757.4L341.1 1756.3L343.9 1755.1L346.7 1753.8L349.5 1752.4L352.2 1751.0L354.9 1749.5L357.6 1747.9L360.3 1746.4L362.9 1744.7L365.5 1743.1L368.1 1741.4L370.6 1739.8L373.1 1738.1L375.6 1736.4L378.1 1734.7L380.5 1733.0L382.9 1731.3L385.3 1729.5L387.7 1727.8L390.1 1726.1L392.5 1724.4L394.9 1722.6L397.3 1720.9L399.7 1719.2L402.1 1717.4L404.5 1715.7L406.9 1714.0L409.4 1712.3L411.8 1710.6L414.3 1708.9L416.8 1707.2L419.3 1705.5L421.9 1703.8L424.4 1702.1L426.9 1700.4L429.4 1698.7L431.9 1696.9L434.4 1695.1L436.8 1693.3L439.2 1691.5L441.6 1689.7L443.9 1687.8L446.2 1685.9L448.5 1683.9L450.8 1681.9L453.0 1679.9L455.2 1677.9L457.4 1675.9L459.5 1673.8L461.6 1671.7L463.7 1669.5L465.7 1667.4L467.7 1665.2L469.7 1663.0L471.7 1660.8L473.7 1658.5L475.6 1656.2L477.4 1653.9L479.3 1651.6L481.1 1649.3L482.9 1646.9L484.7 1644.5L486.5 1642.1L488.2 1639.6L489.9 1637.2L491.6 1634.7L493.3 1632.2L494.9 1629.7L496.5 1627.1L498.1 1624.6L499.7 1622.0L501.2 1619.4L502.7 1616.8L504.2 1614.2L505.7 1611.5L507.2 1608.9L508.6 1606.2L510.1 1603.6L511.5 1600.9L512.9 1598.2L514.2 1595.5L515.6 1592.8L517.0 1590.1L518.3 1587.4L519.6 1584.7L520.9 1582.0L522.2 1579.2L523.5 1576.5L524.7 1573.8L526.0 1571.1L527.2 1568.4L528.5 1565.6L529.7 1562.9L530.9 1560.2L532.1 1557.5L533.3 1554.8L534.5 1552.1L535.6 1549.4L536.8 1546.6L537.9 1543.9L539.1 1541.2L540.2 1538.4L541.3 1535.7L542.4 1532.9L543.5 1530.2L544.6 1527.4L545.7 1524.6L546.7 1521.8L547.8 1519.0L548.8 1516.2L549.8 1513.4L550.8 1510.5L551.8 1507.7L552.8 1504.8L553.8 1502.0L554.8 1499.1L555.7 1496.2L556.6 1493.4L557.6 1490.5L558.5 1487.6L559.4 1484.7L560.2 1481.8L561.1 1479.0L561.9 1476.1L562.8 1473.2L563.6 1470.3L564.4 1467.4L565.2 1464.5L566.0 1461.6L566.8 1458.7L567.5 1455.8L568.3 1452.9L569.0 1449.9L569.8 1447.0L570.5 1444.1L571.2 1441.2L571.9 1438.3L572.6 1435.4L573.2 1432.4L573.9 1429.5L574.5 1426.6L575.2 1423.7L575.8 1420.7L576.4 1417.8L577.0 1414.9L577.6 1411.9L578.2 1409.0L578.8 1406.1L579.3 1403.1L579.9 1400.2L580.5 1397.2L581.0 1394.3L581.5 1391.3L582.0 1388.4L582.6 1385.4L583.1 1382.5L583.6 1379.5L584.1 1376.6L584.5 1373.6L585.0 1370.7L585.5 1367.7L585.9 1364.8L586.4 1361.8L586.8 1358.8L587.3 1355.9L587.7 1352.9L588.1 1349.9L588.5 1347.0L588.9 1344.0L589.4 1341.0L589.7 1338.1L590.1 1335.1L590.5 1332.1L590.9 1329.2L591.3 1326.2L591.7 1323.2L592.0 1320.2L592.4 1317.3L592.7 1314.3L593.1 1311.3L593.4 1308.3L593.8 1305.4L594.1 1302.4L594.4 1299.4L594.8 1296.4L595.1 1293.4L595.4 1290.4L595.7 1287.5L596.1 1284.5L596.4 1281.5L596.7 1278.5L597.0 1275.5L597.3 1272.5L597.6 1269.6L597.9 1266.6L598.2 1263.6L598.5 1260.6L598.8 1257.6L599.1 1254.6L599.3 1251.6L599.6 1248.6L599.9 1245.7L600.2 1242.7L600.5 1239.7L600.8 1236.7L601.1 1233.7L601.3 1230.7L601.6 1227.7L601.9 1224.7L602.2 1221.7L602.5 1218.8L602.7 1215.8L603.0 1212.8L603.3 1209.8L603.6 1206.8L603.8 1203.8L604.1 1200.8L604.4 1197.8L604.6 1194.8L604.9 1191.8L605.2 1188.9L605.4 1185.9L605.7 1182.9L606.0 1179.9L606.2 1176.9L606.5 1173.9L606.8 1170.9L607.0 1167.9L607.3 1164.9L607.5 1161.9L607.8 1158.9L608.1 1155.9L608.3 1153.0L608.6 1150.0L608.8 1147.0L609.1 1144.0L609.4 1141.0L609.6 1138.0L609.9 1135.0L610.1 1132.0L610.4 1129.0L610.6 1126.0L610.9 1123.0L611.1 1120.0L611.4 1117.0L611.6 1114.0L611.9 1111.1L612.1 1108.1L612.4 1105.1L612.6 1102.1L612.9 1099.1L613.1 1096.1L613.3 1093.1L613.6 1090.1L613.8 1087.1L614.1 1084.1L614.3 1081.1L614.6 1078.1L614.8 1075.1L615.1 1072.1L615.3 1069.1L615.5 1066.1L615.8 1063.2L616.0 1060.2L616.3 1057.2L616.5 1054.2L616.7 1051.2L617.0 1048.2L617.2 1045.2L617.4 1042.2L617.7 1039.2L617.9 1036.2L618.2 1033.2L618.4 1030.2L618.6 1027.2L618.9 1024.2L619.1 1021.2L619.3 1018.2L619.6 1015.2L619.8 1012.2L620.0 1009.2L620.3 1006.3L620.5 1003.3L620.7 1000.3L621.0 997.3L621.2 994.3L621.4 991.3L621.7 988.3L621.9 985.3L622.1 982.3L622.4 979.3L622.6 976.3L622.8 973.3L623.1 970.3L623.3 967.3L623.5 964.3L623.8 961.3L624.0 958.3L624.2 955.3L624.5 952.3L624.7 949.3L624.9 946.4L625.2 943.4L625.4 940.4L625.6 937.4L625.8 934.4L626.1 931.4L626.3 928.4L626.5 925.4L626.8 922.4L627.0 919.4L627.2 916.4L627.5 913.4L627.7 910.4L627.9 907.4L628.2 904.4L628.4 901.4L628.6 898.4L628.9 895.4L629.1 892.4L629.3 889.5L629.6 886.5L629.8 883.5L630.0 880.5L630.3 877.5L630.5 874.5L630.7 871.5L631.0 868.5L631.2 865.5L631.4 862.5L631.7 859.5L631.9 856.5L632.1 853.5L632.4 850.5L632.6 847.5L632.9 844.5L633.1 841.6L633.3 838.6L633.6 835.6L633.8 832.6L634.0 829.6L634.3 826.6L634.5 823.6L634.8 820.6L635.0 817.6L635.2 814.6L635.5 811.6L635.7 808.6L636.0 805.6L636.2 802.6L636.5 799.7L636.7 796.7L636.9 793.7L637.2 790.7L637.4 787.7L637.7 784.7L637.9 781.7L638.2 778.7L638.4 775.7L638.7 772.7L638.9 769.7L639.2 766.7L639.4 763.8L639.7 760.8L639.9 757.8L640.2 754.8L640.4 751.8L640.7 748.8L640.9 745.8L641.2 742.8L641.4 739.8L641.7 736.8L641.9 733.9L642.2 730.9L642.5 727.9L642.7 724.9L643.0 721.9L643.2 718.9L643.5 715.9L643.8 712.9L644.0 709.9L644.3 707.0L644.6 704.0L644.8 701.0L645.1 698.0L645.4 695.0L645.6 692.0L645.9 689.0L646.2 686.0L646.4 683.1L646.7 680.1L647.0 677.1L647.2 674.1L647.5 671.1L647.8 668.1L648.1 665.1L648.3 662.1L648.6 659.2L648.9 656.2L649.2 653.2L649.5 650.2L649.7 647.2L650.0 644.2L650.3 641.3L650.6 638.3L650.9 635.3L651.2 632.3L651.5 629.3L651.8 626.3L652.0 623.4L652.3 620.4L652.6 617.4L652.9 614.4L653.2 611.4L653.5 608.4L653.8 605.5L654.1 602.5L654.4 599.5L654.7 596.5L655.0 593.5L655.3 590.5L655.6 587.6L655.9 584.6L656.2 581.6L656.5 578.6L656.9 575.6L657.2 572.7L657.5 569.7L657.8 566.7L658.1 563.7L658.4 560.7L658.7 557.8L659.1 554.8L659.4 551.8L659.7 548.8L660.0 545.9L660.4 542.9L660.7 539.9L661.0 536.9L661.3 534.0L661.7 531.0L662.0 528.0L662.3 525.0L662.7 522.0L663.0 519.1L663.3 516.1L663.7 513.1L664.0 510.1L664.4 507.2L664.7 504.2L665.1 501.2L665.4 498.3L665.8 495.3L666.1 492.3L666.5 489.3L666.8 486.4L667.2 483.4L667.5 480.4L667.9 477.4L668.2 474.5L668.6 471.5L669.0 468.5L669.3 465.6L669.7 462.6L670.1 459.6L670.4 456.7L670.8 453.7L671.2 450.7L671.6 447.7L671.9 444.8L672.3 441.8L672.7 438.8L673.1 435.9L673.5 432.9L673.9 429.9L674.3 427.0L674.7 424.0L675.1 421.0L675.5 418.1L676.0 415.1L676.4 412.1L676.9 409.2L677.3 406.2L677.8 403.2L678.3 400.3L678.9 397.3L679.4 394.3L680.0 391.4L680.5 388.4L681.1 385.4L681.8 382.5L682.4 379.5L683.1 376.5L683.8 373.6L684.5 370.6L685.3 367.6L686.0 364.7L686.8 361.7L687.7 358.7L688.5 355.8L689.4 352.8L690.4 349.8L691.3 346.9L692.3 343.9L693.4 340.9L694.4 337.9L695.6 335.0L696.7 332.0L697.9 329.1L699.2 326.2L700.6 323.6L702.1 321.1L703.7 318.9L705.5 316.9L707.5 315.4L709.6 314.3L712.0 313.6L714.6 313.4L717.4 313.8L720.2 314.6L722.9 315.8L725.4 317.3L727.8 319.1L729.9 321.2L731.9 323.5L733.8 326.0L735.5 328.6L737.2 331.3L738.8 334.1L740.3 337.0L741.7 339.9L743.2 342.7L744.6 345.4L746.0 348.0L747.4 350.5L748.9 352.9L750.4 355.2L751.9 357.5L753.5 359.7L755.1 362.0L756.8 364.4L758.5 366.8L760.3 369.3L762.1 372.0L764.0 374.7L765.9 377.5L767.9 380.2L770.0 382.9L772.1 385.4L774.2 387.8L776.5 390.0L778.7 392.0L781.1 393.7L783.5 395.0L785.9 396.0L788.4 396.5L790.9 396.6L793.5 396.2L796.1 395.5L798.7 394.4L801.2 392.9L803.6 391.2L806.0 389.2L808.3 386.9L810.4 384.5L812.4 382.0L814.2 379.3L815.7 376.6L817.1 373.8L818.4 371.1L819.7 368.3L820.9 365.6L822.3 363.0L823.7 360.5L825.3 358.2L827.2 356.0L829.3 354.0L831.8 352.1L834.7 350.4L837.9 348.8L841.2 347.9L844.0 348.0L846.3 349.3L848.2 351.5L849.9 354.0L851.5 356.6L853.1 359.2L854.6 361.9L856.0 364.5L857.4 367.2L858.8 369.9L860.1 372.6L861.3 375.3L862.6 378.0L863.8 380.8L864.9 383.5L866.1 386.3L867.2 389.1L868.3 391.9L869.3 394.7L870.4 397.5L871.4 400.3L872.4 403.1L873.4 405.9L874.3 408.8L875.3 411.6L876.3 414.5L877.2 417.3L878.2 420.2L879.1 423.0L880.1 425.9L881.0 428.7L882.0 431.6L882.9 434.4L883.9 437.3L884.8 440.1L885.8 443.0L886.7 445.8L887.6 448.7L888.6 451.5L889.5 454.4L890.4 457.3L891.4 460.1L892.3 463.0L893.2 465.9L894.1 468.7L895.0 471.6L895.9 474.5L896.8 477.4L897.7 480.2L898.6 483.1L899.4 486.0L900.3 488.9L901.1 491.7L902.0 494.6L902.8 497.5L903.6 500.4L904.4 503.3L905.2 506.2L906.0 509.1L906.8 512.0L907.5 514.9L908.3 517.8L909.0 520.7L909.8 523.6L910.5 526.5L911.2 529.4L911.9 532.3L912.6 535.2L913.3 538.1L914.0 541.1L914.7 544.0L915.3 546.9L916.0 549.8L916.6 552.7L917.3 555.7L917.9 558.6L918.5 561.5L919.1 564.4L919.8 567.4L920.4 570.3L921.0 573.2L921.6 576.2L922.1 579.1L922.7 582.1L923.3 585.0L923.9 587.9L924.4 590.9L925.0 593.8L925.5 596.8L926.1 599.7L926.6 602.7L927.2 605.6L927.7 608.6L928.2 611.5L928.7 614.5L929.3 617.4L929.8 620.4L930.3 623.4L930.8 626.3L931.3 629.3L931.8 632.2L932.3 635.2L932.8 638.2L933.3 641.1L933.8 644.1L934.3 647.1L934.8 650.0L935.3 653.0L935.7 656.0L936.2 658.9L936.7 661.9L937.2 664.9L937.7 667.8L938.2 670.8L938.6 673.8L939.1 676.8L939.6 679.7L940.1 682.7L940.6 685.7L941.0 688.7L941.5 691.6L942.0 694.6L942.5 697.6L943.0 700.6L943.5 703.5L944.0 706.5L944.5 709.5L945.1 712.4L945.6 715.4L946.2 718.4L946.8 721.3L947.4 724.3L948.0 727.2L948.6 730.1L949.3 733.0L950.0 735.9L950.7 738.8L951.5 741.7L952.3 744.6L953.1 747.4L954.0 750.3L954.8 753.1L955.8 756.0L956.8 758.8L957.8 761.6L958.8 764.3L959.9 767.1L961.1 769.8L962.3 772.5L963.6 775.2L964.9 777.9L966.2 780.6L967.6 783.2L969.1 785.9L970.6 788.5L972.2 791.1L973.7 793.6L975.3 796.2L976.9 798.8L978.6 801.4L980.2 803.9L981.8 806.5L983.4 809.1L985.1 811.6L986.7 814.2L988.2 816.8L989.8 819.4L991.3 822.0L992.8 824.7L994.2 827.3L995.6 830.0L996.9 832.7L998.2 835.4L999.5 838.1L1000.7 840.8L1002.0 843.6L1003.2 846.3L1004.5 849.0L1005.7 851.7L1007.0 854.4L1008.3 857.1L1009.6 859.7L1011.0 862.3L1012.4 864.9L1013.9 867.5L1015.5 870.0L1017.1 872.5L1018.8 874.9L1020.6 877.3L1022.5 879.7L1024.5 882.0L1026.5 884.3L1028.5 886.5L1030.5 888.8L1032.6 891.1L1034.6 893.3L1036.6 895.6L1038.5 898.0L1040.4 900.3L1042.3 902.7L1044.1 905.1L1045.9 907.5L1047.6 910.0L1049.3 912.5L1050.9 915.0L1052.5 917.5L1054.1 920.0L1055.7 922.6L1057.2 925.2L1058.7 927.8L1060.1 930.4L1061.5 933.0L1062.9 935.6L1064.3 938.3L1065.7 940.9L1067.0 943.6L1068.3 946.3L1069.6 949.0L1070.9 951.7L1072.2 954.4L1073.4 957.2L1074.7 959.9L1075.9 962.6L1077.1 965.4L1078.3 968.1L1079.5 970.9L1080.7 973.6L1081.9 976.4L1083.1 979.1L1084.3 981.9L1085.5 984.6L1086.6 987.4L1087.8 990.2L1089.0 992.9L1090.1 995.7L1091.3 998.5L1092.4 1001.3L1093.6 1004.0L1094.7 1006.8L1095.8 1009.6L1097.0 1012.4L1098.1 1015.2L1099.2 1017.9L1100.3 1020.7L1101.4 1023.5L1102.5 1026.3L1103.6 1029.1L1104.7 1031.9L1105.8 1034.7L1106.9 1037.5L1108.0 1040.3L1109.1 1043.1L1110.2 1045.9L1111.3 1048.7L1112.3 1051.5L1113.4 1054.3L1114.5 1057.1L1115.6 1059.9L1116.6 1062.7L1117.7 1065.6L1118.7 1068.4L1119.8 1071.2L1120.9 1074.0L1121.9 1076.8L1123.0 1079.6L1124.0 1082.4L1125.0 1085.3L1126.1 1088.1L1127.1 1090.9L1128.2 1093.7L1129.2 1096.5L1130.2 1099.3L1131.3 1102.2L1132.3 1105.0L1133.3 1107.8L1134.4 1110.6L1135.4 1113.5L1136.4 1116.3L1137.4 1119.1L1138.5 1121.9L1139.5 1124.7L1140.5 1127.6L1141.5 1130.4L1142.5 1133.2L1143.6 1136.0L1144.6 1138.8L1145.6 1141.7L1146.6 1144.5L1147.6 1147.3L1148.7 1150.1L1149.7 1153.0L1150.7 1155.8L1151.7 1158.6L1152.7 1161.4L1153.7 1164.2L1154.8 1167.0L1155.8 1169.9L1156.8 1172.7L1157.8 1175.5L1158.8 1178.3L1159.9 1181.1L1160.9 1183.9L1161.9 1186.7L1162.9 1189.6L1164.0 1192.4L1165.0 1195.2L1166.0 1198.0L1167.1 1200.8L1168.1 1203.6L1169.2 1206.4L1170.2 1209.2L1171.3 1212.0L1172.3 1214.8L1173.4 1217.6L1174.5 1220.4L1175.6 1223.1L1176.7 1225.9L1177.8 1228.7L1178.9 1231.5L1180.1 1234.2L1181.2 1237.0L1182.4 1239.8L1183.5 1242.5L1184.7 1245.3L1185.9 1248.0L1187.1 1250.7L1188.4 1253.5L1189.6 1256.2L1190.9 1258.9L1192.2 1261.7L1193.5 1264.4L1194.8 1267.1L1196.2 1269.8L1197.5 1272.5L1198.9 1275.1L1200.3 1277.8L1201.8 1280.5L1203.2 1283.2L1204.7 1285.8L1206.2 1288.5L1207.7 1291.1L1209.3 1293.7L1210.9 1296.3L1212.5 1298.9L1214.1 1301.5L1215.8 1304.1L1217.5 1306.6L1219.2 1309.1L1221.0 1311.6L1222.8 1314.1L1224.6 1316.5L1226.5 1318.8L1228.4 1321.2L1230.4 1323.5L1232.3 1325.7L1234.4 1327.9L1236.4 1330.0L1238.5 1332.1L1240.7 1334.2L1242.9 1336.1L1245.1 1338.0L1247.4 1339.8L1249.7 1341.6L1252.1 1343.3L1254.6 1344.9L1257.0 1346.5L1259.6 1347.9L1262.1 1349.3L1264.8 1350.6L1267.5 1351.8L1270.2 1352.9L1273.0 1353.9L1275.8 1354.8L1278.7 1355.7L1281.6 1356.4L1284.5 1357.1L1287.5 1357.8L1290.5 1358.4L1293.6 1358.9L1296.6 1359.3L1299.7 1359.7L1302.8 1360.0L1305.8 1360.3L1308.9 1360.6L1312.0 1360.8L1315.1 1360.9L1318.2 1361.1L1321.3 1361.2L1324.4 1361.2L1327.4 1361.3L1330.5 1361.3L1333.5 1361.3L1336.5 1361.3L1339.5 1361.3L1342.5 1361.3L1345.4 1361.4L1348.4 1361.4L1351.3 1361.4L1354.3 1361.5L1357.2 1361.7L1360.1 1361.8L1363.0 1362.0L1366.0 1362.3L1368.9 1362.6L1371.8 1363.0L1374.8 1363.5L1377.7 1364.0L1380.6 1364.6L1383.6 1365.2L1386.5 1365.8L1389.5 1366.5L1392.4 1367.1L1395.4 1367.8L1398.4 1368.4L1401.3 1369.1L1404.3 1369.7L1407.2 1370.2L1410.2 1370.7L1413.2 1371.2L1416.1 1371.5L1419.1 1371.8L1422.1 1372.0L1425.0 1372.1L1428.0 1372.1L1430.9 1372.0L1433.9 1371.7L1436.8 1371.4L1439.8 1370.8L1442.7 1370.2L1445.6 1369.4L1448.5 1368.5L1451.4 1367.4L1454.2 1366.3L1457.0 1365.1L1459.8 1363.7L1462.5 1362.2L1465.1 1360.7L1467.7 1359.0L1470.3 1357.3L1472.8 1355.5L1475.2 1353.6L1477.5 1351.6L1479.7 1349.5L1481.9 1347.4L1484.0 1345.2L1486.0 1342.9L1487.9 1340.6L1489.7 1338.3L1491.4 1335.9L1493.1 1333.4L1494.7 1330.9L1496.2 1328.4L1497.7 1325.8L1499.2 1323.3L1500.6 1320.7L1502.0 1318.1L1503.4 1315.4L1504.7 1312.8L1506.0 1310.1L1507.3 1307.4L1508.6 1304.7L1509.8 1302.0L1511.0 1299.3L1512.1 1296.5L1513.3 1293.8L1514.4 1291.0L1515.5 1288.2L1516.5 1285.4L1517.6 1282.6L1518.6 1279.8L1519.6 1276.9L1520.6 1274.1L1521.6 1271.3L1522.6 1268.4L1523.5 1265.5L1524.4 1262.7L1525.4 1259.8L1526.3 1256.9L1527.2 1254.1L1528.1 1251.2L1529.0 1248.3L1529.9 1245.4L1530.7 1242.5L1531.6 1239.6L1532.5 1236.7L1533.4 1233.9L1534.2 1231.0L1535.1 1228.1L1536.0 1225.2L1536.8 1222.3L1537.7 1219.4L1538.5 1216.5L1539.4 1213.6L1540.2 1210.8L1541.0 1207.9L1541.9 1205.0L1542.7 1202.1L1543.5 1199.2L1544.3 1196.3L1545.2 1193.4L1546.0 1190.5L1546.8 1187.6L1547.6 1184.7L1548.4 1181.9L1549.2 1179.0L1550.0 1176.1L1550.8 1173.2L1551.5 1170.3L1552.3 1167.4L1553.1 1164.5L1553.9 1161.6L1554.6 1158.7L1555.4 1155.8L1556.1 1152.9L1556.9 1150.0L1557.6 1147.1L1558.4 1144.2L1559.1 1141.3L1559.8 1138.4L1560.5 1135.4L1561.2 1132.5L1562.0 1129.6L1562.7 1126.7L1563.4 1123.8L1564.0 1120.9L1564.7 1118.0L1565.4 1115.1L1566.1 1112.1L1566.8 1109.2L1567.4 1106.3L1568.1 1103.4L1568.7 1100.5L1569.4 1097.5L1570.0 1094.6L1570.6 1091.7L1571.3 1088.8L1571.9 1085.8L1572.5 1082.9L1573.1 1080.0L1573.7 1077.0L1574.3 1074.1L1574.9 1071.1L1575.5 1068.2L1576.0 1065.3L1576.6 1062.3L1577.2 1059.4L1577.7 1056.4L1578.3 1053.5L1578.8 1050.5L1579.3 1047.6L1579.9 1044.6L1580.4 1041.6L1580.9 1038.7L1581.4 1035.7L1581.9 1032.8L1582.5 1029.8L1583.0 1026.8L1583.5 1023.9L1584.0 1020.9L1584.4 1017.9L1584.9 1015.0L1585.4 1012.0L1585.9 1009.0L1586.4 1006.1L1586.9 1003.1L1587.4 1000.1L1587.8 997.2L1588.3 994.2L1588.8 991.2L1589.3 988.3L1589.8 985.3L1590.3 982.3L1590.7 979.4L1591.2 976.4L1591.7 973.4L1592.2 970.5L1592.7 967.5L1593.2 964.5L1593.6 961.6L1594.1 958.6L1594.6 955.7L1595.1 952.7L1595.6 949.7L1596.1 946.8L1596.6 943.8L1597.1 940.9L1597.6 937.9L1598.1 935.0L1598.6 932.0L1599.1 929.0L1599.6 926.1L1600.1 923.1L1600.7 920.2L1601.2 917.2L1601.7 914.3L1602.2 911.3L1602.7 908.4L1603.2 905.4L1603.7 902.4L1604.2 899.5L1604.7 896.5L1605.2 893.6L1605.7 890.6L1606.1 887.7L1606.6 884.7L1607.1 881.8L1607.6 878.8L1608.1 875.8L1608.6 872.9L1609.1 869.9L1609.6 867.0L1610.0 864.0L1610.5 861.0L1611.0 858.1L1611.4 855.1L1611.9 852.2L1612.4 849.2L1612.8 846.2L1613.3 843.3L1613.7 840.3L1614.2 837.3L1614.6 834.4L1615.1 831.4L1615.5 828.4L1616.0 825.5L1616.4 822.5L1616.9 819.5L1617.3 816.6L1617.7 813.6L1618.2 810.6L1618.6 807.7L1619.0 804.7L1619.5 801.7L1619.9 798.8L1620.3 795.8L1620.8 792.8L1621.2 789.8L1621.6 786.9L1622.0 783.9L1622.4 780.9L1622.9 778.0L1623.3 775.0L1623.7 772.0L1624.1 769.0L1624.5 766.1L1624.9 763.1L1625.4 760.1L1625.8 757.1L1626.2 754.2L1626.6 751.2L1627.0 748.2L1627.4 745.2L1627.8 742.3L1628.2 739.3L1628.6 736.3L1629.0 733.3L1629.4 730.4L1629.8 727.4L1630.2 724.4L1630.6 721.4L1631.1 718.5L1631.5 715.5L1631.9 712.5L1632.3 709.5L1632.7 706.6L1633.1 703.6L1633.5 700.6L1633.9 697.6L1634.3 694.7L1634.7 691.7L1635.1 688.7L1635.5 685.7L1635.9 682.8L1636.3 679.8L1636.7 676.8L1637.1 673.8L1637.5 670.9L1638.0 667.9L1638.4 664.9L1638.8 661.9L1639.2 659.0L1639.6 656.0L1640.0 653.0L1640.4 650.0L1640.8 647.1L1641.3 644.1L1641.7 641.1L1642.1 638.2L1642.5 635.2L1642.9 632.2L1643.4 629.2L1643.8 626.3L1644.2 623.3L1644.6 620.3L1645.1 617.4L1645.5 614.4L1645.9 611.4L1646.4 608.4L1646.8 605.5L1647.2 602.5L1647.7 599.5L1648.1 596.6L1648.6 593.6L1649.0 590.6L1649.5 587.7L1649.9 584.7L1650.4 581.7L1650.8 578.8L1651.3 575.8L1651.7 572.8L1652.2 569.9L1652.6 566.9L1653.1 564.0L1653.6 561.0L1654.0 558.0L1654.5 555.1L1654.9 552.1L1655.4 549.1L1655.9 546.2L1656.3 543.2L1656.8 540.2L1657.2 537.3L1657.7 534.3L1658.2 531.3L1658.6 528.4L1659.1 525.4L1659.5 522.4L1660.0 519.5L1660.5 516.5L1660.9 513.5L1661.4 510.6L1661.8 507.6L1662.3 504.6L1662.7 501.7L1663.2 498.7L1663.6 495.7L1664.1 492.7L1664.5 489.8L1665.0 486.8L1665.4 483.8L1665.9 480.8L1666.3 477.9L1666.8 474.9L1667.2 471.9L1667.7 469.0L1668.2 466.0L1668.7 463.0L1669.1 460.1L1669.6 457.1L1670.1 454.2L1670.7 451.2L1671.2 448.3L1671.7 445.3L1672.3 442.4L1672.8 439.4L1673.4 436.5L1674.0 433.6L1674.6 430.6L1675.3 427.7L1675.9 424.8L1676.6 421.9L1677.2 419.0L1677.9 416.1L1678.7 413.2L1679.4 410.3L1680.2 407.4L1681.0 404.5L1681.8 401.7L1682.8 398.8L1683.8 396.0L1685.1 393.2L1686.6 390.5L1688.3 387.8L1690.4 385.1L1692.7 382.6L1695.1 380.5L1697.6 379.2L1699.9 378.9L1702.1 379.7L1704.1 381.3L1706.0 383.6L1707.7 386.2L1709.4 389.0L1711.0 391.8L1712.4 394.6L1713.9 397.4L1715.2 400.2L1716.5 403.0L1717.7 405.9L1718.8 408.7L1719.9 411.6L1720.9 414.4L1721.9 417.3L1722.8 420.2L1723.7 423.1L1724.5 426.0L1725.3 428.9L1726.1 431.8L1726.8 434.7L1727.5 437.6L1728.2 440.5L1728.8 443.4L1729.5 446.4L1730.1 449.3L1730.7 452.2L1731.3 455.1L1731.9 458.1L1732.5 461.0L1733.1 463.9L1733.7 466.8L1734.3 469.8L1735.0 472.7L1735.6 475.6L1736.2 478.5L1736.9 481.5L1737.5 484.4L1738.2 487.3L1738.9 490.2L1739.6 493.1L1740.2 496.0L1740.9 498.9L1741.6 501.9L1742.3 504.8L1743.0 507.7L1743.8 510.6L1744.5 513.5L1745.2 516.4L1745.9 519.3L1746.7 522.2L1747.4 525.1L1748.2 528.0L1748.9 530.9L1749.7 533.8L1750.4 536.7L1751.2 539.6L1752.0 542.5L1752.7 545.4L1753.5 548.3L1754.3 551.2L1755.1 554.1L1755.9 557.0L1756.7 559.9L1757.5 562.8L1758.3 565.7L1759.1 568.6L1759.9 571.5L1760.7 574.4L1761.5 577.3L1762.3 580.2L1763.1 583.1L1763.9 586.0L1764.7 588.9L1765.5 591.8L1766.3 594.7L1767.2 597.6L1768.0 600.5L1768.8 603.3L1769.6 606.2L1770.4 609.1L1771.3 612.0L1772.1 614.9L1772.9 617.8L1773.7 620.7L1774.5 623.6L1775.3 626.5L1776.2 629.4L1777.0 632.3L1777.8 635.2L1778.6 638.1L1779.4 640.9L1780.2 643.8L1781.0 646.7L1781.8 649.6L1782.6 652.5L1783.4 655.4L1784.2 658.3L1785.0 661.2L1785.8 664.1L1786.6 667.0L1787.4 669.9L1788.2 672.8L1789.0 675.7L1789.8 678.6L1790.6 681.5L1791.4 684.4L1792.2 687.3L1792.9 690.1L1793.7 693.0L1794.5 695.9L1795.3 698.8L1796.0 701.7L1796.8 704.6L1797.6 707.5L1798.3 710.4L1799.1 713.3L1799.9 716.2L1800.6 719.1L1801.4 722.1L1802.1 725.0L1802.8 727.9L1803.6 730.8L1804.3 733.7L1805.1 736.6L1805.8 739.5L1806.5 742.4L1807.2 745.3L1807.9 748.2L1808.7 751.1L1809.4 754.0L1810.1 757.0L1810.8 759.9L1811.5 762.8L1812.2 765.7L1812.9 768.6L1813.6 771.5L1814.2 774.5L1814.9 777.4L1815.6 780.3L1816.3 783.2L1816.9 786.2L1817.6 789.1L1818.2 792.0L1818.9 794.9L1819.5 797.9L1820.2 800.8L1820.8 803.7L1821.4 806.7L1822.1 809.6L1822.7 812.5L1823.3 815.5L1823.9 818.4L1824.6 821.3L1825.2 824.3L1825.8 827.2L1826.4 830.1L1827.0 833.1L1827.6 836.0L1828.2 839.0L1828.8 841.9L1829.4 844.8L1830.0 847.8L1830.5 850.7L1831.1 853.7L1831.7 856.6L1832.3 859.6L1832.9 862.5L1833.4 865.5L1834.0 868.4L1834.6 871.4L1835.1 874.3L1835.7 877.3L1836.3 880.2L1836.8 883.2L1837.4 886.1L1838.0 889.1L1838.5 892.0L1839.1 895.0L1839.6 897.9L1840.2 900.9L1840.7 903.8L1841.3 906.8L1841.9 909.7L1842.4 912.7L1843.0 915.6L1843.5 918.6L1844.1 921.5L1844.6 924.5L1845.2 927.4L1845.7 930.4L1846.3 933.3L1846.8 936.3L1847.4 939.2L1847.9 942.2L1848.5 945.1L1849.0 948.1L1849.6 951.0L1850.1 954.0L1850.7 956.9L1851.3 959.9L1851.8 962.8L1852.4 965.8L1852.9 968.7L1853.5 971.7L1854.1 974.6L1854.6 977.6L1855.2 980.5L1855.8 983.5L1856.3 986.4L1856.9 989.4L1857.5 992.3L1858.0 995.3L1858.6 998.2L1859.2 1001.2L1859.7 1004.1L1860.3 1007.1L1860.9 1010.0L1861.5 1013.0L1862.0 1015.9L1862.6 1018.8L1863.2 1021.8L1863.8 1024.7L1864.3 1027.7L1864.9 1030.6L1865.5 1033.6L1866.1 1036.5L1866.7 1039.5L1867.2 1042.4L1867.8 1045.4L1868.4 1048.3L1869.0 1051.2L1869.5 1054.2L1870.1 1057.1L1870.7 1060.1L1871.2 1063.0L1871.8 1066.0L1872.4 1068.9L1872.9 1071.9L1873.5 1074.8L1874.1 1077.8L1874.6 1080.7L1875.2 1083.6L1875.8 1086.6L1876.3 1089.5L1876.9 1092.5L1877.4 1095.4L1878.0 1098.4L1878.5 1101.3L1879.1 1104.3L1879.6 1107.2L1880.2 1110.2L1880.7 1113.1L1881.3 1116.1L1881.8 1119.0L1882.4 1122.0L1882.9 1124.9L1883.4 1127.9L1884.0 1130.8L1884.5 1133.8L1885.0 1136.7L1885.5 1139.7L1886.0 1142.7L1886.6 1145.6L1887.1 1148.6L1887.6 1151.5L1888.1 1154.5L1888.6 1157.4L1889.1 1160.4L1889.6 1163.4L1890.1 1166.3L1890.6 1169.3L1891.0 1172.2L1891.5 1175.2L1892.0 1178.2L1892.5 1181.1L1893.0 1184.1L1893.4 1187.0L1893.9 1190.0L1894.4 1193.0L1894.8 1195.9L1895.3 1198.9L1895.7 1201.9L1896.2 1204.8L1896.7 1207.8L1897.1 1210.8L1897.6 1213.7L1898.0 1216.7L1898.4 1219.7L1898.9 1222.6L1899.3 1225.6L1899.8 1228.6L1900.2 1231.6L1900.6 1234.5L1901.1 1237.5L1901.5 1240.5L1901.9 1243.4L1902.4 1246.4L1902.8 1249.4L1903.2 1252.4L1903.6 1255.3L1904.1 1258.3L1904.5 1261.3L1904.9 1264.2L1905.3 1267.2L1905.7 1270.2L1906.2 1273.2L1906.6 1276.1L1907.0 1279.1L1907.4 1282.1L1907.8 1285.1L1908.2 1288.0L1908.6 1291.0L1909.1 1294.0L1909.5 1297.0L1909.9 1299.9L1910.3 1302.9L1910.7 1305.9L1911.1 1308.9L1911.5 1311.8L1911.9 1314.8L1912.4 1317.8L1912.8 1320.8L1913.2 1323.7L1913.6 1326.7L1914.0 1329.7L1914.4 1332.7L1914.8 1335.6L1915.2 1338.6L1915.7 1341.6L1916.1 1344.6L1916.5 1347.5L1916.9 1350.5L1917.3 1353.5L1917.7 1356.4L1918.2 1359.4L1918.6 1362.4L1919.0 1365.4L1919.4 1368.3L1919.9 1371.3L1920.3 1374.3L1920.7 1377.3L1921.1 1380.2L1921.6 1383.2L1922.0 1386.2L1922.4 1389.1L1922.9 1392.1L1923.3 1395.1L1923.7 1398.0L1924.2 1401.0L1924.6 1404.0L1925.1 1406.9L1925.5 1409.9L1926.0 1412.9L1926.4 1415.9L1926.9 1418.8L1927.3 1421.8L1927.8 1424.7L1928.2 1427.7L1928.7 1430.7L1929.2 1433.6L1929.6 1436.6L1930.1 1439.6L1930.6 1442.5L1931.1 1445.5L1931.6 1448.5L1932.0 1451.4L1932.5 1454.4L1933.0 1457.3L1933.5 1460.3L1934.0 1463.2L1934.5 1466.2L1935.0 1469.2L1935.5 1472.1L1936.0 1475.1L1936.5 1478.0L1937.1 1481.0L1937.6 1483.9L1938.1 1486.9L1938.6 1489.8L1939.2 1492.8L1939.7 1495.7L1940.2 1498.7L1940.8 1501.6L1941.3 1504.6L1941.9 1507.5L1942.4 1510.5L1943.0 1513.4L1943.6 1516.4L1944.1 1519.3L1944.7 1522.2L1945.3 1525.2L1945.9 1528.1L1946.5 1531.1L1947.1 1534.0L1947.7 1536.9L1948.3 1539.9L1948.9 1542.8L1949.6 1545.7L1950.2 1548.7L1950.9 1551.6L1951.5 1554.5L1952.2 1557.4L1952.9 1560.4L1953.6 1563.3L1954.3 1566.2L1955.1 1569.1L1955.8 1572.0L1956.6 1574.9L1957.3 1577.8L1958.1 1580.7L1959.0 1583.6L1959.8 1586.5L1960.6 1589.4L1961.5 1592.2L1962.4 1595.1L1963.3 1598.0L1964.2 1600.8L1965.2 1603.7L1966.2 1606.6L1967.1 1609.4L1968.2 1612.3L1969.2 1615.1L1970.3 1617.9L1971.4 1620.8L1972.5 1623.6L1973.7 1626.4L1974.8 1629.2L1976.1 1631.9L1977.3 1634.7L1978.6 1637.4L1979.9 1640.2L1981.3 1642.8L1982.6 1645.5L1984.1 1648.1L1985.5 1650.8L1987.1 1653.3L1988.6 1655.9L1990.2 1658.4L1991.9 1660.9L1993.6 1663.3L1995.3 1665.7L1997.1 1668.0L1998.9 1670.3L2000.8 1672.6L2002.8 1674.8L2004.8 1677.0L2006.8 1679.1L2008.9 1681.1L2011.1 1683.1L2013.3 1685.1L2015.6 1686.9L2018.0 1688.8L2020.4 1690.6L2022.8 1692.3L2025.3 1694.0L2027.8 1695.7L2030.3 1697.3L2032.9 1699.0L2035.5 1700.5L2038.1 1702.1L2040.7 1703.7L2043.4 1705.2L2046.1 1706.7L2048.7 1708.3L2051.4 1709.8L2054.1 1711.3L2056.7 1712.8L2059.4 1714.4L2062.0 1715.9L2064.6 1717.5L2067.2 1719.1L2069.8 1720.7L2072.4 1722.3L2074.9 1724.0L2077.4 1725.7L2079.8 1727.4L2082.3 1729.2L2084.7 1731.0L2087.0 1732.8L2089.4 1734.5L2091.8 1736.3L2094.2 1738.0L2096.6 1739.7L2099.0 1741.3L2101.5 1742.9L2104.0 1744.4L2106.6 1745.8L2109.2 1747.1L2111.9 1748.3L2114.6 1749.4L2117.5 1750.4L2120.3 1751.3L2123.3 1752.0L2126.2 1752.7L2129.2 1753.2L2132.3 1753.7L2135.3 1754.1L2138.3 1754.4L2141.3 1754.7L2144.4 1754.8L2147.4 1754.9L2150.4 1754.9L2153.4 1754.9L2156.4 1754.8L2159.4 1754.6L2162.4 1754.4L2165.3 1754.2L2168.3 1753.9L2171.3 1753.5L2174.3 1753.1L2177.2 1752.6L2180.2 1752.1L2183.2 1751.6L2186.1 1751.1L2189.1 1750.5L2192.0 1749.9L2195.0 1749.2L2197.9 1748.6L2200.8 1747.9L2203.8 1747.2L2206.7 1746.5L2209.6 1745.8L2212.6 1745.1L2215.5 1744.4L2218.4 1743.8L2221.4 1743.2L2224.3 1742.6L2227.2 1742.1L2230.2 1741.6L2233.1 1741.2L2236.0 1740.8L2239.0 1740.5L2241.9 1740.2L2244.9 1739.9L2247.8 1739.5L2250.8 1739.2L2253.7 1738.9L2256.7 1738.5L2259.6 1738.1L2262.6 1737.7L2265.6 1737.2L2268.6 1736.7L2271.5 1736.1L2274.5 1735.4L2277.5 1734.7L2280.5 1733.8L2283.5 1732.9L2286.5 1731.9L2289.5 1730.9L2292.4 1730.0L2295.3 1729.4L2298.1 1729.0L2300.8 1729.1L2303.4 1729.6L2305.9 1730.6L2308.3 1732.0L2310.7 1733.7L2313.0 1735.6L2315.3 1737.7L2317.6 1740.0L2319.8 1742.3L2322.1 1744.5L2324.5 1746.7L2326.9 1748.7L2329.3 1750.5L2331.9 1752.1L2334.6 1753.2L2337.4 1754.0L2340.3 1754.2L2343.3 1754.2L2346.4 1753.9L2349.5 1753.5L2352.6 1753.1L2355.7 1753.0L2358.7 1753.1L2361.5 1753.7" stroke="#ff00ff" stroke-dasharray="11.4 19.5"/>
</g>
<rect x="201.5" y="58.5" width="2135.0" height="1728.5" fill="none" stroke="#000" stroke-width="7"/>
<path d="M201.5 1787.0V1821M506.5 1787.0V1821M811.5 1787.0V1821M1116.5 1787.0V1821M1421.5 1787.0V1821M1726.5 1787.0V1821M2031.5 1787.0V1821M2336.5 1787.0V1821M354.0 1787.0V1803.5M659.0 1787.0V1803.5M964.0 1787.0V1803.5M1269.0 1787.0V1803.5M1574.0 1787.0V1803.5M1879.0 1787.0V1803.5M2184.0 1787.0V1803.5" stroke="#000" stroke-width="7" stroke-linecap="round" fill="none"/>
<text transform="translate(202.5 1900) scale(0.956 1)" font-size="75.5" text-anchor="middle">1800</text>
<text transform="translate(507.5 1900) scale(0.956 1)" font-size="75.5" text-anchor="middle">1700</text>
<text transform="translate(812.5 1900) scale(0.956 1)" font-size="75.5" text-anchor="middle">1600</text>
<text transform="translate(1117.5 1900) scale(0.956 1)" font-size="75.5" text-anchor="middle">1500</text>
<text transform="translate(1422.5 1900) scale(0.956 1)" font-size="75.5" text-anchor="middle">1400</text>
<text transform="translate(1727.5 1900) scale(0.956 1)" font-size="75.5" text-anchor="middle">1300</text>
<text transform="translate(2032.5 1900) scale(0.956 1)" font-size="75.5" text-anchor="middle">1200</text>
<text transform="translate(2337.5 1900) scale(0.956 1)" font-size="75.5" text-anchor="middle">1100</text>
<text transform="translate(697.75 256.60) scale(0.9480 1)" font-size="66.67">1633</text>
<text transform="translate(844.35 276.60) scale(0.9480 1)" font-size="66.67">1590</text>
<text transform="translate(975.55 708.00) scale(0.9480 1)" font-size="66.67">1541</text>
<text transform="translate(1053.05 834.40) scale(0.9480 1)" font-size="66.67">1520</text>
<text transform="translate(1306.35 1096.00) scale(0.9480 1)" font-size="66.67">1422</text>
<text transform="translate(1624.25 275.90) scale(0.9480 1)" font-size="66.67">1308</text>
<text transform="translate(631.05 1507.00) scale(0.9480 1)" font-size="66.67">1617</text>
<text transform="translate(558.95 1644.30) scale(0.9480 1)" font-size="66.67">1660</text>
<text transform="translate(867.25 1531.70) scale(0.9480 1)" font-size="66.67">1570</text>
<text transform="translate(974.95 1597.40) scale(0.9480 1)" font-size="66.67">1530</text>
<text transform="translate(1742.75 1552.00) scale(0.9480 1)" font-size="66.67">1278</text>
<text transform="translate(230.37 182.00) scale(0.9615 1)" font-size="66.67">1Pd2Mn/Al</text>
<g>
<text transform="translate(914.60 2053.00) scale(0.9720 1)" font-size="91.67">Wavenumber (cm</text>
<text transform="translate(1549.12 2009.00) scale(0.8892 1)" font-size="53.3">-1</text>
<text transform="translate(1592.67 2053.00) scale(1.0426 1)" font-size="91.67">)</text>
</g>
<text transform="translate(111.40 1182.94) rotate(-90) scale(0.9808 1)" font-size="91.67">Absorbance (a.u.)</text>
<g>
<text transform="translate(1902.93 113.30) scale(0.9718 1)" font-size="45.83">5 min NOx + O</text>
<text transform="translate(2182.79 128.70) scale(0.9700 1)" font-size="27.0">3</text>
<text transform="translate(2202.85 113.30) scale(0.9733 1)" font-size="45.83">(S3)</text>
</g>
<g>
<text transform="translate(1903.81 181.40) scale(0.9713 1)" font-size="45.83">120 min NOx + O</text>
<text transform="translate(2227.99 196.80) scale(0.9700 1)" font-size="27.0">3</text>
<text transform="translate(2248.05 181.40) scale(0.9733 1)" font-size="45.83">(S3)</text>
</g>
<g>
<text transform="translate(1903.96 249.40) scale(0.9702 1)" font-size="45.83">60 min O</text>
<text transform="translate(2071.69 264.80) scale(0.9700 1)" font-size="27.0">3</text>
<text transform="translate(2096.06 249.40) scale(0.9707 1)" font-size="45.83">(S3)</text>
</g>
<g>
<text transform="translate(1902.93 317.50) scale(0.9718 1)" font-size="45.83">5 min NOx + O</text>
<text transform="translate(2182.79 332.90) scale(0.9700 1)" font-size="27.0">3</text>
<text transform="translate(2202.85 317.50) scale(0.9733 1)" font-size="45.83">(S4)</text>
</g>
<g>
<text transform="translate(1903.81 385.30) scale(0.9713 1)" font-size="45.83">120 min NOx + O</text>
<text transform="translate(2227.99 400.70) scale(0.9700 1)" font-size="27.0">3</text>
<text transform="translate(2248.05 385.30) scale(0.9733 1)" font-size="45.83">(S4)</text>
</g>
<g>
<text transform="translate(1903.96 453.30) scale(0.9702 1)" font-size="45.83">60 min O</text>
<text transform="translate(2071.69 468.70) scale(0.9700 1)" font-size="27.0">3</text>
<text transform="translate(2096.06 453.30) scale(0.9707 1)" font-size="45.83">(S4)</text>
</g>
<path d="M710.3 278.5V346.2M755.3 332.0V1684.3M841.5 314.0V1649.0M989.5 766.0V898.3M1062.0 855.6V1015.0M1355.5 1138.3V1750.7M1700.0 313.4V1687.0M626.6 1666.0V1720.0M905.9 1564.5V1693.2M1008.4 1621.3V1700.5M1793.3 1600.0V1708.0" stroke="#000" stroke-width="3.6" stroke-linecap="round" fill="none"/>
<path d="M1793.6 98.5H1892.6" stroke="#000000" stroke-width="10.4" stroke-linecap="round" fill="none"/>
<path d="M1793.6 166.6H1892.6" stroke="#ff0000" stroke-width="10.4" stroke-linecap="round" fill="none"/>
<path d="M1793.6 234.6H1892.6" stroke="#00ff00" stroke-width="10.4" stroke-linecap="round" fill="none"/>
<path d="M1793.6 302.7H1893" stroke="#0000ff" stroke-width="10.4" stroke-linecap="round" stroke-dasharray="12.6 24.6" fill="none"/>
<path d="M1793.6 370.5H1893" stroke="#00ffff" stroke-width="10.4" stroke-linecap="round" stroke-dasharray="12.6 24.6" fill="none"/>
<path d="M1793.6 438.5H1893" stroke="#ff00ff" stroke-width="10.4" stroke-linecap="round" stroke-dasharray="12.6 24.6" fill="none"/>
</svg></body></html>
